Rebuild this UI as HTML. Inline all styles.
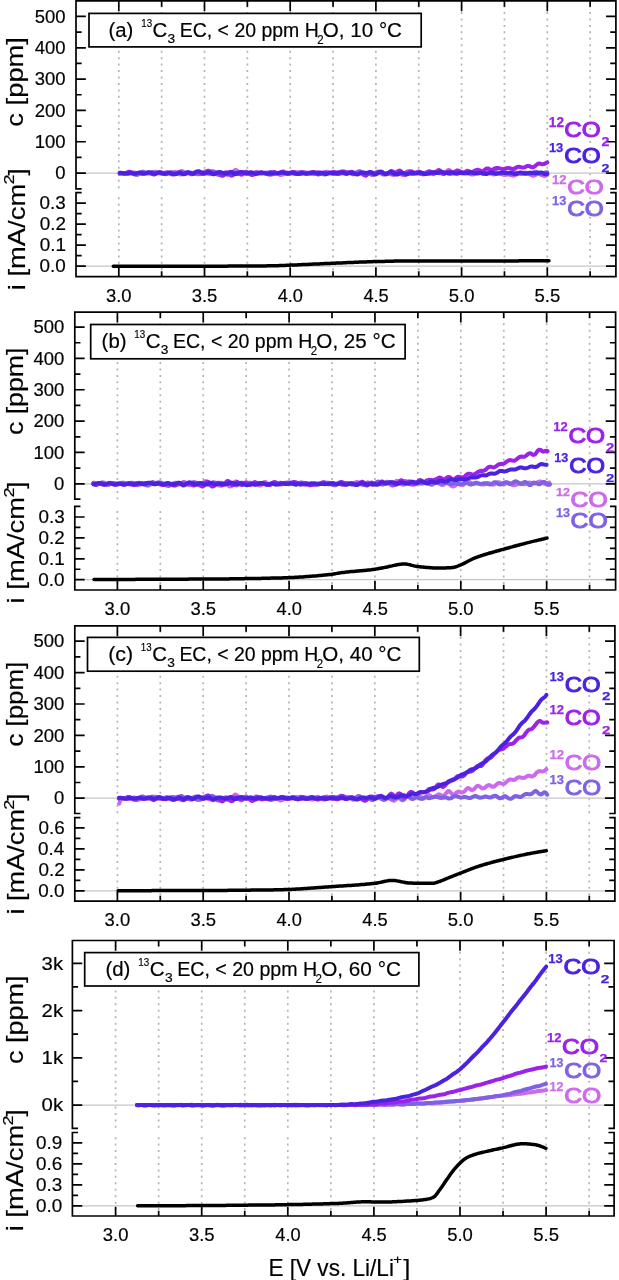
<!DOCTYPE html>
<html><head><meta charset="utf-8"><title>figure</title>
<style>html,body{margin:0;padding:0;background:#fff;}svg{display:block;}</style>
</head><body>
<svg width="619" height="1280" viewBox="0 0 619 1280" font-family='"Liberation Sans", Arial, Helvetica, sans-serif'>
<rect x="0" y="0" width="619" height="1280" fill="#fff"/>
<style>text{stroke:#000;stroke-width:0.18px;}</style>
<path d="M118.80,5.55 V188.90 M118.80,197.35 V275.70 M161.65,5.55 V188.90 M161.65,197.35 V275.70 M204.50,5.55 V188.90 M204.50,197.35 V275.70 M247.35,5.55 V188.90 M247.35,197.35 V275.70 M290.20,5.55 V188.90 M290.20,197.35 V275.70 M333.05,5.55 V188.90 M333.05,197.35 V275.70 M375.90,5.55 V188.90 M375.90,197.35 V275.70 M418.75,5.55 V188.90 M418.75,197.35 V275.70 M461.60,5.55 V188.90 M461.60,197.35 V275.70 M504.45,5.55 V188.90 M504.45,197.35 V275.70 M547.30,5.55 V188.90 M547.30,197.35 V275.70 M590.15,5.55 V188.90 M590.15,197.35 V275.70" stroke="#b4b4b4" stroke-width="1.7" stroke-dasharray="2.0 4.45" fill="none"/>
<path d="M76.00,173.10 H615.90 M76.00,266.20 H615.90" stroke="#c6c6c6" stroke-width="1.25" fill="none"/>
<path d="M119.7,174.0 L120.7,173.5 L121.7,173.1 L122.7,172.9 L123.7,172.9 L124.7,173.0 L125.7,173.2 L126.7,173.4 L127.7,173.6 L128.7,173.7 L129.7,173.7 L130.7,173.5 L131.7,173.2 L132.7,172.8 L133.7,172.5 L134.7,172.5 L135.7,172.8 L136.7,173.3 L137.7,173.7 L138.7,174.0 L139.7,174.0 L140.7,173.8 L141.7,173.4 L142.7,173.1 L143.7,172.9 L144.7,172.7 L145.7,172.7 L146.7,172.8 L147.7,172.9 L148.7,173.3 L149.7,173.6 L150.7,173.6 L151.7,173.3 L152.7,172.7 L153.7,172.1 L154.7,171.8 L155.7,171.7 L156.7,172.1 L157.7,172.7 L158.7,173.2 L159.7,173.6 L160.7,173.8 L161.7,173.5 L162.7,173.3 L163.7,172.9 L164.7,172.6 L165.7,172.4 L166.7,172.4 L167.7,172.7 L168.7,173.1 L169.7,173.6 L170.7,173.6 L171.7,173.3 L172.7,172.8 L173.7,172.2 L174.7,172.1 L175.7,172.1 L176.7,172.5 L177.7,173.0 L178.7,173.8 L179.7,174.3 L180.7,174.6 L181.7,174.4 L182.7,173.9 L183.7,173.2 L184.7,172.7 L185.7,172.3 L186.7,172.2 L187.7,172.5 L188.7,173.0 L189.7,173.7 L190.7,174.2 L191.7,174.4 L192.7,174.0 L193.7,173.1 L194.7,172.2 L195.7,171.7 L196.7,171.8 L197.7,172.4 L198.7,173.3 L199.7,173.9 L200.7,174.2 L201.7,173.9 L202.7,173.1 L203.7,172.0 L204.7,171.5 L205.7,171.5 L206.7,171.8 L207.7,172.6 L208.7,173.6 L209.7,174.2 L210.7,174.0 L211.7,173.6 L212.7,172.9 L213.7,172.1 L214.7,172.0 L215.7,172.3 L216.7,173.0 L217.7,173.9 L218.7,174.6 L219.7,175.0 L220.7,175.2 L221.7,174.9 L222.7,174.1 L223.7,173.2 L224.7,172.6 L225.7,172.1 L226.7,172.2 L227.7,172.8 L228.7,173.2 L229.7,173.9 L230.7,174.0 L231.7,173.2 L232.7,172.2 L233.7,171.1 L234.7,170.4 L235.7,169.9 L236.7,170.4 L237.7,171.3 L238.7,172.5 L239.7,173.8 L240.7,174.6 L241.7,174.8 L242.7,174.4 L243.7,173.4 L244.7,172.2 L245.7,171.6 L246.7,171.7 L247.7,172.3 L248.7,173.3 L249.7,173.8 L250.7,174.3 L251.7,174.4 L252.7,174.1 L253.7,173.3 L254.7,172.5 L255.7,171.9 L256.7,171.7 L257.7,172.1 L258.7,172.4 L259.7,172.6 L260.7,172.7 L261.7,172.8 L262.7,172.8 L263.7,172.8 L264.7,172.6 L265.7,172.5 L266.7,172.6 L267.7,172.7 L268.7,173.2 L269.7,173.9 L270.7,174.5 L271.7,174.6 L272.7,174.4 L273.7,174.0 L274.7,173.3 L275.7,173.0 L276.7,173.1 L277.7,173.8 L278.7,174.3 L279.7,174.8 L280.7,175.1 L281.7,174.9 L282.7,174.4 L283.7,173.9 L284.7,173.3 L285.7,172.9 L286.7,172.7 L287.7,172.6 L288.7,172.8 L289.7,173.1 L290.7,173.4 L291.7,173.3 L292.7,172.9 L293.7,172.4 L294.7,172.1 L295.7,172.0 L296.7,172.2 L297.7,172.5 L298.7,173.0 L299.7,173.5 L300.7,173.8 L301.7,173.8 L302.7,173.5 L303.7,173.2 L304.7,172.8 L305.7,172.5 L306.7,172.4 L307.7,172.5 L308.7,172.8 L309.7,173.2 L310.7,173.7 L311.7,174.1 L312.7,174.1 L313.7,174.0 L314.7,173.5 L315.7,172.9 L316.7,172.2 L317.7,171.9 L318.7,172.1 L319.7,172.7 L320.7,173.3 L321.7,173.9 L322.7,174.0 L323.7,173.6 L324.7,172.8 L325.7,172.1 L326.7,171.7 L327.7,171.8 L328.7,172.3 L329.7,172.9 L330.7,173.4 L331.7,173.8 L332.7,173.9 L333.7,173.7 L334.7,173.2 L335.7,172.5 L336.7,172.2 L337.7,172.2 L338.7,172.6 L339.7,173.0 L340.7,173.4 L341.7,173.6 L342.7,173.5 L343.7,173.1 L344.7,172.7 L345.7,172.3 L346.7,172.0 L347.7,172.0 L348.7,172.1 L349.7,172.4 L350.7,173.2 L351.7,173.8 L352.7,174.3 L353.7,174.3 L354.7,174.1 L355.7,173.5 L356.7,172.8 L357.7,172.3 L358.7,172.2 L359.7,172.6 L360.7,173.2 L361.7,173.8 L362.7,174.3 L363.7,174.7 L364.7,174.7 L365.7,174.3 L366.7,173.6 L367.7,173.3 L368.7,173.2 L369.7,173.6 L370.7,174.2 L371.7,174.8 L372.7,174.9 L373.7,174.6 L374.7,173.6 L375.7,172.6 L376.7,171.9 L377.7,171.5 L378.7,171.8 L379.7,172.4 L380.7,173.0 L381.7,173.7 L382.7,173.9 L383.7,173.9 L384.7,173.5 L385.7,173.3 L386.7,172.9 L387.7,172.9 L388.7,173.1 L389.7,173.6 L390.7,174.1 L391.7,174.4 L392.7,174.8 L393.7,175.1 L394.7,174.9 L395.7,174.3 L396.7,173.6 L397.7,173.1 L398.7,172.9 L399.7,173.3 L400.7,174.0 L401.7,174.7 L402.7,175.0 L403.7,174.8 L404.7,174.1 L405.7,172.8 L406.7,171.7 L407.7,171.2 L408.7,171.1 L409.7,171.5 L410.7,172.3 L411.7,173.0 L412.7,173.5 L413.7,173.6 L414.7,173.1 L415.7,172.6 L416.7,172.2 L417.7,171.6 L418.7,171.3 L419.7,171.6 L420.7,172.2 L421.7,173.3 L422.7,174.4 L423.7,174.4 L424.7,173.9 L425.7,173.1 L426.7,172.2 L427.7,171.8 L428.7,171.6 L429.7,171.8 L430.7,172.5 L431.7,173.5 L432.7,174.0 L433.7,174.2 L434.7,173.6 L435.7,173.0 L436.7,172.5 L437.7,172.0 L438.7,171.8 L439.7,172.0 L440.7,172.6 L441.7,173.2 L442.7,173.8 L443.7,173.9 L444.7,173.1 L445.7,172.3 L446.7,171.2 L447.7,170.3 L448.7,169.9 L449.7,170.2 L450.7,171.2 L451.7,172.4 L452.7,173.2 L453.7,173.5 L454.7,173.4 L455.7,172.9 L456.7,172.3 L457.7,172.0 L458.7,171.9 L459.7,172.3 L460.7,172.8 L461.7,173.3 L462.7,173.6 L463.7,173.6 L464.7,173.4 L465.7,173.1 L466.7,172.5 L467.7,172.1 L468.7,172.2 L469.7,172.9 L470.7,173.8 L471.7,174.5 L472.7,174.6 L473.7,174.4 L474.7,173.7 L475.7,172.7 L476.7,171.7 L477.7,171.3 L478.7,171.4 L479.7,171.8 L480.7,172.6 L481.7,173.4 L482.7,173.9 L483.7,174.0 L484.7,173.8 L485.7,173.4 L486.7,172.8 L487.7,172.3 L488.7,172.1 L489.7,172.4 L490.7,173.0 L491.7,173.8 L492.7,174.4 L493.7,174.6 L494.7,174.4 L495.7,174.0 L496.7,173.5 L497.7,173.0 L498.7,172.9 L499.7,173.1 L500.7,173.6 L501.7,174.1 L502.7,174.5 L503.7,174.9 L504.7,175.0 L505.7,174.8 L506.7,174.7 L507.7,174.6 L508.7,174.5 L509.7,174.7 L510.7,174.9 L511.7,175.3 L512.7,175.5 L513.7,175.7 L514.7,175.5 L515.7,175.0 L516.7,174.3 L517.7,173.6 L518.7,173.3 L519.7,173.3 L520.7,173.4 L521.7,173.7 L522.7,173.9 L523.7,174.0 L524.7,174.0 L525.7,173.8 L526.7,173.5 L527.7,173.4 L528.7,173.4 L529.7,173.9 L530.7,174.6 L531.7,175.4 L532.7,175.8 L533.7,175.8 L534.7,175.4 L535.7,174.9 L536.7,174.2 L537.7,173.8 L538.7,173.7 L539.7,174.0 L540.7,174.4 L541.7,175.1 L542.7,175.5 L543.7,175.8 L544.7,175.9 L545.7,175.6 L546.7,175.3 L547.3,174.7" fill="none" stroke="#cd6aec" stroke-width="4.0" stroke-linecap="round" stroke-linejoin="round"/>
<path d="M119.7,173.4 L120.7,173.0 L121.7,172.9 L122.7,172.9 L123.7,173.1 L124.7,173.2 L125.7,173.6 L126.7,173.8 L127.7,173.7 L128.7,173.2 L129.7,172.7 L130.7,172.4 L131.7,172.4 L132.7,172.8 L133.7,173.5 L134.7,174.2 L135.7,174.7 L136.7,174.9 L137.7,174.7 L138.7,174.1 L139.7,173.4 L140.7,172.6 L141.7,172.0 L142.7,171.7 L143.7,171.8 L144.7,172.3 L145.7,173.0 L146.7,173.3 L147.7,173.4 L148.7,172.9 L149.7,172.6 L150.7,172.4 L151.7,172.1 L152.7,172.0 L153.7,172.5 L154.7,172.7 L155.7,173.1 L156.7,173.2 L157.7,173.1 L158.7,173.0 L159.7,172.6 L160.7,172.5 L161.7,172.5 L162.7,172.8 L163.7,173.5 L164.7,174.1 L165.7,174.2 L166.7,174.1 L167.7,173.6 L168.7,173.1 L169.7,172.6 L170.7,172.2 L171.7,172.2 L172.7,172.4 L173.7,172.6 L174.7,173.2 L175.7,173.5 L176.7,173.7 L177.7,173.4 L178.7,172.8 L179.7,172.0 L180.7,171.3 L181.7,171.2 L182.7,171.4 L183.7,172.2 L184.7,173.0 L185.7,173.6 L186.7,173.6 L187.7,173.3 L188.7,173.1 L189.7,173.2 L190.7,173.0 L191.7,172.8 L192.7,172.8 L193.7,172.8 L194.7,173.3 L195.7,173.7 L196.7,174.1 L197.7,174.3 L198.7,174.2 L199.7,173.8 L200.7,173.6 L201.7,173.3 L202.7,173.2 L203.7,173.2 L204.7,173.3 L205.7,173.6 L206.7,173.6 L207.7,173.3 L208.7,172.9 L209.7,172.2 L210.7,171.6 L211.7,171.3 L212.7,171.2 L213.7,171.4 L214.7,172.0 L215.7,172.9 L216.7,173.8 L217.7,174.5 L218.7,174.8 L219.7,174.6 L220.7,174.1 L221.7,173.4 L222.7,173.0 L223.7,173.2 L224.7,173.6 L225.7,174.1 L226.7,174.6 L227.7,174.7 L228.7,174.5 L229.7,174.1 L230.7,173.5 L231.7,172.9 L232.7,172.2 L233.7,172.1 L234.7,172.6 L235.7,173.2 L236.7,173.7 L237.7,173.9 L238.7,173.7 L239.7,173.0 L240.7,172.3 L241.7,172.0 L242.7,172.0 L243.7,172.5 L244.7,173.0 L245.7,173.6 L246.7,173.7 L247.7,173.6 L248.7,173.1 L249.7,172.6 L250.7,172.3 L251.7,172.3 L252.7,172.7 L253.7,173.2 L254.7,173.9 L255.7,174.2 L256.7,174.1 L257.7,173.9 L258.7,173.5 L259.7,172.9 L260.7,172.6 L261.7,172.5 L262.7,172.8 L263.7,173.3 L264.7,173.5 L265.7,173.7 L266.7,173.4 L267.7,173.1 L268.7,172.6 L269.7,172.1 L270.7,171.9 L271.7,172.0 L272.7,172.4 L273.7,172.7 L274.7,173.1 L275.7,173.3 L276.7,173.3 L277.7,173.2 L278.7,173.0 L279.7,172.8 L280.7,172.7 L281.7,172.8 L282.7,172.9 L283.7,173.1 L284.7,173.4 L285.7,173.5 L286.7,173.5 L287.7,173.4 L288.7,173.3 L289.7,173.1 L290.7,173.1 L291.7,173.2 L292.7,173.4 L293.7,173.7 L294.7,173.9 L295.7,173.7 L296.7,173.4 L297.7,173.1 L298.7,172.6 L299.7,172.2 L300.7,172.1 L301.7,172.2 L302.7,172.6 L303.7,172.9 L304.7,173.3 L305.7,173.4 L306.7,173.3 L307.7,173.0 L308.7,173.0 L309.7,172.7 L310.7,172.5 L311.7,172.6 L312.7,172.9 L313.7,173.2 L314.7,173.4 L315.7,173.5 L316.7,173.2 L317.7,173.0 L318.7,172.8 L319.7,172.6 L320.7,172.7 L321.7,173.1 L322.7,173.7 L323.7,174.3 L324.7,174.6 L325.7,174.4 L326.7,173.9 L327.7,173.4 L328.7,173.0 L329.7,172.7 L330.7,172.6 L331.7,172.7 L332.7,172.8 L333.7,173.1 L334.7,173.3 L335.7,173.5 L336.7,173.6 L337.7,173.4 L338.7,172.8 L339.7,172.1 L340.7,171.8 L341.7,171.7 L342.7,172.0 L343.7,172.5 L344.7,172.8 L345.7,172.9 L346.7,173.0 L347.7,172.7 L348.7,172.7 L349.7,172.7 L350.7,173.0 L351.7,173.6 L352.7,174.1 L353.7,174.1 L354.7,173.8 L355.7,173.1 L356.7,172.3 L357.7,171.7 L358.7,171.2 L359.7,171.2 L360.7,171.6 L361.7,172.5 L362.7,173.5 L363.7,174.5 L364.7,175.0 L365.7,174.8 L366.7,174.3 L367.7,173.6 L368.7,173.3 L369.7,173.5 L370.7,174.1 L371.7,174.6 L372.7,174.7 L373.7,174.5 L374.7,173.9 L375.7,173.3 L376.7,172.6 L377.7,172.2 L378.7,172.1 L379.7,172.3 L380.7,172.9 L381.7,173.6 L382.7,174.3 L383.7,174.6 L384.7,174.5 L385.7,174.3 L386.7,173.6 L387.7,173.2 L388.7,173.1 L389.7,173.2 L390.7,173.7 L391.7,174.2 L392.7,174.3 L393.7,174.1 L394.7,173.4 L395.7,172.8 L396.7,172.2 L397.7,171.8 L398.7,171.6 L399.7,172.1 L400.7,172.9 L401.7,173.8 L402.7,174.1 L403.7,174.0 L404.7,173.6 L405.7,173.0 L406.7,172.4 L407.7,172.2 L408.7,172.5 L409.7,172.8 L410.7,173.3 L411.7,173.9 L412.7,174.0 L413.7,173.8 L414.7,173.3 L415.7,172.7 L416.7,172.5 L417.7,172.7 L418.7,173.3 L419.7,173.8 L420.7,174.1 L421.7,174.1 L422.7,173.7 L423.7,173.1 L424.7,172.7 L425.7,172.7 L426.7,172.9 L427.7,173.3 L428.7,173.7 L429.7,173.8 L430.7,173.5 L431.7,173.1 L432.7,172.6 L433.7,172.3 L434.7,172.1 L435.7,172.1 L436.7,172.4 L437.7,172.7 L438.7,173.0 L439.7,173.2 L440.7,173.3 L441.7,173.2 L442.7,173.0 L443.7,172.8 L444.7,172.6 L445.7,172.7 L446.7,173.0 L447.7,173.4 L448.7,173.9 L449.7,174.1 L450.7,174.0 L451.7,173.6 L452.7,173.1 L453.7,172.4 L454.7,172.1 L455.7,172.0 L456.7,172.1 L457.7,172.2 L458.7,172.5 L459.7,172.7 L460.7,172.8 L461.7,172.8 L462.7,172.6 L463.7,172.5 L464.7,172.5 L465.7,172.7 L466.7,172.9 L467.7,173.3 L468.7,173.6 L469.7,173.7 L470.7,173.7 L471.7,173.3 L472.7,172.8 L473.7,172.3 L474.7,172.0 L475.7,171.9 L476.7,172.0 L477.7,172.5 L478.7,172.9 L479.7,173.1 L480.7,173.1 L481.7,172.9 L482.7,172.7 L483.7,172.6 L484.7,172.4 L485.7,172.4 L486.7,172.6 L487.7,172.9 L488.7,173.1 L489.7,173.3 L490.7,173.3 L491.7,173.0 L492.7,172.5 L493.7,172.1 L494.7,171.7 L495.7,171.7 L496.7,172.1 L497.7,172.5 L498.7,173.1 L499.7,173.5 L500.7,173.7 L501.7,173.4 L502.7,173.1 L503.7,172.7 L504.7,172.3 L505.7,172.3 L506.7,172.7 L507.7,173.2 L508.7,173.8 L509.7,174.2 L510.7,174.4 L511.7,174.3 L512.7,173.7 L513.7,173.0 L514.7,172.5 L515.7,172.5 L516.7,172.7 L517.7,173.1 L518.7,173.4 L519.7,173.7 L520.7,173.8 L521.7,173.6 L522.7,173.1 L523.7,172.8 L524.7,172.6 L525.7,172.7 L526.7,172.9 L527.7,173.4 L528.7,173.7 L529.7,174.0 L530.7,174.0 L531.7,173.8 L532.7,173.2 L533.7,172.5 L534.7,172.0 L535.7,171.7 L536.7,171.8 L537.7,172.7 L538.7,173.4 L539.7,174.1 L540.7,174.4 L541.7,174.3 L542.7,173.9 L543.7,173.4 L544.7,172.7 L545.7,172.3 L546.7,172.2 L547.3,172.2" fill="none" stroke="#7f62e4" stroke-width="4.0" stroke-linecap="round" stroke-linejoin="round"/>
<path d="M119.7,173.0 L120.7,173.3 L121.7,173.5 L122.7,173.8 L123.7,173.8 L124.7,173.5 L125.7,173.1 L126.7,172.7 L127.7,172.1 L128.7,171.7 L129.7,171.8 L130.7,172.2 L131.7,173.0 L132.7,173.7 L133.7,174.1 L134.7,174.2 L135.7,174.0 L136.7,173.4 L137.7,172.9 L138.7,172.7 L139.7,172.8 L140.7,173.1 L141.7,173.5 L142.7,173.8 L143.7,173.8 L144.7,173.6 L145.7,173.3 L146.7,172.9 L147.7,172.6 L148.7,172.5 L149.7,172.8 L150.7,173.3 L151.7,173.8 L152.7,174.2 L153.7,174.5 L154.7,174.5 L155.7,174.1 L156.7,173.4 L157.7,172.8 L158.7,172.3 L159.7,172.3 L160.7,172.5 L161.7,173.1 L162.7,173.6 L163.7,173.8 L164.7,173.6 L165.7,173.1 L166.7,172.6 L167.7,172.4 L168.7,172.6 L169.7,173.2 L170.7,173.7 L171.7,174.2 L172.7,174.6 L173.7,174.4 L174.7,174.1 L175.7,173.6 L176.7,173.1 L177.7,172.6 L178.7,172.2 L179.7,172.1 L180.7,172.7 L181.7,173.5 L182.7,174.1 L183.7,174.3 L184.7,174.0 L185.7,173.6 L186.7,173.1 L187.7,172.9 L188.7,172.8 L189.7,173.3 L190.7,173.6 L191.7,173.8 L192.7,173.8 L193.7,173.5 L194.7,173.0 L195.7,172.3 L196.7,171.9 L197.7,171.7 L198.7,171.9 L199.7,172.7 L200.7,173.4 L201.7,173.7 L202.7,174.1 L203.7,173.8 L204.7,173.1 L205.7,172.3 L206.7,171.3 L207.7,170.8 L208.7,170.8 L209.7,171.4 L210.7,172.4 L211.7,173.5 L212.7,174.2 L213.7,174.3 L214.7,174.0 L215.7,173.2 L216.7,172.5 L217.7,172.4 L218.7,173.0 L219.7,174.1 L220.7,175.0 L221.7,175.8 L222.7,175.8 L223.7,175.2 L224.7,174.3 L225.7,173.3 L226.7,172.8 L227.7,173.0 L228.7,173.5 L229.7,174.4 L230.7,175.4 L231.7,175.7 L232.7,175.4 L233.7,174.7 L234.7,173.5 L235.7,172.9 L236.7,172.7 L237.7,173.0 L238.7,173.5 L239.7,173.8 L240.7,174.3 L241.7,174.3 L242.7,173.9 L243.7,173.2 L244.7,172.6 L245.7,172.2 L246.7,172.2 L247.7,172.6 L248.7,173.5 L249.7,174.1 L250.7,174.5 L251.7,174.9 L252.7,174.9 L253.7,174.6 L254.7,174.2 L255.7,173.4 L256.7,173.0 L257.7,172.8 L258.7,173.0 L259.7,173.3 L260.7,173.5 L261.7,173.4 L262.7,173.3 L263.7,173.1 L264.7,173.0 L265.7,173.1 L266.7,173.5 L267.7,174.1 L268.7,174.5 L269.7,174.6 L270.7,174.4 L271.7,173.7 L272.7,172.7 L273.7,172.1 L274.7,172.1 L275.7,172.5 L276.7,173.0 L277.7,173.4 L278.7,173.5 L279.7,173.2 L280.7,172.7 L281.7,172.0 L282.7,171.6 L283.7,171.6 L284.7,172.0 L285.7,172.8 L286.7,173.6 L287.7,174.1 L288.7,174.1 L289.7,173.7 L290.7,172.9 L291.7,172.3 L292.7,171.9 L293.7,172.1 L294.7,172.5 L295.7,173.2 L296.7,173.7 L297.7,174.1 L298.7,174.1 L299.7,173.7 L300.7,173.0 L301.7,172.5 L302.7,172.2 L303.7,172.3 L304.7,172.7 L305.7,173.0 L306.7,173.3 L307.7,173.6 L308.7,173.6 L309.7,173.5 L310.7,173.0 L311.7,172.5 L312.7,172.0 L313.7,171.9 L314.7,172.3 L315.7,173.0 L316.7,173.8 L317.7,174.4 L318.7,174.4 L319.7,174.1 L320.7,173.6 L321.7,173.0 L322.7,172.6 L323.7,172.5 L324.7,172.6 L325.7,172.7 L326.7,173.0 L327.7,173.2 L328.7,173.3 L329.7,173.1 L330.7,172.7 L331.7,172.5 L332.7,172.1 L333.7,171.8 L334.7,172.1 L335.7,172.6 L336.7,173.5 L337.7,174.1 L338.7,174.1 L339.7,173.5 L340.7,172.7 L341.7,171.9 L342.7,171.4 L343.7,171.4 L344.7,171.9 L345.7,172.5 L346.7,172.8 L347.7,172.8 L348.7,172.6 L349.7,172.4 L350.7,171.9 L351.7,171.8 L352.7,172.0 L353.7,172.5 L354.7,173.2 L355.7,173.8 L356.7,174.1 L357.7,174.1 L358.7,173.5 L359.7,172.9 L360.7,172.5 L361.7,172.7 L362.7,173.5 L363.7,174.7 L364.7,175.3 L365.7,175.7 L366.7,175.2 L367.7,174.2 L368.7,173.2 L369.7,172.3 L370.7,172.1 L371.7,172.2 L372.7,172.7 L373.7,173.0 L374.7,173.2 L375.7,173.1 L376.7,172.9 L377.7,172.6 L378.7,172.1 L379.7,171.6 L380.7,171.4 L381.7,171.6 L382.7,172.4 L383.7,173.4 L384.7,174.0 L385.7,174.3 L386.7,174.2 L387.7,173.8 L388.7,173.0 L389.7,171.9 L390.7,171.2 L391.7,171.0 L392.7,171.5 L393.7,172.0 L394.7,172.7 L395.7,172.8 L396.7,172.2 L397.7,171.5 L398.7,170.8 L399.7,170.6 L400.7,171.1 L401.7,172.0 L402.7,173.2 L403.7,174.2 L404.7,174.7 L405.7,174.9 L406.7,174.4 L407.7,173.6 L408.7,172.7 L409.7,171.7 L410.7,171.3 L411.7,171.4 L412.7,171.9 L413.7,172.6 L414.7,173.0 L415.7,172.9 L416.7,172.6 L417.7,172.4 L418.7,172.5 L419.7,172.2 L420.7,172.5 L421.7,173.1 L422.7,173.5 L423.7,174.0 L424.7,173.9 L425.7,173.5 L426.7,172.9 L427.7,172.0 L428.7,171.4 L429.7,171.3 L430.7,171.9 L431.7,172.6 L432.7,173.4 L433.7,173.5 L434.7,173.2 L435.7,172.4 L436.7,171.4 L437.7,170.5 L438.7,170.0 L439.7,170.3 L440.7,171.2 L441.7,172.2 L442.7,173.4 L443.7,173.9 L444.7,173.7 L445.7,173.0 L446.7,172.3 L447.7,171.7 L448.7,171.5 L449.7,171.7 L450.7,172.1 L451.7,172.3 L452.7,172.4 L453.7,172.1 L454.7,171.8 L455.7,171.2 L456.7,170.6 L457.7,170.5 L458.7,170.7 L459.7,171.3 L460.7,171.8 L461.7,172.4 L462.7,172.8 L463.7,172.8 L464.7,172.4 L465.7,171.6 L466.7,171.0 L467.7,170.8 L468.7,171.1 L469.7,171.5 L470.7,172.0 L471.7,172.2 L472.7,171.9 L473.7,171.4 L474.7,170.7 L475.7,170.3 L476.7,169.9 L477.7,169.8 L478.7,170.0 L479.7,170.4 L480.7,170.9 L481.7,171.3 L482.7,171.3 L483.7,170.7 L484.7,169.8 L485.7,169.0 L486.7,168.5 L487.7,168.4 L488.7,168.7 L489.7,169.2 L490.7,169.7 L491.7,169.9 L492.7,169.5 L493.7,169.0 L494.7,168.4 L495.7,168.1 L496.7,167.9 L497.7,167.9 L498.7,168.1 L499.7,168.4 L500.7,168.6 L501.7,168.9 L502.7,169.1 L503.7,169.1 L504.7,168.9 L505.7,168.5 L506.7,168.3 L507.7,168.1 L508.7,168.0 L509.7,168.2 L510.7,168.5 L511.7,168.9 L512.7,169.1 L513.7,169.0 L514.7,168.4 L515.7,167.9 L516.7,167.4 L517.7,166.9 L518.7,166.7 L519.7,166.8 L520.7,167.1 L521.7,167.4 L522.7,167.6 L523.7,167.6 L524.7,167.4 L525.7,166.8 L526.7,166.2 L527.7,165.9 L528.7,165.9 L529.7,166.1 L530.7,166.8 L531.7,167.3 L532.7,167.3 L533.7,167.0 L534.7,166.4 L535.7,165.5 L536.7,164.7 L537.7,163.9 L538.7,163.6 L539.7,163.5 L540.7,163.8 L541.7,164.2 L542.7,164.2 L543.7,164.1 L544.7,163.7 L545.7,163.1 L546.7,162.6 L547.3,162.4" fill="none" stroke="#9b22e8" stroke-width="4.0" stroke-linecap="round" stroke-linejoin="round"/>
<path d="M119.7,172.7 L120.7,172.7 L121.7,172.8 L122.7,173.1 L123.7,173.3 L124.7,173.6 L125.7,173.6 L126.7,173.6 L127.7,173.4 L128.7,173.2 L129.7,172.9 L130.7,172.8 L131.7,173.0 L132.7,173.2 L133.7,173.4 L134.7,173.5 L135.7,173.4 L136.7,173.2 L137.7,172.9 L138.7,172.7 L139.7,172.6 L140.7,172.7 L141.7,173.0 L142.7,173.3 L143.7,173.6 L144.7,173.6 L145.7,173.3 L146.7,172.9 L147.7,172.5 L148.7,172.3 L149.7,172.4 L150.7,172.6 L151.7,172.9 L152.7,173.3 L153.7,173.6 L154.7,173.5 L155.7,173.4 L156.7,173.1 L157.7,172.8 L158.7,172.6 L159.7,172.5 L160.7,172.7 L161.7,173.0 L162.7,173.3 L163.7,173.5 L164.7,173.7 L165.7,173.6 L166.7,173.4 L167.7,173.0 L168.7,172.8 L169.7,172.8 L170.7,173.0 L171.7,173.4 L172.7,173.9 L173.7,174.1 L174.7,174.2 L175.7,174.2 L176.7,173.8 L177.7,173.5 L178.7,173.1 L179.7,173.0 L180.7,173.1 L181.7,173.5 L182.7,173.8 L183.7,174.1 L184.7,173.9 L185.7,173.3 L186.7,172.7 L187.7,172.3 L188.7,172.3 L189.7,172.5 L190.7,173.0 L191.7,173.6 L192.7,173.9 L193.7,173.8 L194.7,173.2 L195.7,172.4 L196.7,171.7 L197.7,171.4 L198.7,171.3 L199.7,171.5 L200.7,172.0 L201.7,172.4 L202.7,172.8 L203.7,173.1 L204.7,173.2 L205.7,173.2 L206.7,172.8 L207.7,172.5 L208.7,172.5 L209.7,172.6 L210.7,172.9 L211.7,173.4 L212.7,173.8 L213.7,174.0 L214.7,173.8 L215.7,173.5 L216.7,173.0 L217.7,172.5 L218.7,172.2 L219.7,172.1 L220.7,172.2 L221.7,172.5 L222.7,172.9 L223.7,173.3 L224.7,173.5 L225.7,173.6 L226.7,173.6 L227.7,173.2 L228.7,172.6 L229.7,172.1 L230.7,171.8 L231.7,172.1 L232.7,172.8 L233.7,173.5 L234.7,174.0 L235.7,174.1 L236.7,173.7 L237.7,173.1 L238.7,172.6 L239.7,172.2 L240.7,172.0 L241.7,172.1 L242.7,172.3 L243.7,172.9 L244.7,173.2 L245.7,173.4 L246.7,173.5 L247.7,173.2 L248.7,172.9 L249.7,172.6 L250.7,172.5 L251.7,172.6 L252.7,172.8 L253.7,173.2 L254.7,173.6 L255.7,173.7 L256.7,173.6 L257.7,173.3 L258.7,172.9 L259.7,172.7 L260.7,172.5 L261.7,172.5 L262.7,172.7 L263.7,172.9 L264.7,173.2 L265.7,173.4 L266.7,173.5 L267.7,173.4 L268.7,173.2 L269.7,173.0 L270.7,173.0 L271.7,173.2 L272.7,173.4 L273.7,173.6 L274.7,173.6 L275.7,173.6 L276.7,173.4 L277.7,173.1 L278.7,172.8 L279.7,172.6 L280.7,172.4 L281.7,172.5 L282.7,172.6 L283.7,172.9 L284.7,173.1 L285.7,173.2 L286.7,173.2 L287.7,173.0 L288.7,172.9 L289.7,172.8 L290.7,172.7 L291.7,172.8 L292.7,172.8 L293.7,173.0 L294.7,173.2 L295.7,173.5 L296.7,173.7 L297.7,173.8 L298.7,173.8 L299.7,173.7 L300.7,173.5 L301.7,173.3 L302.7,173.2 L303.7,173.4 L304.7,173.6 L305.7,173.8 L306.7,173.8 L307.7,173.6 L308.7,173.3 L309.7,173.0 L310.7,172.8 L311.7,172.7 L312.7,172.7 L313.7,172.8 L314.7,173.2 L315.7,173.3 L316.7,173.3 L317.7,173.2 L318.7,173.1 L319.7,172.9 L320.7,172.8 L321.7,172.9 L322.7,173.1 L323.7,173.5 L324.7,173.8 L325.7,173.9 L326.7,173.9 L327.7,173.6 L328.7,173.3 L329.7,173.0 L330.7,173.0 L331.7,173.0 L332.7,173.3 L333.7,173.5 L334.7,173.5 L335.7,173.4 L336.7,173.2 L337.7,172.9 L338.7,172.6 L339.7,172.6 L340.7,172.5 L341.7,172.6 L342.7,172.7 L343.7,173.0 L344.7,173.5 L345.7,173.8 L346.7,173.9 L347.7,173.7 L348.7,173.4 L349.7,173.1 L350.7,172.9 L351.7,172.8 L352.7,173.1 L353.7,173.5 L354.7,173.9 L355.7,174.2 L356.7,174.4 L357.7,174.4 L358.7,174.0 L359.7,173.5 L360.7,173.0 L361.7,172.7 L362.7,172.6 L363.7,172.5 L364.7,172.7 L365.7,173.0 L366.7,172.9 L367.7,172.7 L368.7,172.3 L369.7,172.1 L370.7,172.4 L371.7,172.9 L372.7,173.5 L373.7,174.1 L374.7,174.5 L375.7,174.4 L376.7,174.0 L377.7,173.5 L378.7,172.6 L379.7,172.2 L380.7,172.0 L381.7,172.2 L382.7,172.6 L383.7,173.3 L384.7,173.8 L385.7,174.0 L386.7,173.9 L387.7,173.3 L388.7,172.8 L389.7,172.2 L390.7,172.1 L391.7,172.5 L392.7,173.0 L393.7,173.7 L394.7,174.1 L395.7,174.3 L396.7,174.5 L397.7,174.4 L398.7,173.9 L399.7,173.4 L400.7,173.0 L401.7,172.8 L402.7,172.9 L403.7,173.1 L404.7,173.3 L405.7,173.8 L406.7,174.1 L407.7,174.1 L408.7,173.8 L409.7,173.5 L410.7,173.2 L411.7,173.0 L412.7,173.0 L413.7,173.0 L414.7,173.2 L415.7,173.5 L416.7,173.5 L417.7,173.2 L418.7,172.9 L419.7,172.6 L420.7,172.6 L421.7,172.8 L422.7,173.3 L423.7,173.8 L424.7,173.9 L425.7,174.0 L426.7,173.9 L427.7,173.6 L428.7,173.4 L429.7,173.2 L430.7,172.8 L431.7,172.4 L432.7,172.3 L433.7,172.3 L434.7,172.5 L435.7,172.8 L436.7,173.0 L437.7,172.9 L438.7,172.7 L439.7,172.3 L440.7,172.1 L441.7,172.0 L442.7,172.1 L443.7,172.4 L444.7,172.7 L445.7,172.9 L446.7,173.0 L447.7,173.0 L448.7,173.0 L449.7,172.9 L450.7,172.7 L451.7,172.6 L452.7,172.6 L453.7,172.9 L454.7,173.3 L455.7,173.6 L456.7,173.7 L457.7,173.5 L458.7,173.3 L459.7,173.0 L460.7,172.7 L461.7,172.7 L462.7,172.8 L463.7,173.1 L464.7,173.2 L465.7,173.3 L466.7,173.2 L467.7,173.1 L468.7,172.8 L469.7,172.5 L470.7,172.3 L471.7,172.5 L472.7,172.8 L473.7,173.1 L474.7,173.4 L475.7,173.5 L476.7,173.6 L477.7,173.5 L478.7,173.3 L479.7,173.1 L480.7,173.1 L481.7,173.1 L482.7,173.3 L483.7,173.5 L484.7,173.8 L485.7,174.0 L486.7,174.0 L487.7,173.7 L488.7,173.4 L489.7,173.0 L490.7,172.8 L491.7,172.7 L492.7,172.9 L493.7,173.2 L494.7,173.5 L495.7,173.8 L496.7,173.8 L497.7,173.7 L498.7,173.3 L499.7,173.0 L500.7,172.8 L501.7,172.6 L502.7,172.7 L503.7,172.9 L504.7,173.1 L505.7,173.2 L506.7,173.2 L507.7,173.1 L508.7,172.9 L509.7,172.7 L510.7,172.7 L511.7,172.9 L512.7,173.3 L513.7,173.8 L514.7,174.0 L515.7,174.0 L516.7,173.9 L517.7,173.4 L518.7,173.0 L519.7,172.6 L520.7,172.5 L521.7,172.6 L522.7,172.9 L523.7,173.2 L524.7,173.5 L525.7,173.6 L526.7,173.5 L527.7,173.3 L528.7,173.0 L529.7,172.8 L530.7,172.7 L531.7,172.7 L532.7,172.9 L533.7,173.2 L534.7,173.4 L535.7,173.4 L536.7,173.3 L537.7,173.0 L538.7,172.8 L539.7,172.7 L540.7,172.5 L541.7,172.6 L542.7,172.9 L543.7,173.6 L544.7,174.1 L545.7,174.4 L546.7,174.2 L547.3,173.8" fill="none" stroke="#4a22e0" stroke-width="4.0" stroke-linecap="round" stroke-linejoin="round"/>
<path d="M113.3,266.2 L114.3,266.2 L115.3,266.2 L116.3,266.2 L117.3,266.2 L118.3,266.2 L119.3,266.2 L120.3,266.2 L121.3,266.2 L122.3,266.2 L123.3,266.2 L124.3,266.2 L125.3,266.2 L126.3,266.2 L127.3,266.2 L128.3,266.2 L129.3,266.2 L130.3,266.2 L131.3,266.2 L132.3,266.2 L133.3,266.2 L134.3,266.2 L135.3,266.2 L136.3,266.2 L137.3,266.2 L138.3,266.2 L139.3,266.2 L140.3,266.2 L141.3,266.2 L142.3,266.2 L143.3,266.2 L144.3,266.2 L145.3,266.2 L146.3,266.2 L147.3,266.2 L148.3,266.2 L149.3,266.2 L150.3,266.2 L151.3,266.2 L152.3,266.2 L153.3,266.2 L154.3,266.2 L155.3,266.2 L156.3,266.2 L157.3,266.2 L158.3,266.2 L159.3,266.2 L160.3,266.2 L161.3,266.2 L162.3,266.2 L163.3,266.2 L164.3,266.2 L165.3,266.2 L166.3,266.2 L167.3,266.2 L168.3,266.2 L169.3,266.2 L170.3,266.2 L171.3,266.2 L172.3,266.2 L173.3,266.2 L174.3,266.2 L175.3,266.2 L176.3,266.2 L177.3,266.2 L178.3,266.2 L179.3,266.2 L180.3,266.2 L181.3,266.2 L182.3,266.2 L183.3,266.2 L184.3,266.2 L185.3,266.2 L186.3,266.2 L187.3,266.2 L188.3,266.2 L189.3,266.2 L190.3,266.2 L191.3,266.2 L192.3,266.2 L193.3,266.2 L194.3,266.2 L195.3,266.2 L196.3,266.2 L197.3,266.2 L198.3,266.2 L199.3,266.2 L200.3,266.2 L201.3,266.2 L202.3,266.2 L203.3,266.2 L204.3,266.2 L205.3,266.2 L206.3,266.2 L207.3,266.2 L208.3,266.2 L209.3,266.2 L210.3,266.2 L211.3,266.2 L212.3,266.2 L213.3,266.2 L214.3,266.2 L215.3,266.2 L216.3,266.2 L217.3,266.2 L218.3,266.2 L219.3,266.2 L220.3,266.2 L221.3,266.2 L222.3,266.2 L223.3,266.2 L224.3,266.2 L225.3,266.2 L226.3,266.2 L227.3,266.2 L228.3,266.1 L229.3,266.1 L230.3,266.1 L231.3,266.1 L232.3,266.1 L233.3,266.1 L234.3,266.1 L235.3,266.1 L236.3,266.1 L237.3,266.1 L238.3,266.1 L239.3,266.1 L240.3,266.1 L241.3,266.1 L242.3,266.1 L243.3,266.1 L244.3,266.1 L245.3,266.1 L246.3,266.0 L247.3,266.0 L248.3,266.0 L249.3,266.0 L250.3,266.0 L251.3,266.0 L252.3,266.0 L253.3,266.0 L254.3,266.0 L255.3,266.0 L256.3,266.0 L257.3,266.0 L258.3,265.9 L259.3,265.9 L260.3,265.9 L261.3,265.9 L262.3,265.9 L263.3,265.9 L264.3,265.9 L265.3,265.9 L266.3,265.9 L267.3,265.8 L268.3,265.8 L269.3,265.8 L270.3,265.8 L271.3,265.8 L272.3,265.8 L273.3,265.8 L274.3,265.8 L275.3,265.7 L276.3,265.7 L277.3,265.7 L278.3,265.7 L279.3,265.6 L280.3,265.6 L281.3,265.5 L282.3,265.5 L283.3,265.5 L284.3,265.4 L285.3,265.4 L286.3,265.3 L287.3,265.3 L288.3,265.2 L289.3,265.2 L290.3,265.1 L291.3,265.1 L292.3,265.1 L293.3,265.0 L294.3,265.0 L295.3,264.9 L296.3,264.9 L297.3,264.9 L298.3,264.8 L299.3,264.8 L300.3,264.7 L301.3,264.7 L302.3,264.6 L303.3,264.6 L304.3,264.5 L305.3,264.5 L306.3,264.5 L307.3,264.4 L308.3,264.4 L309.3,264.3 L310.3,264.3 L311.3,264.2 L312.3,264.2 L313.3,264.1 L314.3,264.1 L315.3,264.0 L316.3,264.0 L317.3,264.0 L318.3,263.9 L319.3,263.9 L320.3,263.8 L321.3,263.8 L322.3,263.7 L323.3,263.7 L324.3,263.6 L325.3,263.6 L326.3,263.5 L327.3,263.5 L328.3,263.5 L329.3,263.4 L330.3,263.4 L331.3,263.3 L332.3,263.3 L333.3,263.2 L334.3,263.2 L335.3,263.2 L336.3,263.1 L337.3,263.1 L338.3,263.0 L339.3,263.0 L340.3,262.9 L341.3,262.9 L342.3,262.9 L343.3,262.8 L344.3,262.8 L345.3,262.7 L346.3,262.7 L347.3,262.6 L348.3,262.6 L349.3,262.6 L350.3,262.5 L351.3,262.5 L352.3,262.4 L353.3,262.4 L354.3,262.3 L355.3,262.3 L356.3,262.3 L357.3,262.2 L358.3,262.2 L359.3,262.1 L360.3,262.1 L361.3,262.1 L362.3,262.0 L363.3,262.0 L364.3,261.9 L365.3,261.9 L366.3,261.9 L367.3,261.8 L368.3,261.8 L369.3,261.8 L370.3,261.7 L371.3,261.7 L372.3,261.7 L373.3,261.6 L374.3,261.6 L375.3,261.6 L376.3,261.6 L377.3,261.5 L378.3,261.5 L379.3,261.5 L380.3,261.5 L381.3,261.4 L382.3,261.4 L383.3,261.4 L384.3,261.4 L385.3,261.3 L386.3,261.3 L387.3,261.3 L388.3,261.3 L389.3,261.2 L390.3,261.2 L391.3,261.2 L392.3,261.2 L393.3,261.2 L394.3,261.1 L395.3,261.1 L396.3,261.1 L397.3,261.1 L398.3,261.1 L399.3,261.0 L400.3,261.0 L401.3,261.0 L402.3,261.0 L403.3,261.0 L404.3,261.0 L405.3,261.0 L406.3,261.0 L407.3,261.0 L408.3,261.0 L409.3,261.0 L410.3,260.9 L411.3,260.9 L412.3,260.9 L413.3,260.9 L414.3,260.9 L415.3,260.9 L416.3,260.9 L417.3,260.9 L418.3,260.9 L419.3,260.9 L420.3,260.9 L421.3,260.9 L422.3,260.9 L423.3,260.9 L424.3,260.9 L425.3,260.9 L426.3,260.9 L427.3,260.9 L428.3,260.9 L429.3,260.9 L430.3,260.9 L431.3,260.9 L432.3,260.9 L433.3,260.9 L434.3,260.9 L435.3,260.9 L436.3,260.9 L437.3,260.9 L438.3,260.9 L439.3,260.9 L440.3,260.9 L441.3,260.9 L442.3,260.9 L443.3,260.9 L444.3,260.9 L445.3,260.9 L446.3,260.9 L447.3,260.9 L448.3,260.9 L449.3,260.9 L450.3,260.9 L451.3,260.9 L452.3,260.9 L453.3,260.9 L454.3,260.9 L455.3,260.9 L456.3,260.9 L457.3,260.9 L458.3,260.9 L459.3,260.9 L460.3,260.9 L461.3,260.9 L462.3,260.9 L463.3,260.9 L464.3,260.9 L465.3,260.9 L466.3,260.9 L467.3,260.9 L468.3,260.9 L469.3,260.9 L470.3,260.9 L471.3,260.9 L472.3,260.9 L473.3,260.9 L474.3,260.9 L475.3,260.9 L476.3,260.9 L477.3,260.9 L478.3,260.9 L479.3,260.9 L480.3,260.9 L481.3,260.9 L482.3,260.9 L483.3,260.9 L484.3,260.9 L485.3,260.9 L486.3,260.9 L487.3,260.9 L488.3,260.9 L489.3,260.9 L490.3,260.9 L491.3,260.9 L492.3,260.9 L493.3,260.9 L494.3,260.9 L495.3,260.9 L496.3,260.9 L497.3,260.9 L498.3,260.9 L499.3,260.9 L500.3,260.9 L501.3,260.9 L502.3,260.9 L503.3,260.9 L504.3,260.9 L505.3,260.9 L506.3,260.9 L507.3,260.9 L508.3,260.9 L509.3,260.9 L510.3,260.9 L511.3,260.9 L512.3,260.9 L513.3,260.9 L514.3,260.9 L515.3,260.9 L516.3,260.9 L517.3,260.9 L518.3,260.9 L519.3,260.8 L520.3,260.8 L521.3,260.8 L522.3,260.8 L523.3,260.8 L524.3,260.8 L525.3,260.8 L526.3,260.8 L527.3,260.8 L528.3,260.8 L529.3,260.8 L530.3,260.8 L531.3,260.8 L532.3,260.8 L533.3,260.8 L534.3,260.8 L535.3,260.8 L536.3,260.8 L537.3,260.8 L538.3,260.8 L539.3,260.8 L540.3,260.8 L541.3,260.8 L542.3,260.8 L543.3,260.8 L544.3,260.8 L545.3,260.8 L546.3,260.8 L547.3,260.7 L548.3,260.7 L549.0,260.7" fill="none" stroke="#000" stroke-width="3.5" stroke-linecap="round" stroke-linejoin="round"/>
<rect x="89.00" y="13.40" width="332.20" height="33.50" fill="#fff" stroke="#000" stroke-width="1.7"/>
<text x="108.54" y="36.60" font-size="19.60" font-weight="normal" fill="#000" textLength="24.84" lengthAdjust="spacingAndGlyphs">(a)</text>
<text x="141.19" y="27.10" font-size="11.60" font-weight="normal" fill="#000" textLength="10.89" lengthAdjust="spacingAndGlyphs">13</text>
<text x="152.61" y="36.60" font-size="19.60" font-weight="normal" fill="#000" textLength="14.73" lengthAdjust="spacingAndGlyphs">C</text>
<text x="167.64" y="42.70" font-size="12.20" font-weight="normal" fill="#000" textLength="7.63" lengthAdjust="spacingAndGlyphs">3</text>
<text x="179.78" y="36.60" font-size="19.60" font-weight="normal" fill="#000" textLength="139.02" lengthAdjust="spacingAndGlyphs">EC, &lt; 20 ppm H</text>
<text x="317.24" y="43.50" font-size="12.20" font-weight="normal" fill="#000" textLength="6.35" lengthAdjust="spacingAndGlyphs">2</text>
<text x="322.85" y="36.60" font-size="19.60" font-weight="normal" fill="#000" textLength="79.14" lengthAdjust="spacingAndGlyphs">O, 10 °C</text>
<path d="M76.00,0.80 H615.90 M76.00,276.70 H615.90 M76.00,0.80 V188.90 M76.00,192.70 V276.70 M615.90,0.80 V188.90 M615.90,192.70 V276.70 M76.00,188.90 H80.80 M615.90,188.90 H611.10 M76.00,192.70 H80.80 M615.90,192.70 H611.10 M76.00,173.10 H85.00 M615.90,173.10 H606.90 M76.00,157.44 H80.80 M615.90,157.44 H611.10 M76.00,141.77 H85.00 M615.90,141.77 H606.90 M76.00,126.10 H80.80 M615.90,126.10 H611.10 M76.00,110.44 H85.00 M615.90,110.44 H606.90 M76.00,94.77 H80.80 M615.90,94.77 H611.10 M76.00,79.11 H85.00 M615.90,79.11 H606.90 M76.00,63.44 H80.80 M615.90,63.44 H611.10 M76.00,47.78 H85.00 M615.90,47.78 H606.90 M76.00,32.11 H80.80 M615.90,32.11 H611.10 M76.00,16.45 H85.00 M615.90,16.45 H606.90 M76.00,266.20 H85.00 M615.90,266.20 H606.90 M76.00,255.70 H80.80 M615.90,255.70 H611.10 M76.00,245.20 H85.00 M615.90,245.20 H606.90 M76.00,234.70 H80.80 M615.90,234.70 H611.10 M76.00,224.20 H85.00 M615.90,224.20 H606.90 M76.00,213.70 H80.80 M615.90,213.70 H611.10 M76.00,203.20 H85.00 M615.90,203.20 H606.90 M118.80,0.80 V10.30 M118.80,276.70 V268.20 M161.65,0.80 V5.80 M161.65,276.70 V272.20 M204.50,0.80 V10.30 M204.50,276.70 V268.20 M247.35,0.80 V5.80 M247.35,276.70 V272.20 M290.20,0.80 V10.30 M290.20,276.70 V268.20 M333.05,0.80 V5.80 M333.05,276.70 V272.20 M375.90,0.80 V10.30 M375.90,276.70 V268.20 M418.75,0.80 V5.80 M418.75,276.70 V272.20 M461.60,0.80 V10.30 M461.60,276.70 V268.20 M504.45,0.80 V5.80 M504.45,276.70 V272.20 M547.30,0.80 V10.30 M547.30,276.70 V268.20 M590.15,0.80 V5.80 M590.15,276.70 V272.20" stroke="#000" stroke-width="1.7" fill="none" stroke-linecap="square"/>
<text x="55.23" y="179.30" font-size="18.50" font-weight="normal" fill="#000" textLength="10.29" lengthAdjust="spacingAndGlyphs">0</text>
<text x="34.66" y="147.97" font-size="18.50" font-weight="normal" fill="#000" textLength="30.87" lengthAdjust="spacingAndGlyphs">100</text>
<text x="34.66" y="116.64" font-size="18.50" font-weight="normal" fill="#000" textLength="30.87" lengthAdjust="spacingAndGlyphs">200</text>
<text x="34.66" y="85.31" font-size="18.50" font-weight="normal" fill="#000" textLength="30.87" lengthAdjust="spacingAndGlyphs">300</text>
<text x="34.66" y="53.98" font-size="18.50" font-weight="normal" fill="#000" textLength="30.87" lengthAdjust="spacingAndGlyphs">400</text>
<text x="34.66" y="22.65" font-size="18.50" font-weight="normal" fill="#000" textLength="30.87" lengthAdjust="spacingAndGlyphs">500</text>
<text x="39.51" y="272.40" font-size="18.50" font-weight="normal" fill="#000" textLength="26.23" lengthAdjust="spacingAndGlyphs">0.0</text>
<text x="39.69" y="251.40" font-size="18.50" font-weight="normal" fill="#000" textLength="26.23" lengthAdjust="spacingAndGlyphs">0.1</text>
<text x="39.72" y="230.40" font-size="18.50" font-weight="normal" fill="#000" textLength="26.23" lengthAdjust="spacingAndGlyphs">0.2</text>
<text x="39.60" y="209.40" font-size="18.50" font-weight="normal" fill="#000" textLength="26.23" lengthAdjust="spacingAndGlyphs">0.3</text>
<text x="106.00" y="301.60" font-size="18.50" font-weight="normal" fill="#000" textLength="25.62" lengthAdjust="spacingAndGlyphs">3.0</text>
<text x="191.70" y="301.60" font-size="18.50" font-weight="normal" fill="#000" textLength="25.68" lengthAdjust="spacingAndGlyphs">3.5</text>
<text x="277.68" y="301.60" font-size="18.50" font-weight="normal" fill="#000" textLength="25.33" lengthAdjust="spacingAndGlyphs">4.0</text>
<text x="363.38" y="301.60" font-size="18.50" font-weight="normal" fill="#000" textLength="25.39" lengthAdjust="spacingAndGlyphs">4.5</text>
<text x="448.76" y="301.60" font-size="18.50" font-weight="normal" fill="#000" textLength="25.66" lengthAdjust="spacingAndGlyphs">5.0</text>
<text x="534.46" y="301.60" font-size="18.50" font-weight="normal" fill="#000" textLength="25.72" lengthAdjust="spacingAndGlyphs">5.5</text>
<text x="0" y="0" font-size="24.00" font-weight="normal" fill="#000" textLength="89.61" lengthAdjust="spacingAndGlyphs" transform="translate(23.40,126.66) rotate(-90)">c [ppm]</text>
<text x="0" y="0" font-size="24.00" font-weight="normal" fill="#000" textLength="106.44" lengthAdjust="spacingAndGlyphs" transform="translate(25.00,290.23) rotate(-90)">i [mA/cm</text>
<text x="0" y="0" font-size="14.50" font-weight="normal" fill="#000" textLength="10.01" lengthAdjust="spacingAndGlyphs" transform="translate(14.40,184.51) rotate(-90)">2</text>
<text x="0" y="0" font-size="24.00" font-weight="normal" fill="#000" textLength="6.99" lengthAdjust="spacingAndGlyphs" transform="translate(25.00,175.60) rotate(-90)">]</text>
<text x="548.87" y="127.08" font-size="14.25" font-weight="bold" fill="#9b22e8" textLength="15.15" lengthAdjust="spacingAndGlyphs" style="stroke:#9b22e8;stroke-width:0.25px">12</text>
<text x="564.22" y="137.33" font-size="22.88" font-weight="normal" fill="#9b22e8" textLength="36.39" lengthAdjust="spacingAndGlyphs" style="stroke:#9b22e8;stroke-width:1.1px">CO</text>
<text x="601.53" y="146.28" font-size="12.53" font-weight="bold" fill="#9b22e8" textLength="7.91" lengthAdjust="spacingAndGlyphs" style="stroke:#9b22e8;stroke-width:0.25px">2</text>
<text x="548.91" y="151.83" font-size="13.18" font-weight="bold" fill="#4a22e0" textLength="14.44" lengthAdjust="spacingAndGlyphs" style="stroke:#4a22e0;stroke-width:0.25px">13</text>
<text x="564.22" y="162.84" font-size="21.89" font-weight="normal" fill="#4a22e0" textLength="36.39" lengthAdjust="spacingAndGlyphs" style="stroke:#4a22e0;stroke-width:1.1px">CO</text>
<text x="601.53" y="171.78" font-size="11.53" font-weight="bold" fill="#4a22e0" textLength="7.91" lengthAdjust="spacingAndGlyphs" style="stroke:#4a22e0;stroke-width:0.25px">2</text>
<text x="552.10" y="183.88" font-size="12.53" font-weight="bold" fill="#cd6aec" textLength="14.49" lengthAdjust="spacingAndGlyphs" style="stroke:#cd6aec;stroke-width:0.25px">12</text>
<text x="567.31" y="194.15" font-size="20.90" font-weight="normal" fill="#cd6aec" textLength="36.50" lengthAdjust="spacingAndGlyphs" style="stroke:#cd6aec;stroke-width:1.1px">CO</text>
<text x="552.12" y="205.44" font-size="12.19" font-weight="bold" fill="#7f62e4" textLength="14.22" lengthAdjust="spacingAndGlyphs" style="stroke:#7f62e4;stroke-width:0.25px">13</text>
<text x="567.31" y="216.44" font-size="21.89" font-weight="normal" fill="#7f62e4" textLength="36.50" lengthAdjust="spacingAndGlyphs" style="stroke:#7f62e4;stroke-width:1.1px">CO</text>
<path d="M117.40,316.85 V499.20 M117.40,511.05 V589.00 M160.32,316.85 V499.20 M160.32,511.05 V589.00 M203.25,316.85 V499.20 M203.25,511.05 V589.00 M246.17,316.85 V499.20 M246.17,511.05 V589.00 M289.10,316.85 V499.20 M289.10,511.05 V589.00 M332.02,316.85 V499.20 M332.02,511.05 V589.00 M374.95,316.85 V499.20 M374.95,511.05 V589.00 M417.88,316.85 V499.20 M417.88,511.05 V589.00 M460.80,316.85 V499.20 M460.80,511.05 V589.00 M503.73,316.85 V499.20 M503.73,511.05 V589.00 M546.65,316.85 V499.20 M546.65,511.05 V589.00 M589.57,316.85 V499.20 M589.57,511.05 V589.00" stroke="#b4b4b4" stroke-width="1.7" stroke-dasharray="2.0 4.45" fill="none"/>
<path d="M74.80,483.80 H615.60 M74.80,579.70 H615.60" stroke="#c6c6c6" stroke-width="1.25" fill="none"/>
<path d="M93.4,482.7 L94.4,482.8 L95.4,483.4 L96.4,483.9 L97.4,484.2 L98.4,484.1 L99.4,483.8 L100.4,483.2 L101.4,482.6 L102.4,482.5 L103.4,482.4 L104.4,482.7 L105.4,483.4 L106.4,484.0 L107.4,484.5 L108.4,484.8 L109.4,484.5 L110.4,484.1 L111.4,483.5 L112.4,483.1 L113.4,483.0 L114.4,483.0 L115.4,483.3 L116.4,483.5 L117.4,483.7 L118.4,483.9 L119.4,484.2 L120.4,484.3 L121.4,484.3 L122.4,484.0 L123.4,483.6 L124.4,483.4 L125.4,483.4 L126.4,483.6 L127.4,484.1 L128.4,484.4 L129.4,484.7 L130.4,484.6 L131.4,484.3 L132.4,483.9 L133.4,483.3 L134.4,483.0 L135.4,483.0 L136.4,483.3 L137.4,483.9 L138.4,484.3 L139.4,484.6 L140.4,484.6 L141.4,484.3 L142.4,483.8 L143.4,483.2 L144.4,482.9 L145.4,482.9 L146.4,483.2 L147.4,483.6 L148.4,483.8 L149.4,484.1 L150.4,484.2 L151.4,484.2 L152.4,483.9 L153.4,483.6 L154.4,483.2 L155.4,483.0 L156.4,482.9 L157.4,483.2 L158.4,483.5 L159.4,484.1 L160.4,484.6 L161.4,484.8 L162.4,484.6 L163.4,484.1 L164.4,483.7 L165.4,483.4 L166.4,483.6 L167.4,484.1 L168.4,484.7 L169.4,484.9 L170.4,484.8 L171.4,484.4 L172.4,483.9 L173.4,483.5 L174.4,483.0 L175.4,482.8 L176.4,482.8 L177.4,483.2 L178.4,483.3 L179.4,483.5 L180.4,483.5 L181.4,483.3 L182.4,482.6 L183.4,482.0 L184.4,482.0 L185.4,482.3 L186.4,483.1 L187.4,484.2 L188.4,485.0 L189.4,485.2 L190.4,485.0 L191.4,484.3 L192.4,483.5 L193.4,482.9 L194.4,482.4 L195.4,482.4 L196.4,482.9 L197.4,483.6 L198.4,484.2 L199.4,484.8 L200.4,485.1 L201.4,484.8 L202.4,484.0 L203.4,482.7 L204.4,481.6 L205.4,481.1 L206.4,481.3 L207.4,482.0 L208.4,483.0 L209.4,484.4 L210.4,485.0 L211.4,485.0 L212.4,484.5 L213.4,483.7 L214.4,483.2 L215.4,483.0 L216.4,483.2 L217.4,483.8 L218.4,484.8 L219.4,485.5 L220.4,485.8 L221.4,485.7 L222.4,485.1 L223.4,484.7 L224.4,484.1 L225.4,483.6 L226.4,483.7 L227.4,484.4 L228.4,485.5 L229.4,486.4 L230.4,486.6 L231.4,485.7 L232.4,484.4 L233.4,483.1 L234.4,482.1 L235.4,481.6 L236.4,481.6 L237.4,482.0 L238.4,482.9 L239.4,483.8 L240.4,484.4 L241.4,484.7 L242.4,484.5 L243.4,483.9 L244.4,482.9 L245.4,482.2 L246.4,482.1 L247.4,482.4 L248.4,483.5 L249.4,484.5 L250.4,485.1 L251.4,484.8 L252.4,484.1 L253.4,483.2 L254.4,482.5 L255.4,482.4 L256.4,483.0 L257.4,484.0 L258.4,485.0 L259.4,485.5 L260.4,485.6 L261.4,485.0 L262.4,483.8 L263.4,482.7 L264.4,481.9 L265.4,481.9 L266.4,482.6 L267.4,483.7 L268.4,484.5 L269.4,484.7 L270.4,484.3 L271.4,483.8 L272.4,483.1 L273.4,482.5 L274.4,482.1 L275.4,482.2 L276.4,482.6 L277.4,483.2 L278.4,483.8 L279.4,484.4 L280.4,484.6 L281.4,484.6 L282.4,484.2 L283.4,483.8 L284.4,483.3 L285.4,482.7 L286.4,482.5 L287.4,482.5 L288.4,482.8 L289.4,483.0 L290.4,483.6 L291.4,483.8 L292.4,483.9 L293.4,483.7 L294.4,483.6 L295.4,483.2 L296.4,482.9 L297.4,483.1 L298.4,483.5 L299.4,484.2 L300.4,484.6 L301.4,484.7 L302.4,484.4 L303.4,483.9 L304.4,483.6 L305.4,483.2 L306.4,483.2 L307.4,483.3 L308.4,483.7 L309.4,484.3 L310.4,484.8 L311.4,484.9 L312.4,484.9 L313.4,484.6 L314.4,484.2 L315.4,483.9 L316.4,483.8 L317.4,483.6 L318.4,483.6 L319.4,483.7 L320.4,483.8 L321.4,483.9 L322.4,484.1 L323.4,484.1 L324.4,483.7 L325.4,483.2 L326.4,482.8 L327.4,482.6 L328.4,482.7 L329.4,483.1 L330.4,483.7 L331.4,484.3 L332.4,484.8 L333.4,485.0 L334.4,484.8 L335.4,484.4 L336.4,483.8 L337.4,483.3 L338.4,483.2 L339.4,483.4 L340.4,484.1 L341.4,484.7 L342.4,485.1 L343.4,485.1 L344.4,484.7 L345.4,484.0 L346.4,483.5 L347.4,483.1 L348.4,483.3 L349.4,483.8 L350.4,484.1 L351.4,484.4 L352.4,484.3 L353.4,483.8 L354.4,483.2 L355.4,482.4 L356.4,482.1 L357.4,482.1 L358.4,482.4 L359.4,482.8 L360.4,483.6 L361.4,484.2 L362.4,484.3 L363.4,484.0 L364.4,483.5 L365.4,483.1 L366.4,482.7 L367.4,482.5 L368.4,482.7 L369.4,483.1 L370.4,483.7 L371.4,484.2 L372.4,484.4 L373.4,484.2 L374.4,483.8 L375.4,483.2 L376.4,482.7 L377.4,482.5 L378.4,482.6 L379.4,483.1 L380.4,483.7 L381.4,484.2 L382.4,484.6 L383.4,484.5 L384.4,484.0 L385.4,483.3 L386.4,482.5 L387.4,482.2 L388.4,482.2 L389.4,482.5 L390.4,482.8 L391.4,483.0 L392.4,483.1 L393.4,482.9 L394.4,482.5 L395.4,481.9 L396.4,480.8 L397.4,480.9 L398.4,481.2 L399.4,482.0 L400.4,483.1 L401.4,483.8 L402.4,484.5 L403.4,484.8 L404.4,484.5 L405.4,483.3 L406.4,482.4 L407.4,481.7 L408.4,481.6 L409.4,482.1 L410.4,482.9 L411.4,483.8 L412.4,484.4 L413.4,484.7 L414.4,484.6 L415.4,484.5 L416.4,484.1 L417.4,483.5 L418.4,483.5 L419.4,483.1 L420.4,483.2 L421.4,483.2 L422.4,483.5 L423.4,483.5 L424.4,483.0 L425.4,482.4 L426.4,482.0 L427.4,482.0 L428.4,482.4 L429.4,483.2 L430.4,484.2 L431.4,484.8 L432.4,484.8 L433.4,484.1 L434.4,483.2 L435.4,482.4 L436.4,482.2 L437.4,482.4 L438.4,483.0 L439.4,483.4 L440.4,484.2 L441.4,484.9 L442.4,485.2 L443.4,484.9 L444.4,484.1 L445.4,483.1 L446.4,482.7 L447.4,482.4 L448.4,482.6 L449.4,483.5 L450.4,484.8 L451.4,485.9 L452.4,486.4 L453.4,486.5 L454.4,486.1 L455.4,485.4 L456.4,484.5 L457.4,484.0 L458.4,484.0 L459.4,484.1 L460.4,484.6 L461.4,484.9 L462.4,485.1 L463.4,484.8 L464.4,484.1 L465.4,483.2 L466.4,482.3 L467.4,481.6 L468.4,481.5 L469.4,481.8 L470.4,482.4 L471.4,483.4 L472.4,483.9 L473.4,484.1 L474.4,483.9 L475.4,483.7 L476.4,483.5 L477.4,483.4 L478.4,483.5 L479.4,483.8 L480.4,484.0 L481.4,484.3 L482.4,484.6 L483.4,484.6 L484.4,484.5 L485.4,484.0 L486.4,483.6 L487.4,483.3 L488.4,483.2 L489.4,483.3 L490.4,483.9 L491.4,484.4 L492.4,484.7 L493.4,484.6 L494.4,484.3 L495.4,483.6 L496.4,483.0 L497.4,482.5 L498.4,482.2 L499.4,482.4 L500.4,482.9 L501.4,483.6 L502.4,484.1 L503.4,484.5 L504.4,484.3 L505.4,483.7 L506.4,483.0 L507.4,482.6 L508.4,482.5 L509.4,482.9 L510.4,483.7 L511.4,484.5 L512.4,485.0 L513.4,485.3 L514.4,485.3 L515.4,485.0 L516.4,484.6 L517.4,484.2 L518.4,483.7 L519.4,483.4 L520.4,483.2 L521.4,483.4 L522.4,484.0 L523.4,484.2 L524.4,484.2 L525.4,484.0 L526.4,483.5 L527.4,483.1 L528.4,482.7 L529.4,482.5 L530.4,482.7 L531.4,483.0 L532.4,483.3 L533.4,483.5 L534.4,483.5 L535.4,483.2 L536.4,482.9 L537.4,482.4 L538.4,481.8 L539.4,481.4 L540.4,481.5 L541.4,481.8 L542.4,482.4 L543.4,483.2 L544.4,483.9 L545.4,484.2 L546.4,484.0 L547.4,483.4 L548.4,482.8 L549.2,482.5" fill="none" stroke="#cd6aec" stroke-width="4.0" stroke-linecap="round" stroke-linejoin="round"/>
<path d="M93.4,483.0 L94.4,483.4 L95.4,483.8 L96.4,484.0 L97.4,484.2 L98.4,484.1 L99.4,483.7 L100.4,483.3 L101.4,482.8 L102.4,482.7 L103.4,483.0 L104.4,483.4 L105.4,484.0 L106.4,484.6 L107.4,484.7 L108.4,484.6 L109.4,484.2 L110.4,483.7 L111.4,483.3 L112.4,483.1 L113.4,483.2 L114.4,483.5 L115.4,483.9 L116.4,484.3 L117.4,484.5 L118.4,484.5 L119.4,484.1 L120.4,483.5 L121.4,483.0 L122.4,482.7 L123.4,482.7 L124.4,482.9 L125.4,483.3 L126.4,483.8 L127.4,483.9 L128.4,483.8 L129.4,483.4 L130.4,482.9 L131.4,482.7 L132.4,482.8 L133.4,483.2 L134.4,483.8 L135.4,484.5 L136.4,485.0 L137.4,485.1 L138.4,484.6 L139.4,484.0 L140.4,483.4 L141.4,483.0 L142.4,483.1 L143.4,483.5 L144.4,484.2 L145.4,484.8 L146.4,485.3 L147.4,485.6 L148.4,485.5 L149.4,484.8 L150.4,483.6 L151.4,482.6 L152.4,482.1 L153.4,482.2 L154.4,482.8 L155.4,483.3 L156.4,483.7 L157.4,483.7 L158.4,483.2 L159.4,482.5 L160.4,482.4 L161.4,482.7 L162.4,483.4 L163.4,483.9 L164.4,484.4 L165.4,485.1 L166.4,485.5 L167.4,485.7 L168.4,485.9 L169.4,485.8 L170.4,485.3 L171.4,484.5 L172.4,483.8 L173.4,483.4 L174.4,483.4 L175.4,483.6 L176.4,483.9 L177.4,484.5 L178.4,484.6 L179.4,484.3 L180.4,483.8 L181.4,483.0 L182.4,482.7 L183.4,482.7 L184.4,483.0 L185.4,483.3 L186.4,483.8 L187.4,484.2 L188.4,484.5 L189.4,484.4 L190.4,484.1 L191.4,483.4 L192.4,482.6 L193.4,482.3 L194.4,482.2 L195.4,482.8 L196.4,483.6 L197.4,484.5 L198.4,485.1 L199.4,485.4 L200.4,485.1 L201.4,484.5 L202.4,483.9 L203.4,483.4 L204.4,483.1 L205.4,483.1 L206.4,483.7 L207.4,484.3 L208.4,484.7 L209.4,484.5 L210.4,483.9 L211.4,483.3 L212.4,482.6 L213.4,482.2 L214.4,482.4 L215.4,482.6 L216.4,483.0 L217.4,483.4 L218.4,483.4 L219.4,483.1 L220.4,483.0 L221.4,482.8 L222.4,482.9 L223.4,483.5 L224.4,484.1 L225.4,484.5 L226.4,484.5 L227.4,484.2 L228.4,483.7 L229.4,483.0 L230.4,482.7 L231.4,482.7 L232.4,483.0 L233.4,483.6 L234.4,484.5 L235.4,485.1 L236.4,485.5 L237.4,485.2 L238.4,484.6 L239.4,483.8 L240.4,483.0 L241.4,482.7 L242.4,482.8 L243.4,483.3 L244.4,483.8 L245.4,483.9 L246.4,483.8 L247.4,483.6 L248.4,483.1 L249.4,482.8 L250.4,482.7 L251.4,482.9 L252.4,483.4 L253.4,484.1 L254.4,484.5 L255.4,484.5 L256.4,484.1 L257.4,483.7 L258.4,483.2 L259.4,483.0 L260.4,482.9 L261.4,483.0 L262.4,483.2 L263.4,483.5 L264.4,484.1 L265.4,484.4 L266.4,484.8 L267.4,484.8 L268.4,484.5 L269.4,483.9 L270.4,483.6 L271.4,483.3 L272.4,483.4 L273.4,483.8 L274.4,484.2 L275.4,484.4 L276.4,484.3 L277.4,483.9 L278.4,483.3 L279.4,482.9 L280.4,482.7 L281.4,483.0 L282.4,483.2 L283.4,483.6 L284.4,484.0 L285.4,484.0 L286.4,483.6 L287.4,483.0 L288.4,482.6 L289.4,482.4 L290.4,482.4 L291.4,482.9 L292.4,483.4 L293.4,483.9 L294.4,484.4 L295.4,484.6 L296.4,484.6 L297.4,484.3 L298.4,483.6 L299.4,483.0 L300.4,482.6 L301.4,482.5 L302.4,482.6 L303.4,482.9 L304.4,483.6 L305.4,483.9 L306.4,484.1 L307.4,484.1 L308.4,484.0 L309.4,483.9 L310.4,483.9 L311.4,483.9 L312.4,484.1 L313.4,484.6 L314.4,485.0 L315.4,485.1 L316.4,484.8 L317.4,484.3 L318.4,483.8 L319.4,483.4 L320.4,483.3 L321.4,483.5 L322.4,483.6 L323.4,484.0 L324.4,484.2 L325.4,484.2 L326.4,483.9 L327.4,483.6 L328.4,483.4 L329.4,483.3 L330.4,483.5 L331.4,483.9 L332.4,484.5 L333.4,485.1 L334.4,485.3 L335.4,485.2 L336.4,484.8 L337.4,484.1 L338.4,483.1 L339.4,482.6 L340.4,482.6 L341.4,483.1 L342.4,483.5 L343.4,484.0 L344.4,483.8 L345.4,483.3 L346.4,483.0 L347.4,482.9 L348.4,483.0 L349.4,483.4 L350.4,483.9 L351.4,484.4 L352.4,484.5 L353.4,484.4 L354.4,484.2 L355.4,484.0 L356.4,483.5 L357.4,483.2 L358.4,482.9 L359.4,482.9 L360.4,483.2 L361.4,483.9 L362.4,484.5 L363.4,485.1 L364.4,485.1 L365.4,484.6 L366.4,483.8 L367.4,483.0 L368.4,482.7 L369.4,483.0 L370.4,483.5 L371.4,484.2 L372.4,484.9 L373.4,484.9 L374.4,484.4 L375.4,483.3 L376.4,482.3 L377.4,481.7 L378.4,481.6 L379.4,482.1 L380.4,483.0 L381.4,484.0 L382.4,484.4 L383.4,484.2 L384.4,483.7 L385.4,482.8 L386.4,482.0 L387.4,481.8 L388.4,482.1 L389.4,483.1 L390.4,484.3 L391.4,485.2 L392.4,485.5 L393.4,485.3 L394.4,484.6 L395.4,483.8 L396.4,482.9 L397.4,482.7 L398.4,482.9 L399.4,483.3 L400.4,483.4 L401.4,483.2 L402.4,482.5 L403.4,481.7 L404.4,481.2 L405.4,481.1 L406.4,481.5 L407.4,482.1 L408.4,483.1 L409.4,483.8 L410.4,484.4 L411.4,484.6 L412.4,484.5 L413.4,484.1 L414.4,483.5 L415.4,482.9 L416.4,482.5 L417.4,482.4 L418.4,482.7 L419.4,483.1 L420.4,483.4 L421.4,483.4 L422.4,483.2 L423.4,482.8 L424.4,482.3 L425.4,482.2 L426.4,482.4 L427.4,483.0 L428.4,483.6 L429.4,484.0 L430.4,484.2 L431.4,484.1 L432.4,483.6 L433.4,483.0 L434.4,482.6 L435.4,482.4 L436.4,482.5 L437.4,482.8 L438.4,483.2 L439.4,483.5 L440.4,483.5 L441.4,483.4 L442.4,483.3 L443.4,483.1 L444.4,482.8 L445.4,482.8 L446.4,483.1 L447.4,483.4 L448.4,483.7 L449.4,483.9 L450.4,484.0 L451.4,484.0 L452.4,483.7 L453.4,483.4 L454.4,483.3 L455.4,483.3 L456.4,483.4 L457.4,483.5 L458.4,483.8 L459.4,484.1 L460.4,484.3 L461.4,484.1 L462.4,483.8 L463.4,483.4 L464.4,483.0 L465.4,482.8 L466.4,482.9 L467.4,483.2 L468.4,483.7 L469.4,484.2 L470.4,484.5 L471.4,484.4 L472.4,483.9 L473.4,483.5 L474.4,483.1 L475.4,482.8 L476.4,482.8 L477.4,483.0 L478.4,483.4 L479.4,483.8 L480.4,483.9 L481.4,483.8 L482.4,483.6 L483.4,483.3 L484.4,483.2 L485.4,483.2 L486.4,483.2 L487.4,483.6 L488.4,484.1 L489.4,484.4 L490.4,484.4 L491.4,484.0 L492.4,483.5 L493.4,482.8 L494.4,482.2 L495.4,482.2 L496.4,482.6 L497.4,483.3 L498.4,484.0 L499.4,484.3 L500.4,484.5 L501.4,484.2 L502.4,483.7 L503.4,483.0 L504.4,482.4 L505.4,482.2 L506.4,482.3 L507.4,482.8 L508.4,483.4 L509.4,483.9 L510.4,483.9 L511.4,483.6 L512.4,483.0 L513.4,482.3 L514.4,481.7 L515.4,481.3 L516.4,481.5 L517.4,481.9 L518.4,482.6 L519.4,483.4 L520.4,483.9 L521.4,483.9 L522.4,483.5 L523.4,482.6 L524.4,482.1 L525.4,482.0 L526.4,482.5 L527.4,483.5 L528.4,484.4 L529.4,485.1 L530.4,485.0 L531.4,484.3 L532.4,483.4 L533.4,482.7 L534.4,482.6 L535.4,483.0 L536.4,483.3 L537.4,483.8 L538.4,484.3 L539.4,484.3 L540.4,483.9 L541.4,483.2 L542.4,482.4 L543.4,482.0 L544.4,482.0 L545.4,482.7 L546.4,483.7 L547.4,484.5 L548.4,484.9 L549.4,484.7 L550.1,484.3" fill="none" stroke="#7f62e4" stroke-width="4.0" stroke-linecap="round" stroke-linejoin="round"/>
<path d="M93.4,483.9 L94.4,484.6 L95.4,485.0 L96.4,485.0 L97.4,484.5 L98.4,483.9 L99.4,483.8 L100.4,483.7 L101.4,483.9 L102.4,484.5 L103.4,484.7 L104.4,484.9 L105.4,484.7 L106.4,484.2 L107.4,483.7 L108.4,483.2 L109.4,482.9 L110.4,482.8 L111.4,483.2 L112.4,483.7 L113.4,484.2 L114.4,484.7 L115.4,484.8 L116.4,484.6 L117.4,484.3 L118.4,483.8 L119.4,483.5 L120.4,483.4 L121.4,483.7 L122.4,484.3 L123.4,484.8 L124.4,484.8 L125.4,484.5 L126.4,484.0 L127.4,483.5 L128.4,483.1 L129.4,483.0 L130.4,483.4 L131.4,483.9 L132.4,484.5 L133.4,485.0 L134.4,485.1 L135.4,484.9 L136.4,484.2 L137.4,483.6 L138.4,482.9 L139.4,482.8 L140.4,483.1 L141.4,483.7 L142.4,484.1 L143.4,484.4 L144.4,484.4 L145.4,484.3 L146.4,483.8 L147.4,483.4 L148.4,483.0 L149.4,482.9 L150.4,482.9 L151.4,483.1 L152.4,483.4 L153.4,483.8 L154.4,483.9 L155.4,483.6 L156.4,482.9 L157.4,482.6 L158.4,482.6 L159.4,482.9 L160.4,483.6 L161.4,484.4 L162.4,484.8 L163.4,485.1 L164.4,484.9 L165.4,484.6 L166.4,484.2 L167.4,484.0 L168.4,483.9 L169.4,484.0 L170.4,484.2 L171.4,484.6 L172.4,485.2 L173.4,485.5 L174.4,485.5 L175.4,485.4 L176.4,484.9 L177.4,484.3 L178.4,483.8 L179.4,483.7 L180.4,484.0 L181.4,484.5 L182.4,485.2 L183.4,485.6 L184.4,485.4 L185.4,484.8 L186.4,483.8 L187.4,483.0 L188.4,482.6 L189.4,482.6 L190.4,483.2 L191.4,484.1 L192.4,484.9 L193.4,485.4 L194.4,485.4 L195.4,484.8 L196.4,483.8 L197.4,483.1 L198.4,483.1 L199.4,483.9 L200.4,485.1 L201.4,486.2 L202.4,486.6 L203.4,486.2 L204.4,485.1 L205.4,483.4 L206.4,482.3 L207.4,481.7 L208.4,482.0 L209.4,483.3 L210.4,484.8 L211.4,486.1 L212.4,486.6 L213.4,486.4 L214.4,485.6 L215.4,484.5 L216.4,483.5 L217.4,482.9 L218.4,482.7 L219.4,483.1 L220.4,483.6 L221.4,484.6 L222.4,485.1 L223.4,484.8 L224.4,484.1 L225.4,482.9 L226.4,481.6 L227.4,481.1 L228.4,481.1 L229.4,482.1 L230.4,483.2 L231.4,484.4 L232.4,485.2 L233.4,485.2 L234.4,484.2 L235.4,483.0 L236.4,482.3 L237.4,482.0 L238.4,482.6 L239.4,483.5 L240.4,484.3 L241.4,484.9 L242.4,484.9 L243.4,484.5 L244.4,483.7 L245.4,483.1 L246.4,483.0 L247.4,483.5 L248.4,484.1 L249.4,484.7 L250.4,484.7 L251.4,484.3 L252.4,483.5 L253.4,482.7 L254.4,482.2 L255.4,482.3 L256.4,482.8 L257.4,483.3 L258.4,483.9 L259.4,484.1 L260.4,484.0 L261.4,483.9 L262.4,483.9 L263.4,483.9 L264.4,483.7 L265.4,483.9 L266.4,484.3 L267.4,484.9 L268.4,485.1 L269.4,485.1 L270.4,484.8 L271.4,484.1 L272.4,483.2 L273.4,482.5 L274.4,482.2 L275.4,482.5 L276.4,482.9 L277.4,483.6 L278.4,484.0 L279.4,484.0 L280.4,483.9 L281.4,483.4 L282.4,483.2 L283.4,483.1 L284.4,483.1 L285.4,483.2 L286.4,483.4 L287.4,483.7 L288.4,483.8 L289.4,483.8 L290.4,483.4 L291.4,483.0 L292.4,482.6 L293.4,482.0 L294.4,481.9 L295.4,482.1 L296.4,482.6 L297.4,483.2 L298.4,483.8 L299.4,484.3 L300.4,484.6 L301.4,484.4 L302.4,483.9 L303.4,483.5 L304.4,483.1 L305.4,483.1 L306.4,483.3 L307.4,483.9 L308.4,484.7 L309.4,485.2 L310.4,485.3 L311.4,485.0 L312.4,484.6 L313.4,484.0 L314.4,483.7 L315.4,483.8 L316.4,484.0 L317.4,484.4 L318.4,484.5 L319.4,484.2 L320.4,483.6 L321.4,483.1 L322.4,482.5 L323.4,482.2 L324.4,482.3 L325.4,482.8 L326.4,483.5 L327.4,484.0 L328.4,484.3 L329.4,484.3 L330.4,484.1 L331.4,483.6 L332.4,483.1 L333.4,483.0 L334.4,483.4 L335.4,484.0 L336.4,484.4 L337.4,484.2 L338.4,483.7 L339.4,483.0 L340.4,482.1 L341.4,481.9 L342.4,482.1 L343.4,482.7 L344.4,483.3 L345.4,483.7 L346.4,483.9 L347.4,484.0 L348.4,483.9 L349.4,483.7 L350.4,483.5 L351.4,483.3 L352.4,483.3 L353.4,483.5 L354.4,483.9 L355.4,484.5 L356.4,484.7 L357.4,484.5 L358.4,484.0 L359.4,483.4 L360.4,482.5 L361.4,481.9 L362.4,481.7 L363.4,482.3 L364.4,483.3 L365.4,484.7 L366.4,485.4 L367.4,485.5 L368.4,484.7 L369.4,483.8 L370.4,483.0 L371.4,482.6 L372.4,482.7 L373.4,483.2 L374.4,483.9 L375.4,484.5 L376.4,484.7 L377.4,484.4 L378.4,483.9 L379.4,483.0 L380.4,482.1 L381.4,481.6 L382.4,481.5 L383.4,482.1 L384.4,482.4 L385.4,482.9 L386.4,483.3 L387.4,483.4 L388.4,483.1 L389.4,482.8 L390.4,482.5 L391.4,482.5 L392.4,482.6 L393.4,483.4 L394.4,484.2 L395.4,484.8 L396.4,484.7 L397.4,484.0 L398.4,483.0 L399.4,481.8 L400.4,480.6 L401.4,480.2 L402.4,480.8 L403.4,482.2 L404.4,483.1 L405.4,483.5 L406.4,483.1 L407.4,482.4 L408.4,482.0 L409.4,481.4 L410.4,481.4 L411.4,481.8 L412.4,482.6 L413.4,483.3 L414.4,483.7 L415.4,483.8 L416.4,483.2 L417.4,482.3 L418.4,481.1 L419.4,480.3 L420.4,480.0 L421.4,480.5 L422.4,481.3 L423.4,482.0 L424.4,482.1 L425.4,481.7 L426.4,480.7 L427.4,480.3 L428.4,480.0 L429.4,479.8 L430.4,480.2 L431.4,480.1 L432.4,480.4 L433.4,480.1 L434.4,479.8 L435.4,479.5 L436.4,479.2 L437.4,478.6 L438.4,477.9 L439.4,477.6 L440.4,477.7 L441.4,478.2 L442.4,478.9 L443.4,479.2 L444.4,479.2 L445.4,478.8 L446.4,478.0 L447.4,477.3 L448.4,476.9 L449.4,477.1 L450.4,477.6 L451.4,478.6 L452.4,479.3 L453.4,479.5 L454.4,479.2 L455.4,478.4 L456.4,477.5 L457.4,476.9 L458.4,476.8 L459.4,477.0 L460.4,477.2 L461.4,477.5 L462.4,477.5 L463.4,477.4 L464.4,476.8 L465.4,475.8 L466.4,474.7 L467.4,474.1 L468.4,473.7 L469.4,473.7 L470.4,473.9 L471.4,474.2 L472.4,474.4 L473.4,474.4 L474.4,474.2 L475.4,473.8 L476.4,473.1 L477.4,472.3 L478.4,471.7 L479.4,471.3 L480.4,471.0 L481.4,470.8 L482.4,470.9 L483.4,470.8 L484.4,470.4 L485.4,469.9 L486.4,469.1 L487.4,468.1 L488.4,467.2 L489.4,466.8 L490.4,466.7 L491.4,466.9 L492.4,467.2 L493.4,467.4 L494.4,467.3 L495.4,466.8 L496.4,466.1 L497.4,465.2 L498.4,464.6 L499.4,464.1 L500.4,463.9 L501.4,463.8 L502.4,463.9 L503.4,463.7 L504.4,463.4 L505.4,462.7 L506.4,461.8 L507.4,461.1 L508.4,460.6 L509.4,460.2 L510.4,460.0 L511.4,460.4 L512.4,460.6 L513.4,460.7 L514.4,460.7 L515.4,460.2 L516.4,459.5 L517.4,458.6 L518.4,457.8 L519.4,457.1 L520.4,456.7 L521.4,456.6 L522.4,456.7 L523.4,456.9 L524.4,456.7 L525.4,456.1 L526.4,455.4 L527.4,454.5 L528.4,453.8 L529.4,453.3 L530.4,453.3 L531.4,453.8 L532.4,454.6 L533.4,454.9 L534.4,454.7 L535.4,454.0 L536.4,452.6 L537.4,451.2 L538.4,450.1 L539.4,449.7 L540.4,449.9 L541.4,450.4 L542.4,451.3 L543.4,451.7 L544.4,451.4 L545.4,450.9 L546.4,450.7 L547.4,451.0 L547.5,451.2" fill="none" stroke="#9b22e8" stroke-width="4.0" stroke-linecap="round" stroke-linejoin="round"/>
<path d="M93.4,484.3 L94.4,484.2 L95.4,483.9 L96.4,483.5 L97.4,483.3 L98.4,483.0 L99.4,483.1 L100.4,483.3 L101.4,483.6 L102.4,484.0 L103.4,484.2 L104.4,484.4 L105.4,484.3 L106.4,484.0 L107.4,483.7 L108.4,483.3 L109.4,483.1 L110.4,483.3 L111.4,483.6 L112.4,484.0 L113.4,484.4 L114.4,484.6 L115.4,484.4 L116.4,484.0 L117.4,483.6 L118.4,483.4 L119.4,483.5 L120.4,483.7 L121.4,484.1 L122.4,484.4 L123.4,484.6 L124.4,484.6 L125.4,484.4 L126.4,484.2 L127.4,483.8 L128.4,483.6 L129.4,483.7 L130.4,483.9 L131.4,484.0 L132.4,484.2 L133.4,484.2 L134.4,484.1 L135.4,483.9 L136.4,483.6 L137.4,483.5 L138.4,483.4 L139.4,483.6 L140.4,483.7 L141.4,484.0 L142.4,484.0 L143.4,483.9 L144.4,483.7 L145.4,483.4 L146.4,483.1 L147.4,482.9 L148.4,482.7 L149.4,482.7 L150.4,482.9 L151.4,483.2 L152.4,483.6 L153.4,484.0 L154.4,484.2 L155.4,484.2 L156.4,484.0 L157.4,483.7 L158.4,483.5 L159.4,483.6 L160.4,483.9 L161.4,484.1 L162.4,484.2 L163.4,484.2 L164.4,484.0 L165.4,483.7 L166.4,483.3 L167.4,483.0 L168.4,483.1 L169.4,483.4 L170.4,483.8 L171.4,484.0 L172.4,484.2 L173.4,484.3 L174.4,484.2 L175.4,484.0 L176.4,483.5 L177.4,483.0 L178.4,482.7 L179.4,482.8 L180.4,483.2 L181.4,483.9 L182.4,484.4 L183.4,484.7 L184.4,484.7 L185.4,484.4 L186.4,483.9 L187.4,483.3 L188.4,482.8 L189.4,482.5 L190.4,482.5 L191.4,482.7 L192.4,483.1 L193.4,483.6 L194.4,484.1 L195.4,484.5 L196.4,484.5 L197.4,484.2 L198.4,483.7 L199.4,483.2 L200.4,483.0 L201.4,483.1 L202.4,483.4 L203.4,483.9 L204.4,484.4 L205.4,484.6 L206.4,484.5 L207.4,484.2 L208.4,483.7 L209.4,483.1 L210.4,482.8 L211.4,482.9 L212.4,483.3 L213.4,483.8 L214.4,484.3 L215.4,484.6 L216.4,484.6 L217.4,484.4 L218.4,484.1 L219.4,484.1 L220.4,483.9 L221.4,483.9 L222.4,483.9 L223.4,484.0 L224.4,484.1 L225.4,484.2 L226.4,484.1 L227.4,483.8 L228.4,483.4 L229.4,483.0 L230.4,482.7 L231.4,482.7 L232.4,482.9 L233.4,483.4 L234.4,483.9 L235.4,484.0 L236.4,484.1 L237.4,484.0 L238.4,483.9 L239.4,483.6 L240.4,483.4 L241.4,483.3 L242.4,483.4 L243.4,483.8 L244.4,484.4 L245.4,484.9 L246.4,485.2 L247.4,485.2 L248.4,484.9 L249.4,484.5 L250.4,484.1 L251.4,484.0 L252.4,484.1 L253.4,484.2 L254.4,484.5 L255.4,484.7 L256.4,484.6 L257.4,484.3 L258.4,483.9 L259.4,483.4 L260.4,483.1 L261.4,482.9 L262.4,483.0 L263.4,483.3 L264.4,483.7 L265.4,484.1 L266.4,484.4 L267.4,484.5 L268.4,484.3 L269.4,483.9 L270.4,483.7 L271.4,483.6 L272.4,483.6 L273.4,483.8 L274.4,484.1 L275.4,484.4 L276.4,484.5 L277.4,484.6 L278.4,484.5 L279.4,484.1 L280.4,483.8 L281.4,483.5 L282.4,483.4 L283.4,483.5 L284.4,483.7 L285.4,483.9 L286.4,484.0 L287.4,484.0 L288.4,483.7 L289.4,483.5 L290.4,483.4 L291.4,483.4 L292.4,483.6 L293.4,483.9 L294.4,484.2 L295.4,484.4 L296.4,484.4 L297.4,484.1 L298.4,483.9 L299.4,483.7 L300.4,483.7 L301.4,483.7 L302.4,483.9 L303.4,484.2 L304.4,484.4 L305.4,484.6 L306.4,484.6 L307.4,484.4 L308.4,484.0 L309.4,483.6 L310.4,483.4 L311.4,483.3 L312.4,483.4 L313.4,483.3 L314.4,483.5 L315.4,483.6 L316.4,483.7 L317.4,483.9 L318.4,483.9 L319.4,483.9 L320.4,483.9 L321.4,484.0 L322.4,484.0 L323.4,484.0 L324.4,484.0 L325.4,484.1 L326.4,484.1 L327.4,483.9 L328.4,483.7 L329.4,483.5 L330.4,483.3 L331.4,483.3 L332.4,483.5 L333.4,483.7 L334.4,484.0 L335.4,484.1 L336.4,484.1 L337.4,484.1 L338.4,484.0 L339.4,483.7 L340.4,483.7 L341.4,483.6 L342.4,483.8 L343.4,484.2 L344.4,484.5 L345.4,484.7 L346.4,484.8 L347.4,484.6 L348.4,484.2 L349.4,483.9 L350.4,483.6 L351.4,483.5 L352.4,483.7 L353.4,484.0 L354.4,484.5 L355.4,484.8 L356.4,485.0 L357.4,484.8 L358.4,484.5 L359.4,484.1 L360.4,483.4 L361.4,483.1 L362.4,483.1 L363.4,483.5 L364.4,483.9 L365.4,484.3 L366.4,484.3 L367.4,484.2 L368.4,484.2 L369.4,484.3 L370.4,484.1 L371.4,484.0 L372.4,483.9 L373.4,483.8 L374.4,483.9 L375.4,484.1 L376.4,484.4 L377.4,484.6 L378.4,484.5 L379.4,483.9 L380.4,483.0 L381.4,482.5 L382.4,482.5 L383.4,482.7 L384.4,483.1 L385.4,483.4 L386.4,483.4 L387.4,483.2 L388.4,483.0 L389.4,482.6 L390.4,482.2 L391.4,482.2 L392.4,482.3 L393.4,482.5 L394.4,482.9 L395.4,483.2 L396.4,483.5 L397.4,483.6 L398.4,483.6 L399.4,483.3 L400.4,482.8 L401.4,482.6 L402.4,482.6 L403.4,482.8 L404.4,483.1 L405.4,483.5 L406.4,483.6 L407.4,483.7 L408.4,483.5 L409.4,483.1 L410.4,482.6 L411.4,482.1 L412.4,481.8 L413.4,481.8 L414.4,482.1 L415.4,482.6 L416.4,482.8 L417.4,482.8 L418.4,482.4 L419.4,481.9 L420.4,481.6 L421.4,481.4 L422.4,481.4 L423.4,481.7 L424.4,482.3 L425.4,483.0 L426.4,483.4 L427.4,483.4 L428.4,483.0 L429.4,482.3 L430.4,481.9 L431.4,481.7 L432.4,481.8 L433.4,482.0 L434.4,482.4 L435.4,482.7 L436.4,482.5 L437.4,482.1 L438.4,481.6 L439.4,481.1 L440.4,480.8 L441.4,480.8 L442.4,481.0 L443.4,481.4 L444.4,481.7 L445.4,481.8 L446.4,481.6 L447.4,481.1 L448.4,480.6 L449.4,480.0 L450.4,479.6 L451.4,479.5 L452.4,479.6 L453.4,479.9 L454.4,480.1 L455.4,480.1 L456.4,480.0 L457.4,479.9 L458.4,479.6 L459.4,479.5 L460.4,479.4 L461.4,479.3 L462.4,479.3 L463.4,479.4 L464.4,479.4 L465.4,479.3 L466.4,479.1 L467.4,478.8 L468.4,478.4 L469.4,477.9 L470.4,477.6 L471.4,477.4 L472.4,477.5 L473.4,477.5 L474.4,477.6 L475.4,477.6 L476.4,477.4 L477.4,477.1 L478.4,476.6 L479.4,476.1 L480.4,475.7 L481.4,475.4 L482.4,475.2 L483.4,475.2 L484.4,475.3 L485.4,475.4 L486.4,475.3 L487.4,474.9 L488.4,474.3 L489.4,473.8 L490.4,473.5 L491.4,473.4 L492.4,473.5 L493.4,473.7 L494.4,473.8 L495.4,473.5 L496.4,473.1 L497.4,472.5 L498.4,471.8 L499.4,471.2 L500.4,470.9 L501.4,470.9 L502.4,471.0 L503.4,471.2 L504.4,471.4 L505.4,471.3 L506.4,471.1 L507.4,470.7 L508.4,470.2 L509.4,469.8 L510.4,469.5 L511.4,469.5 L512.4,469.6 L513.4,469.6 L514.4,469.6 L515.4,469.5 L516.4,469.1 L517.4,468.5 L518.4,468.1 L519.4,467.6 L520.4,467.4 L521.4,467.5 L522.4,467.7 L523.4,468.0 L524.4,468.2 L525.4,468.2 L526.4,468.2 L527.4,467.9 L528.4,467.5 L529.4,467.0 L530.4,466.6 L531.4,466.4 L532.4,466.5 L533.4,466.8 L534.4,466.9 L535.4,467.0 L536.4,466.8 L537.4,466.4 L538.4,465.7 L539.4,464.8 L540.4,464.3 L541.4,464.0 L542.4,464.2 L543.4,464.4 L544.4,464.6 L545.4,464.8 L546.4,464.7 L546.6,464.7" fill="none" stroke="#4a22e0" stroke-width="4.0" stroke-linecap="round" stroke-linejoin="round"/>
<path d="M94.0,579.4 L95.0,579.4 L96.0,579.4 L97.0,579.4 L98.0,579.4 L99.0,579.4 L100.0,579.4 L101.0,579.4 L102.0,579.4 L103.0,579.4 L104.0,579.4 L105.0,579.4 L106.0,579.4 L107.0,579.4 L108.0,579.4 L109.0,579.4 L110.0,579.4 L111.0,579.4 L112.0,579.4 L113.0,579.4 L114.0,579.4 L115.0,579.4 L116.0,579.4 L117.0,579.4 L118.0,579.4 L119.0,579.4 L120.0,579.4 L121.0,579.4 L122.0,579.4 L123.0,579.4 L124.0,579.4 L125.0,579.4 L126.0,579.4 L127.0,579.4 L128.0,579.4 L129.0,579.4 L130.0,579.4 L131.0,579.4 L132.0,579.4 L133.0,579.4 L134.0,579.4 L135.0,579.4 L136.0,579.3 L137.0,579.3 L138.0,579.3 L139.0,579.3 L140.0,579.3 L141.0,579.3 L142.0,579.3 L143.0,579.3 L144.0,579.3 L145.0,579.3 L146.0,579.3 L147.0,579.3 L148.0,579.3 L149.0,579.3 L150.0,579.3 L151.0,579.3 L152.0,579.3 L153.0,579.3 L154.0,579.3 L155.0,579.3 L156.0,579.3 L157.0,579.3 L158.0,579.3 L159.0,579.3 L160.0,579.3 L161.0,579.3 L162.0,579.3 L163.0,579.3 L164.0,579.3 L165.0,579.3 L166.0,579.2 L167.0,579.2 L168.0,579.2 L169.0,579.2 L170.0,579.2 L171.0,579.2 L172.0,579.2 L173.0,579.2 L174.0,579.2 L175.0,579.2 L176.0,579.2 L177.0,579.2 L178.0,579.2 L179.0,579.2 L180.0,579.2 L181.0,579.2 L182.0,579.2 L183.0,579.2 L184.0,579.2 L185.0,579.2 L186.0,579.2 L187.0,579.2 L188.0,579.2 L189.0,579.1 L190.0,579.1 L191.0,579.1 L192.0,579.1 L193.0,579.1 L194.0,579.1 L195.0,579.1 L196.0,579.1 L197.0,579.1 L198.0,579.1 L199.0,579.1 L200.0,579.1 L201.0,579.1 L202.0,579.1 L203.0,579.1 L204.0,579.1 L205.0,579.1 L206.0,579.1 L207.0,579.1 L208.0,579.0 L209.0,579.0 L210.0,579.0 L211.0,579.0 L212.0,579.0 L213.0,579.0 L214.0,579.0 L215.0,579.0 L216.0,579.0 L217.0,579.0 L218.0,579.0 L219.0,579.0 L220.0,579.0 L221.0,578.9 L222.0,578.9 L223.0,578.9 L224.0,578.9 L225.0,578.9 L226.0,578.9 L227.0,578.9 L228.0,578.9 L229.0,578.9 L230.0,578.8 L231.0,578.8 L232.0,578.8 L233.0,578.8 L234.0,578.8 L235.0,578.8 L236.0,578.8 L237.0,578.8 L238.0,578.7 L239.0,578.7 L240.0,578.7 L241.0,578.7 L242.0,578.7 L243.0,578.7 L244.0,578.7 L245.0,578.6 L246.0,578.6 L247.0,578.6 L248.0,578.6 L249.0,578.6 L250.0,578.6 L251.0,578.5 L252.0,578.5 L253.0,578.5 L254.0,578.5 L255.0,578.5 L256.0,578.5 L257.0,578.4 L258.0,578.4 L259.0,578.4 L260.0,578.4 L261.0,578.4 L262.0,578.3 L263.0,578.3 L264.0,578.3 L265.0,578.3 L266.0,578.2 L267.0,578.2 L268.0,578.2 L269.0,578.2 L270.0,578.2 L271.0,578.1 L272.0,578.1 L273.0,578.1 L274.0,578.1 L275.0,578.0 L276.0,578.0 L277.0,578.0 L278.0,578.0 L279.0,577.9 L280.0,577.9 L281.0,577.9 L282.0,577.9 L283.0,577.8 L284.0,577.8 L285.0,577.8 L286.0,577.7 L287.0,577.7 L288.0,577.7 L289.0,577.6 L290.0,577.6 L291.0,577.5 L292.0,577.5 L293.0,577.4 L294.0,577.4 L295.0,577.3 L296.0,577.3 L297.0,577.2 L298.0,577.2 L299.0,577.1 L300.0,577.0 L301.0,577.0 L302.0,576.9 L303.0,576.9 L304.0,576.8 L305.0,576.7 L306.0,576.6 L307.0,576.6 L308.0,576.5 L309.0,576.4 L310.0,576.3 L311.0,576.3 L312.0,576.2 L313.0,576.1 L314.0,576.0 L315.0,575.9 L316.0,575.9 L317.0,575.8 L318.0,575.7 L319.0,575.6 L320.0,575.5 L321.0,575.4 L322.0,575.3 L323.0,575.2 L324.0,575.1 L325.0,575.0 L326.0,574.9 L327.0,574.8 L328.0,574.7 L329.0,574.6 L330.0,574.5 L331.0,574.4 L332.0,574.3 L333.0,574.1 L334.0,574.0 L335.0,573.8 L336.0,573.6 L337.0,573.4 L338.0,573.2 L339.0,573.0 L340.0,572.9 L341.0,572.7 L342.0,572.6 L343.0,572.5 L344.0,572.4 L345.0,572.3 L346.0,572.1 L347.0,572.0 L348.0,571.9 L349.0,571.8 L350.0,571.7 L351.0,571.6 L352.0,571.5 L353.0,571.5 L354.0,571.4 L355.0,571.3 L356.0,571.2 L357.0,571.1 L358.0,571.0 L359.0,570.9 L360.0,570.8 L361.0,570.8 L362.0,570.7 L363.0,570.6 L364.0,570.5 L365.0,570.4 L366.0,570.3 L367.0,570.2 L368.0,570.1 L369.0,570.0 L370.0,569.9 L371.0,569.8 L372.0,569.6 L373.0,569.5 L374.0,569.4 L375.0,569.2 L376.0,569.1 L377.0,568.9 L378.0,568.7 L379.0,568.5 L380.0,568.3 L381.0,568.2 L382.0,568.0 L383.0,567.8 L384.0,567.6 L385.0,567.4 L386.0,567.2 L387.0,567.0 L388.0,566.8 L389.0,566.5 L390.0,566.3 L391.0,566.1 L392.0,565.9 L393.0,565.6 L394.0,565.4 L395.0,565.2 L396.0,565.0 L397.0,564.8 L398.0,564.6 L399.0,564.5 L400.0,564.3 L401.0,564.2 L402.0,564.1 L403.0,564.1 L404.0,564.0 L405.0,564.0 L406.0,564.1 L407.0,564.2 L408.0,564.4 L409.0,564.6 L410.0,564.8 L411.0,565.1 L412.0,565.4 L413.0,565.6 L414.0,565.9 L415.0,566.1 L416.0,566.3 L417.0,566.5 L418.0,566.6 L419.0,566.7 L420.0,566.8 L421.0,566.9 L422.0,567.0 L423.0,567.1 L424.0,567.2 L425.0,567.3 L426.0,567.4 L427.0,567.5 L428.0,567.6 L429.0,567.6 L430.0,567.7 L431.0,567.8 L432.0,567.8 L433.0,567.9 L434.0,567.9 L435.0,567.9 L436.0,568.0 L437.0,568.0 L438.0,568.0 L439.0,568.0 L440.0,568.0 L441.0,568.0 L442.0,568.0 L443.0,567.9 L444.0,567.9 L445.0,567.9 L446.0,567.9 L447.0,567.8 L448.0,567.8 L449.0,567.8 L450.0,567.7 L451.0,567.7 L452.0,567.6 L453.0,567.5 L454.0,567.3 L455.0,567.1 L456.0,566.7 L457.0,566.4 L458.0,566.0 L459.0,565.6 L460.0,565.2 L461.0,564.8 L462.0,564.3 L463.0,563.9 L464.0,563.4 L465.0,562.9 L466.0,562.3 L467.0,561.8 L468.0,561.2 L469.0,560.7 L470.0,560.2 L471.0,559.7 L472.0,559.2 L473.0,558.7 L474.0,558.3 L475.0,557.9 L476.0,557.5 L477.0,557.2 L478.0,556.8 L479.0,556.5 L480.0,556.1 L481.0,555.8 L482.0,555.5 L483.0,555.1 L484.0,554.8 L485.0,554.5 L486.0,554.2 L487.0,553.9 L488.0,553.6 L489.0,553.3 L490.0,553.0 L491.0,552.7 L492.0,552.5 L493.0,552.2 L494.0,551.9 L495.0,551.6 L496.0,551.3 L497.0,551.0 L498.0,550.8 L499.0,550.5 L500.0,550.2 L501.0,549.9 L502.0,549.6 L503.0,549.4 L504.0,549.1 L505.0,548.8 L506.0,548.5 L507.0,548.2 L508.0,548.0 L509.0,547.7 L510.0,547.4 L511.0,547.1 L512.0,546.9 L513.0,546.6 L514.0,546.3 L515.0,546.0 L516.0,545.8 L517.0,545.5 L518.0,545.2 L519.0,545.0 L520.0,544.7 L521.0,544.4 L522.0,544.2 L523.0,543.9 L524.0,543.7 L525.0,543.4 L526.0,543.1 L527.0,542.9 L528.0,542.6 L529.0,542.4 L530.0,542.1 L531.0,541.9 L532.0,541.6 L533.0,541.4 L534.0,541.1 L535.0,540.9 L536.0,540.7 L537.0,540.4 L538.0,540.2 L539.0,539.9 L540.0,539.7 L541.0,539.5 L542.0,539.2 L543.0,539.0 L544.0,538.8 L545.0,538.5 L546.0,538.3 L547.0,538.1" fill="none" stroke="#000" stroke-width="3.5" stroke-linecap="round" stroke-linejoin="round"/>
<rect x="90.70" y="324.50" width="314.40" height="34.30" fill="#fff" stroke="#000" stroke-width="1.7"/>
<text x="101.64" y="347.70" font-size="19.60" font-weight="normal" fill="#000" textLength="24.90" lengthAdjust="spacingAndGlyphs">(b)</text>
<text x="134.35" y="338.20" font-size="11.60" font-weight="normal" fill="#000" textLength="10.91" lengthAdjust="spacingAndGlyphs">13</text>
<text x="145.80" y="347.70" font-size="19.60" font-weight="normal" fill="#000" textLength="14.76" lengthAdjust="spacingAndGlyphs">C</text>
<text x="160.86" y="353.80" font-size="12.20" font-weight="normal" fill="#000" textLength="7.65" lengthAdjust="spacingAndGlyphs">3</text>
<text x="173.02" y="347.70" font-size="19.60" font-weight="normal" fill="#000" textLength="139.31" lengthAdjust="spacingAndGlyphs">EC, &lt; 20 ppm H</text>
<text x="310.77" y="354.60" font-size="12.20" font-weight="normal" fill="#000" textLength="6.37" lengthAdjust="spacingAndGlyphs">2</text>
<text x="316.38" y="347.70" font-size="19.60" font-weight="normal" fill="#000" textLength="79.30" lengthAdjust="spacingAndGlyphs">O, 25 °C</text>
<path d="M74.80,312.10 H615.60 M74.80,590.00 H615.60 M74.80,312.10 V499.20 M74.80,506.40 V590.00 M615.60,312.10 V499.20 M615.60,506.40 V590.00 M74.80,499.20 H79.60 M615.60,499.20 H610.80 M74.80,506.40 H79.60 M615.60,506.40 H610.80 M74.80,483.80 H83.80 M615.60,483.80 H606.60 M74.80,468.12 H79.60 M615.60,468.12 H610.80 M74.80,452.45 H83.80 M615.60,452.45 H606.60 M74.80,436.78 H79.60 M615.60,436.78 H610.80 M74.80,421.10 H83.80 M615.60,421.10 H606.60 M74.80,405.43 H79.60 M615.60,405.43 H610.80 M74.80,389.75 H83.80 M615.60,389.75 H606.60 M74.80,374.08 H79.60 M615.60,374.08 H610.80 M74.80,358.40 H83.80 M615.60,358.40 H606.60 M74.80,342.73 H79.60 M615.60,342.73 H610.80 M74.80,327.05 H83.80 M615.60,327.05 H606.60 M74.80,579.70 H83.80 M615.60,579.70 H606.60 M74.80,569.25 H79.60 M615.60,569.25 H610.80 M74.80,558.80 H83.80 M615.60,558.80 H606.60 M74.80,548.35 H79.60 M615.60,548.35 H610.80 M74.80,537.90 H83.80 M615.60,537.90 H606.60 M74.80,527.45 H79.60 M615.60,527.45 H610.80 M74.80,517.00 H83.80 M615.60,517.00 H606.60 M117.40,312.10 V321.60 M117.40,590.00 V581.50 M160.32,312.10 V317.10 M160.32,590.00 V585.50 M203.25,312.10 V321.60 M203.25,590.00 V581.50 M246.17,312.10 V317.10 M246.17,590.00 V585.50 M289.10,312.10 V321.60 M289.10,590.00 V581.50 M332.02,312.10 V317.10 M332.02,590.00 V585.50 M374.95,312.10 V321.60 M374.95,590.00 V581.50 M417.88,312.10 V317.10 M417.88,590.00 V585.50 M460.80,312.10 V321.60 M460.80,590.00 V581.50 M503.73,312.10 V317.10 M503.73,590.00 V585.50 M546.65,312.10 V321.60 M546.65,590.00 V581.50 M589.57,312.10 V317.10 M589.57,590.00 V585.50" stroke="#000" stroke-width="1.7" fill="none" stroke-linecap="square"/>
<text x="54.03" y="490.00" font-size="18.50" font-weight="normal" fill="#000" textLength="10.29" lengthAdjust="spacingAndGlyphs">0</text>
<text x="33.46" y="458.65" font-size="18.50" font-weight="normal" fill="#000" textLength="30.87" lengthAdjust="spacingAndGlyphs">100</text>
<text x="33.46" y="427.30" font-size="18.50" font-weight="normal" fill="#000" textLength="30.87" lengthAdjust="spacingAndGlyphs">200</text>
<text x="33.46" y="395.95" font-size="18.50" font-weight="normal" fill="#000" textLength="30.87" lengthAdjust="spacingAndGlyphs">300</text>
<text x="33.46" y="364.60" font-size="18.50" font-weight="normal" fill="#000" textLength="30.87" lengthAdjust="spacingAndGlyphs">400</text>
<text x="33.46" y="333.25" font-size="18.50" font-weight="normal" fill="#000" textLength="30.87" lengthAdjust="spacingAndGlyphs">500</text>
<text x="38.31" y="585.90" font-size="18.50" font-weight="normal" fill="#000" textLength="26.23" lengthAdjust="spacingAndGlyphs">0.0</text>
<text x="38.49" y="565.00" font-size="18.50" font-weight="normal" fill="#000" textLength="26.23" lengthAdjust="spacingAndGlyphs">0.1</text>
<text x="38.52" y="544.10" font-size="18.50" font-weight="normal" fill="#000" textLength="26.23" lengthAdjust="spacingAndGlyphs">0.2</text>
<text x="38.40" y="523.20" font-size="18.50" font-weight="normal" fill="#000" textLength="26.23" lengthAdjust="spacingAndGlyphs">0.3</text>
<text x="104.60" y="614.90" font-size="18.50" font-weight="normal" fill="#000" textLength="25.62" lengthAdjust="spacingAndGlyphs">3.0</text>
<text x="190.45" y="614.90" font-size="18.50" font-weight="normal" fill="#000" textLength="25.68" lengthAdjust="spacingAndGlyphs">3.5</text>
<text x="276.58" y="614.90" font-size="18.50" font-weight="normal" fill="#000" textLength="25.33" lengthAdjust="spacingAndGlyphs">4.0</text>
<text x="362.43" y="614.90" font-size="18.50" font-weight="normal" fill="#000" textLength="25.39" lengthAdjust="spacingAndGlyphs">4.5</text>
<text x="447.96" y="614.90" font-size="18.50" font-weight="normal" fill="#000" textLength="25.66" lengthAdjust="spacingAndGlyphs">5.0</text>
<text x="533.81" y="614.90" font-size="18.50" font-weight="normal" fill="#000" textLength="25.72" lengthAdjust="spacingAndGlyphs">5.5</text>
<text x="0" y="0" font-size="24.00" font-weight="normal" fill="#000" textLength="87.43" lengthAdjust="spacingAndGlyphs" transform="translate(22.60,435.03) rotate(-90)">c [ppm]</text>
<text x="0" y="0" font-size="24.00" font-weight="normal" fill="#000" textLength="106.54" lengthAdjust="spacingAndGlyphs" transform="translate(24.20,603.43) rotate(-90)">i [mA/cm</text>
<text x="0" y="0" font-size="14.50" font-weight="normal" fill="#000" textLength="10.01" lengthAdjust="spacingAndGlyphs" transform="translate(13.60,497.61) rotate(-90)">2</text>
<text x="0" y="0" font-size="24.00" font-weight="normal" fill="#000" textLength="6.99" lengthAdjust="spacingAndGlyphs" transform="translate(24.20,488.70) rotate(-90)">]</text>
<text x="553.30" y="431.18" font-size="13.39" font-weight="bold" fill="#9b22e8" textLength="14.49" lengthAdjust="spacingAndGlyphs" style="stroke:#9b22e8;stroke-width:0.25px">12</text>
<text x="568.41" y="442.63" font-size="22.74" font-weight="normal" fill="#9b22e8" textLength="36.71" lengthAdjust="spacingAndGlyphs" style="stroke:#9b22e8;stroke-width:1.1px">CO</text>
<text x="606.01" y="451.57" font-size="12.39" font-weight="bold" fill="#9b22e8" textLength="8.26" lengthAdjust="spacingAndGlyphs" style="stroke:#9b22e8;stroke-width:0.25px">2</text>
<text x="554.33" y="462.44" font-size="12.33" font-weight="bold" fill="#4a22e0" textLength="14.00" lengthAdjust="spacingAndGlyphs" style="stroke:#4a22e0;stroke-width:0.25px">13</text>
<text x="569.34" y="473.34" font-size="21.89" font-weight="normal" fill="#4a22e0" textLength="35.75" lengthAdjust="spacingAndGlyphs" style="stroke:#4a22e0;stroke-width:1.1px">CO</text>
<text x="606.01" y="482.27" font-size="11.53" font-weight="bold" fill="#4a22e0" textLength="8.26" lengthAdjust="spacingAndGlyphs" style="stroke:#4a22e0;stroke-width:0.25px">2</text>
<text x="555.93" y="495.68" font-size="11.53" font-weight="bold" fill="#cd6aec" textLength="14.05" lengthAdjust="spacingAndGlyphs" style="stroke:#cd6aec;stroke-width:0.25px">12</text>
<text x="570.60" y="506.54" font-size="21.89" font-weight="normal" fill="#cd6aec" textLength="37.04" lengthAdjust="spacingAndGlyphs" style="stroke:#cd6aec;stroke-width:1.1px">CO</text>
<text x="555.93" y="516.64" font-size="12.19" font-weight="bold" fill="#7f62e4" textLength="14.00" lengthAdjust="spacingAndGlyphs" style="stroke:#7f62e4;stroke-width:0.25px">13</text>
<text x="570.60" y="527.64" font-size="21.89" font-weight="normal" fill="#7f62e4" textLength="37.04" lengthAdjust="spacingAndGlyphs" style="stroke:#7f62e4;stroke-width:1.1px">CO</text>
<path d="M117.40,630.55 V813.50 M117.40,822.35 V900.10 M160.30,630.55 V813.50 M160.30,822.35 V900.10 M203.20,630.55 V813.50 M203.20,822.35 V900.10 M246.10,630.55 V813.50 M246.10,822.35 V900.10 M289.00,630.55 V813.50 M289.00,822.35 V900.10 M331.90,630.55 V813.50 M331.90,822.35 V900.10 M374.80,630.55 V813.50 M374.80,822.35 V900.10 M417.70,630.55 V813.50 M417.70,822.35 V900.10 M460.60,630.55 V813.50 M460.60,822.35 V900.10 M503.50,630.55 V813.50 M503.50,822.35 V900.10 M546.40,630.55 V813.50 M546.40,822.35 V900.10 M589.30,630.55 V813.50 M589.30,822.35 V900.10" stroke="#b4b4b4" stroke-width="1.7" stroke-dasharray="2.0 4.45" fill="none"/>
<path d="M74.80,798.20 H614.90 M74.80,890.90 H614.90" stroke="#c6c6c6" stroke-width="1.25" fill="none"/>
<path d="M119.1,803.7 L120.1,801.2 L121.1,798.8 L122.1,798.2 L123.1,798.0 L124.1,798.0 L125.1,798.1 L126.1,798.3 L127.1,798.6 L128.1,798.7 L129.1,799.0 L130.1,798.9 L131.1,798.6 L132.1,798.1 L133.1,797.6 L134.1,797.3 L135.1,797.6 L136.1,798.1 L137.1,798.7 L138.1,799.2 L139.1,799.3 L140.1,799.2 L141.1,798.8 L142.1,798.5 L143.1,798.2 L144.1,797.9 L145.1,797.6 L146.1,797.6 L147.1,797.7 L148.1,798.2 L149.1,798.6 L150.1,798.8 L151.1,798.6 L152.1,798.0 L153.1,797.3 L154.1,796.8 L155.1,796.6 L156.1,796.9 L157.1,797.4 L158.1,798.0 L159.1,798.6 L160.1,799.0 L161.1,798.9 L162.1,798.7 L163.1,798.3 L164.1,797.8 L165.1,797.5 L166.1,797.3 L167.1,797.5 L168.1,797.9 L169.1,798.5 L170.1,798.7 L171.1,798.6 L172.1,798.1 L173.1,797.5 L174.1,797.3 L175.1,797.1 L176.1,797.4 L177.1,797.8 L178.1,798.6 L179.1,799.3 L180.1,799.8 L181.1,799.8 L182.1,799.5 L183.1,798.7 L184.1,798.1 L185.1,797.4 L186.1,797.1 L187.1,797.2 L188.1,797.7 L189.1,798.6 L190.1,799.4 L191.1,799.8 L192.1,799.6 L193.1,798.7 L194.1,797.4 L195.1,796.6 L196.1,796.4 L197.1,797.0 L198.1,798.0 L199.1,798.8 L200.1,799.5 L201.1,799.4 L202.1,798.6 L203.1,797.3 L204.1,796.7 L205.1,796.4 L206.1,796.6 L207.1,797.2 L208.1,798.3 L209.1,799.3 L210.1,799.2 L211.1,799.0 L212.1,798.4 L213.1,797.5 L214.1,797.1 L215.1,797.3 L216.1,797.8 L217.1,798.6 L218.1,799.4 L219.1,800.1 L220.1,800.6 L221.1,800.5 L222.1,799.9 L223.1,798.9 L224.1,798.0 L225.1,797.3 L226.1,797.0 L227.1,797.4 L228.1,797.9 L229.1,798.7 L230.1,799.1 L231.1,798.6 L232.1,797.6 L233.1,796.4 L234.1,795.4 L235.1,794.5 L236.1,794.7 L237.1,795.6 L238.1,797.0 L239.1,798.7 L240.1,799.9 L241.1,800.4 L242.1,800.1 L243.1,799.0 L244.1,797.5 L245.1,796.5 L246.1,796.3 L247.1,796.8 L248.1,797.9 L249.1,798.7 L250.1,799.4 L251.1,799.8 L252.1,799.7 L253.1,798.9 L254.1,797.9 L255.1,796.9 L256.1,796.4 L257.1,796.5 L258.1,796.9 L259.1,797.3 L260.1,797.6 L261.1,797.9 L262.1,798.1 L263.1,798.3 L264.1,798.1 L265.1,797.8 L266.1,797.6 L267.1,797.6 L268.1,798.0 L269.1,798.7 L270.1,799.5 L271.1,799.9 L272.1,799.9 L273.1,799.6 L274.1,798.8 L275.1,798.3 L276.1,798.1 L277.1,798.7 L278.1,799.2 L279.1,799.9 L280.1,800.4 L281.1,800.5 L282.1,800.1 L283.1,799.5 L284.1,798.7 L285.1,798.1 L286.1,797.6 L287.1,797.3 L288.1,797.5 L289.1,797.9 L290.1,798.4 L291.1,798.6 L292.1,798.3 L293.1,797.7 L294.1,797.3 L295.1,797.0 L296.1,797.0 L297.1,797.3 L298.1,797.8 L299.1,798.4 L300.1,798.9 L301.1,799.0 L302.1,798.9 L303.1,798.6 L304.1,798.2 L305.1,797.7 L306.1,797.4 L307.1,797.4 L308.1,797.6 L309.1,798.1 L310.1,798.6 L311.1,799.3 L312.1,799.5 L313.1,799.4 L314.1,798.9 L315.1,798.2 L316.1,797.3 L317.1,796.8 L318.1,796.8 L319.1,797.4 L320.1,798.2 L321.1,799.0 L322.1,799.3 L323.1,799.0 L324.1,798.1 L325.1,797.2 L326.1,796.7 L327.1,796.6 L328.1,797.0 L329.1,797.7 L330.1,798.3 L331.1,798.9 L332.1,799.2 L333.1,799.1 L334.1,798.6 L335.1,797.8 L336.1,797.2 L337.1,797.1 L338.1,797.4 L339.1,797.8 L340.1,798.3 L341.1,798.6 L342.1,798.6 L343.1,798.4 L344.1,798.0 L345.1,797.5 L346.1,797.2 L347.1,797.1 L348.1,797.1 L349.1,797.3 L350.1,798.0 L351.1,798.7 L352.1,799.5 L353.1,799.7 L354.1,799.6 L355.1,799.0 L356.1,798.1 L357.1,797.5 L358.1,797.2 L359.1,797.4 L360.1,798.0 L361.1,798.6 L362.1,799.3 L363.1,799.9 L364.1,800.1 L365.1,799.9 L366.1,799.2 L367.1,798.7 L368.1,798.3 L369.1,798.5 L370.1,799.1 L371.1,799.8 L372.1,800.1 L373.1,800.0 L374.1,799.2 L375.1,798.0 L376.1,797.1 L377.1,796.4 L378.1,796.4 L379.1,796.9 L380.1,797.6 L381.1,798.7 L382.1,799.1 L383.1,799.4 L384.1,799.1 L385.1,798.9 L386.1,798.3 L387.1,798.0 L388.1,798.0 L389.1,798.4 L390.1,798.9 L391.1,799.3 L392.1,800.0 L393.1,800.6 L394.1,800.7 L395.1,800.1 L396.1,799.2 L397.1,798.3 L398.1,797.9 L399.1,798.1 L400.1,798.7 L401.1,799.6 L402.1,800.3 L403.1,800.3 L404.1,799.8 L405.1,798.4 L406.1,797.0 L407.1,796.1 L408.1,795.7 L409.1,796.0 L410.1,796.8 L411.1,797.6 L412.1,798.4 L413.1,798.6 L414.1,798.4 L415.1,797.9 L416.1,797.3 L417.1,796.4 L418.1,795.8 L419.1,795.7 L420.1,796.1 L421.1,797.1 L422.1,798.6 L423.1,798.7 L424.1,798.4 L425.1,797.5 L426.1,796.4 L427.1,795.7 L428.1,795.2 L429.1,795.1 L430.1,795.5 L431.1,796.5 L432.1,797.1 L433.1,797.4 L434.1,797.1 L435.1,796.5 L436.1,795.8 L437.1,795.1 L438.1,794.5 L439.1,794.3 L440.1,794.6 L441.1,795.2 L442.1,795.9 L443.1,796.3 L444.1,795.5 L445.1,794.6 L446.1,793.2 L447.1,792.0 L448.1,791.1 L449.1,791.0 L450.1,791.9 L451.1,793.0 L452.1,794.1 L453.1,794.5 L454.1,794.5 L455.1,793.8 L456.1,792.8 L457.1,792.0 L458.1,791.6 L459.1,791.6 L460.1,791.9 L461.1,792.4 L462.1,792.5 L463.1,792.3 L464.1,791.6 L465.1,790.9 L466.1,789.5 L467.1,788.4 L468.1,788.0 L469.1,788.3 L470.1,789.1 L471.1,789.9 L472.1,789.9 L473.1,789.8 L474.1,789.1 L475.1,788.0 L476.1,786.8 L477.1,786.0 L478.1,785.9 L479.1,786.2 L480.1,786.9 L481.1,787.6 L482.1,788.3 L483.1,788.4 L484.1,788.1 L485.1,787.6 L486.1,786.7 L487.1,785.8 L488.1,785.2 L489.1,785.1 L490.1,785.4 L491.1,786.1 L492.1,786.6 L493.1,786.8 L494.1,786.5 L495.1,785.8 L496.1,784.9 L497.1,783.9 L498.1,783.2 L499.1,783.0 L500.1,783.1 L501.1,783.4 L502.1,783.7 L503.1,783.9 L504.1,783.8 L505.1,783.1 L506.1,782.3 L507.1,781.3 L508.1,780.4 L509.1,779.8 L510.1,779.4 L511.1,779.4 L512.1,779.6 L513.1,780.0 L514.1,779.9 L515.1,779.6 L516.1,778.7 L517.1,778.0 L518.1,777.4 L519.1,777.2 L520.1,777.3 L521.1,777.6 L522.1,777.8 L523.1,777.9 L524.1,777.8 L525.1,777.5 L526.1,776.9 L527.1,776.3 L528.1,775.8 L529.1,775.6 L530.1,775.9 L531.1,776.4 L532.1,776.5 L533.1,776.2 L534.1,775.5 L535.1,774.5 L536.1,773.2 L537.1,772.2 L538.1,771.6 L539.1,771.2 L540.1,771.1 L541.1,771.3 L542.1,771.4 L543.1,771.3 L544.1,771.1 L545.1,770.4 L546.1,769.6 L546.4,769.1" fill="none" stroke="#cd6aec" stroke-width="4.0" stroke-linecap="round" stroke-linejoin="round"/>
<path d="M119.1,798.8 L120.1,798.4 L121.1,798.0 L122.1,797.9 L123.1,797.9 L124.1,797.9 L125.1,798.3 L126.1,798.7 L127.1,798.8 L128.1,798.5 L129.1,798.1 L130.1,797.9 L131.1,797.8 L132.1,798.1 L133.1,798.7 L134.1,799.3 L135.1,799.7 L136.1,800.0 L137.1,799.9 L138.1,799.4 L139.1,798.5 L140.1,797.5 L141.1,796.8 L142.1,796.4 L143.1,796.5 L144.1,797.0 L145.1,797.8 L146.1,798.4 L147.1,798.8 L148.1,798.5 L149.1,798.1 L150.1,797.7 L151.1,797.0 L152.1,796.6 L153.1,796.9 L154.1,797.3 L155.1,798.0 L156.1,798.4 L157.1,798.6 L158.1,798.7 L159.1,798.4 L160.1,798.1 L161.1,797.7 L162.1,797.7 L163.1,798.1 L164.1,798.8 L165.1,799.1 L166.1,799.3 L167.1,799.1 L168.1,798.7 L169.1,798.1 L170.1,797.5 L171.1,797.2 L172.1,797.1 L173.1,797.2 L174.1,797.6 L175.1,798.0 L176.1,798.6 L177.1,798.6 L178.1,798.1 L179.1,797.3 L180.1,796.4 L181.1,796.1 L182.1,796.1 L183.1,796.8 L184.1,797.8 L185.1,798.8 L186.1,799.1 L187.1,799.1 L188.1,799.0 L189.1,799.1 L190.1,798.6 L191.1,797.9 L192.1,797.6 L193.1,797.4 L194.1,797.8 L195.1,798.4 L196.1,799.1 L197.1,799.7 L198.1,799.9 L199.1,799.7 L200.1,799.5 L201.1,798.9 L202.1,798.3 L203.1,797.7 L204.1,797.4 L205.1,797.7 L206.1,798.1 L207.1,798.4 L208.1,798.2 L209.1,797.5 L210.1,796.7 L211.1,796.1 L212.1,795.8 L213.1,796.1 L214.1,797.0 L215.1,798.2 L216.1,799.3 L217.1,800.2 L218.1,800.4 L219.1,800.1 L220.1,799.6 L221.1,798.8 L222.1,798.4 L223.1,798.3 L224.1,798.6 L225.1,798.9 L226.1,799.4 L227.1,799.7 L228.1,799.6 L229.1,799.3 L230.1,798.8 L231.1,798.1 L232.1,797.2 L233.1,797.0 L234.1,797.4 L235.1,798.1 L236.1,798.7 L237.1,798.9 L238.1,798.8 L239.1,798.2 L240.1,797.4 L241.1,797.1 L242.1,797.0 L243.1,797.4 L244.1,797.9 L245.1,798.5 L246.1,798.7 L247.1,798.7 L248.1,798.3 L249.1,797.8 L250.1,797.4 L251.1,797.4 L252.1,797.7 L253.1,798.2 L254.1,799.0 L255.1,799.4 L256.1,799.5 L257.1,799.2 L258.1,798.6 L259.1,798.0 L260.1,797.5 L261.1,797.4 L262.1,797.6 L263.1,798.2 L264.1,798.5 L265.1,798.7 L266.1,798.6 L267.1,798.1 L268.1,797.5 L269.1,796.9 L270.1,796.6 L271.1,796.7 L272.1,797.1 L273.1,797.6 L274.1,798.2 L275.1,798.6 L276.1,798.8 L277.1,798.6 L278.1,798.2 L279.1,797.7 L280.1,797.4 L281.1,797.4 L282.1,797.6 L283.1,797.9 L284.1,798.4 L285.1,798.6 L286.1,798.8 L287.1,798.8 L288.1,798.7 L289.1,798.5 L290.1,798.3 L291.1,798.2 L292.1,798.1 L293.1,798.3 L294.1,798.5 L295.1,798.6 L296.1,798.5 L297.1,798.2 L298.1,797.7 L299.1,797.2 L300.1,796.8 L301.1,796.9 L302.1,797.2 L303.1,797.7 L304.1,798.3 L305.1,798.7 L306.1,798.8 L307.1,798.5 L308.1,798.3 L309.1,797.7 L310.1,797.1 L311.1,797.0 L312.1,797.4 L313.1,798.0 L314.1,798.5 L315.1,798.8 L316.1,798.6 L317.1,798.4 L318.1,798.0 L319.1,797.9 L320.1,797.8 L321.1,798.1 L322.1,798.6 L323.1,799.0 L324.1,799.4 L325.1,799.4 L326.1,799.1 L327.1,798.7 L328.1,798.4 L329.1,797.7 L330.1,797.1 L331.1,796.9 L332.1,797.0 L333.1,797.5 L334.1,798.2 L335.1,798.7 L336.1,799.0 L337.1,798.8 L338.1,797.9 L339.1,796.7 L340.1,795.9 L341.1,795.7 L342.1,796.2 L343.1,797.1 L344.1,798.0 L345.1,798.6 L346.1,798.8 L347.1,798.4 L348.1,798.0 L349.1,797.5 L350.1,797.4 L351.1,797.9 L352.1,798.5 L353.1,798.7 L354.1,798.5 L355.1,798.0 L356.1,797.3 L357.1,796.7 L358.1,796.1 L359.1,796.0 L360.1,796.4 L361.1,797.3 L362.1,798.5 L363.1,799.7 L364.1,800.6 L365.1,800.5 L366.1,799.8 L367.1,798.8 L368.1,798.0 L369.1,797.8 L370.1,798.5 L371.1,799.3 L372.1,799.8 L373.1,799.8 L374.1,799.3 L375.1,798.4 L376.1,797.3 L377.1,796.5 L378.1,796.3 L379.1,796.7 L380.1,797.4 L381.1,798.4 L382.1,799.3 L383.1,799.8 L384.1,799.9 L385.1,799.7 L386.1,799.0 L387.1,798.2 L388.1,797.8 L389.1,797.5 L390.1,797.9 L391.1,798.5 L392.1,798.9 L393.1,799.0 L394.1,798.4 L395.1,797.7 L396.1,797.0 L397.1,796.3 L398.1,796.0 L399.1,796.5 L400.1,797.6 L401.1,798.8 L402.1,799.4 L403.1,799.2 L404.1,798.6 L405.1,797.8 L406.1,796.9 L407.1,796.5 L408.1,796.7 L409.1,797.2 L410.1,797.9 L411.1,798.7 L412.1,799.0 L413.1,798.9 L414.1,798.3 L415.1,797.6 L416.1,797.1 L417.1,797.2 L418.1,797.8 L419.1,798.3 L420.1,798.7 L421.1,798.8 L422.1,798.7 L423.1,798.1 L424.1,797.6 L425.1,797.3 L426.1,797.2 L427.1,797.5 L428.1,798.0 L429.1,798.2 L430.1,798.1 L431.1,797.7 L432.1,797.3 L433.1,797.1 L434.1,796.8 L435.1,796.7 L436.1,796.8 L437.1,797.0 L438.1,797.2 L439.1,797.5 L440.1,797.8 L441.1,797.9 L442.1,797.8 L443.1,797.7 L444.1,797.5 L445.1,797.4 L446.1,797.6 L447.1,797.9 L448.1,798.3 L449.1,798.5 L450.1,798.5 L451.1,798.1 L452.1,797.6 L453.1,796.8 L454.1,796.3 L455.1,796.1 L456.1,796.1 L457.1,796.2 L458.1,796.6 L459.1,797.1 L460.1,797.4 L461.1,797.6 L462.1,797.4 L463.1,797.2 L464.1,797.0 L465.1,797.0 L466.1,797.2 L467.1,797.6 L468.1,797.8 L469.1,798.0 L470.1,798.0 L471.1,797.8 L472.1,797.2 L473.1,796.7 L474.1,796.2 L475.1,796.0 L476.1,796.1 L477.1,796.5 L478.1,797.1 L479.1,797.6 L480.1,797.7 L481.1,797.6 L482.1,797.4 L483.1,797.2 L484.1,796.8 L485.1,796.5 L486.1,796.5 L487.1,796.8 L488.1,797.1 L489.1,797.5 L490.1,797.6 L491.1,797.4 L492.1,796.9 L493.1,796.4 L494.1,795.9 L495.1,795.7 L496.1,796.0 L497.1,796.5 L498.1,797.4 L499.1,798.0 L500.1,798.3 L501.1,798.1 L502.1,797.6 L503.1,797.0 L504.1,796.3 L505.1,796.2 L506.1,796.6 L507.1,797.3 L508.1,798.0 L509.1,798.6 L510.1,798.8 L511.1,798.7 L512.1,798.2 L513.1,797.4 L514.1,796.6 L515.1,796.2 L516.1,796.1 L517.1,796.3 L518.1,796.4 L519.1,796.9 L520.1,797.1 L521.1,796.9 L522.1,796.3 L523.1,795.5 L524.1,794.8 L525.1,794.3 L526.1,793.9 L527.1,794.1 L528.1,794.1 L529.1,794.3 L530.1,794.3 L531.1,794.1 L532.1,793.5 L533.1,792.7 L534.1,791.8 L535.1,791.0 L536.1,791.0 L537.1,791.9 L538.1,792.9 L539.1,793.8 L540.1,794.4 L541.1,794.4 L542.1,793.9 L543.1,793.1 L544.1,792.3 L545.1,792.2 L546.1,793.0 L547.1,794.6 L547.3,794.7" fill="none" stroke="#7f62e4" stroke-width="4.0" stroke-linecap="round" stroke-linejoin="round"/>
<path d="M119.1,798.2 L120.1,798.1 L121.1,798.1 L122.1,798.3 L123.1,798.5 L124.1,798.4 L125.1,798.2 L126.1,797.9 L127.1,797.3 L128.1,796.9 L129.1,796.9 L130.1,797.3 L131.1,798.1 L132.1,798.9 L133.1,799.3 L134.1,799.5 L135.1,799.3 L136.1,798.8 L137.1,798.1 L138.1,797.9 L139.1,797.8 L140.1,797.9 L141.1,798.2 L142.1,798.6 L143.1,798.8 L144.1,798.8 L145.1,798.7 L146.1,798.4 L147.1,798.1 L148.1,797.7 L149.1,797.8 L150.1,798.2 L151.1,798.9 L152.1,799.5 L153.1,800.0 L154.1,800.0 L155.1,799.4 L156.1,798.5 L157.1,797.7 L158.1,797.0 L159.1,796.9 L160.1,797.2 L161.1,797.9 L162.1,798.7 L163.1,799.1 L164.1,799.1 L165.1,798.6 L166.1,798.1 L167.1,797.5 L168.1,797.6 L169.1,798.1 L170.1,798.6 L171.1,799.1 L172.1,799.8 L173.1,799.9 L174.1,799.8 L175.1,799.2 L176.1,798.3 L177.1,797.5 L178.1,796.8 L179.1,796.7 L180.1,797.5 L181.1,798.6 L182.1,799.7 L183.1,800.2 L184.1,800.0 L185.1,799.3 L186.1,798.3 L187.1,797.6 L188.1,797.2 L189.1,797.5 L190.1,798.2 L191.1,798.8 L192.1,799.2 L193.1,799.1 L194.1,798.6 L195.1,797.7 L196.1,797.2 L197.1,796.8 L198.1,796.7 L199.1,797.3 L200.1,797.9 L201.1,798.3 L202.1,798.9 L203.1,799.0 L204.1,798.4 L205.1,797.6 L206.1,796.4 L207.1,795.6 L208.1,795.3 L209.1,796.0 L210.1,797.3 L211.1,798.7 L212.1,799.9 L213.1,800.2 L214.1,799.8 L215.1,798.9 L216.1,797.9 L217.1,797.6 L218.1,798.1 L219.1,799.1 L220.1,800.0 L221.1,801.0 L222.1,801.4 L223.1,800.9 L224.1,800.0 L225.1,798.7 L226.1,798.0 L227.1,797.9 L228.1,798.4 L229.1,799.3 L230.1,800.5 L231.1,801.2 L232.1,801.1 L233.1,800.5 L234.1,799.1 L235.1,798.0 L236.1,797.4 L237.1,797.4 L238.1,797.8 L239.1,798.4 L240.1,799.2 L241.1,799.6 L242.1,799.5 L243.1,798.9 L244.1,798.3 L245.1,797.7 L246.1,797.5 L247.1,797.4 L248.1,798.1 L249.1,798.8 L250.1,799.6 L251.1,800.6 L252.1,801.0 L253.1,800.7 L254.1,799.9 L255.1,798.4 L256.1,797.4 L257.1,796.9 L258.1,797.1 L259.1,797.8 L260.1,798.8 L261.1,799.2 L262.1,799.5 L263.1,799.2 L264.1,798.6 L265.1,798.3 L266.1,798.3 L267.1,798.7 L268.1,799.1 L269.1,799.5 L270.1,799.6 L271.1,799.1 L272.1,798.0 L273.1,797.3 L274.1,797.0 L275.1,797.1 L276.1,797.5 L277.1,798.0 L278.1,798.3 L279.1,798.3 L280.1,797.9 L281.1,797.3 L282.1,796.9 L283.1,796.9 L284.1,797.2 L285.1,797.8 L286.1,798.5 L287.1,798.9 L288.1,799.0 L289.1,798.8 L290.1,798.2 L291.1,797.6 L292.1,797.1 L293.1,797.1 L294.1,797.5 L295.1,798.1 L296.1,798.8 L297.1,799.3 L298.1,799.4 L299.1,799.0 L300.1,798.3 L301.1,797.5 L302.1,797.2 L303.1,797.1 L304.1,797.4 L305.1,797.7 L306.1,798.2 L307.1,798.7 L308.1,798.9 L309.1,798.7 L310.1,798.2 L311.1,797.7 L312.1,797.2 L313.1,797.1 L314.1,797.5 L315.1,798.3 L316.1,799.0 L317.1,799.5 L318.1,799.6 L319.1,799.3 L320.1,798.9 L321.1,798.3 L322.1,797.8 L323.1,797.5 L324.1,797.3 L325.1,797.3 L326.1,797.5 L327.1,798.0 L328.1,798.3 L329.1,798.3 L330.1,798.1 L331.1,797.8 L332.1,797.4 L333.1,797.0 L334.1,797.1 L335.1,797.7 L336.1,798.6 L337.1,799.3 L338.1,799.3 L339.1,798.6 L340.1,797.7 L341.1,796.6 L342.1,796.1 L343.1,796.0 L344.1,796.5 L345.1,797.3 L346.1,797.8 L347.1,798.0 L348.1,797.9 L349.1,797.9 L350.1,797.5 L351.1,797.2 L352.1,797.1 L353.1,797.4 L354.1,798.0 L355.1,798.6 L356.1,799.1 L357.1,799.4 L358.1,799.1 L359.1,798.6 L360.1,798.1 L361.1,798.0 L362.1,798.7 L363.1,799.8 L364.1,800.4 L365.1,800.6 L366.1,800.3 L367.1,799.3 L368.1,798.3 L369.1,797.1 L370.1,796.6 L371.1,796.5 L372.1,796.6 L373.1,796.8 L374.1,797.0 L375.1,797.3 L376.1,797.5 L377.1,797.6 L378.1,797.1 L379.1,796.5 L380.1,795.9 L381.1,795.8 L382.1,796.3 L383.1,797.1 L384.1,797.7 L385.1,798.1 L386.1,798.4 L387.1,798.1 L388.1,797.1 L389.1,795.5 L390.1,794.3 L391.1,793.6 L392.1,794.0 L393.1,794.8 L394.1,796.1 L395.1,796.4 L396.1,795.8 L397.1,794.9 L398.1,793.8 L399.1,793.3 L400.1,793.6 L401.1,794.5 L402.1,795.7 L403.1,796.8 L404.1,797.4 L405.1,797.5 L406.1,797.0 L407.1,795.9 L408.1,794.6 L409.1,793.0 L410.1,792.2 L411.1,791.8 L412.1,792.1 L413.1,792.9 L414.1,793.7 L415.1,794.1 L416.1,794.1 L417.1,793.9 L418.1,793.6 L419.1,792.6 L420.1,792.2 L421.1,792.1 L422.1,792.1 L423.1,792.2 L424.1,792.1 L425.1,792.0 L426.1,791.7 L427.1,790.8 L428.1,789.8 L429.1,788.9 L430.1,788.7 L431.1,788.9 L432.1,789.4 L433.1,789.5 L434.1,789.1 L435.1,788.2 L436.1,786.8 L437.1,785.4 L438.1,784.4 L439.1,784.4 L440.1,785.1 L441.1,785.9 L442.1,786.8 L443.1,786.9 L444.1,786.4 L445.1,785.4 L446.1,784.2 L447.1,782.8 L448.1,781.7 L449.1,781.0 L450.1,780.8 L451.1,780.6 L452.1,780.6 L453.1,780.2 L454.1,779.7 L455.1,778.7 L456.1,777.3 L457.1,776.5 L458.1,775.9 L459.1,776.1 L460.1,776.2 L461.1,776.6 L462.1,776.6 L463.1,776.3 L464.1,775.5 L465.1,774.2 L466.1,773.0 L467.1,772.1 L468.1,771.8 L469.1,771.7 L470.1,771.6 L471.1,771.5 L472.1,771.0 L473.1,770.3 L474.1,769.2 L475.1,768.1 L476.1,767.1 L477.1,766.2 L478.1,765.8 L479.1,765.8 L480.1,766.0 L481.1,766.0 L482.1,765.3 L483.1,763.9 L484.1,762.2 L485.1,760.6 L486.1,759.5 L487.1,758.7 L488.1,758.3 L489.1,758.1 L490.1,757.9 L491.1,757.4 L492.1,756.4 L493.1,755.2 L494.1,754.0 L495.1,753.0 L496.1,752.1 L497.1,751.3 L498.1,750.5 L499.1,749.9 L500.1,749.5 L501.1,749.3 L502.1,749.2 L503.1,748.9 L504.1,748.2 L505.1,747.2 L506.1,746.4 L507.1,745.5 L508.1,744.7 L509.1,744.3 L510.1,744.1 L511.1,744.1 L512.1,743.9 L513.1,743.5 L514.1,742.6 L515.1,741.6 L516.1,740.4 L517.1,739.3 L518.1,738.3 L519.1,737.7 L520.1,737.4 L521.1,737.4 L522.1,737.2 L523.1,736.6 L524.1,735.7 L525.1,734.2 L526.1,732.7 L527.1,731.4 L528.1,730.4 L529.1,729.7 L530.1,729.4 L531.1,729.2 L532.1,728.7 L533.1,727.7 L534.1,726.6 L535.1,725.3 L536.1,724.1 L537.1,722.6 L538.1,721.8 L539.1,721.1 L540.1,721.0 L541.1,721.7 L542.1,722.2 L543.1,722.8 L544.1,722.8 L545.1,722.6 L546.1,722.4 L547.1,722.3 L547.3,722.5" fill="none" stroke="#9b22e8" stroke-width="4.0" stroke-linecap="round" stroke-linejoin="round"/>
<path d="M119.1,797.8 L120.1,797.7 L121.1,797.8 L122.1,798.1 L123.1,798.4 L124.1,798.7 L125.1,798.8 L126.1,798.8 L127.1,798.6 L128.1,798.3 L129.1,798.1 L130.1,797.9 L131.1,798.0 L132.1,798.1 L133.1,798.4 L134.1,798.6 L135.1,798.5 L136.1,798.4 L137.1,798.2 L138.1,797.9 L139.1,797.7 L140.1,797.7 L141.1,797.9 L142.1,798.3 L143.1,798.6 L144.1,798.7 L145.1,798.5 L146.1,798.2 L147.1,797.8 L148.1,797.5 L149.1,797.5 L150.1,797.6 L151.1,797.9 L152.1,798.3 L153.1,798.6 L154.1,798.7 L155.1,798.6 L156.1,798.3 L157.1,798.1 L158.1,797.8 L159.1,797.7 L160.1,797.7 L161.1,797.9 L162.1,798.3 L163.1,798.6 L164.1,798.8 L165.1,798.9 L166.1,798.6 L167.1,798.2 L168.1,797.9 L169.1,797.8 L170.1,797.9 L171.1,798.3 L172.1,798.8 L173.1,799.1 L174.1,799.2 L175.1,799.3 L176.1,799.1 L177.1,798.7 L178.1,798.4 L179.1,798.1 L180.1,798.1 L181.1,798.3 L182.1,798.7 L183.1,799.0 L184.1,799.0 L185.1,798.6 L186.1,798.0 L187.1,797.6 L188.1,797.5 L189.1,797.6 L190.1,797.9 L191.1,798.4 L192.1,798.8 L193.1,798.9 L194.1,798.5 L195.1,797.8 L196.1,797.1 L197.1,796.8 L198.1,796.6 L199.1,796.6 L200.1,797.0 L201.1,797.4 L202.1,797.8 L203.1,798.2 L204.1,798.4 L205.1,798.4 L206.1,798.2 L207.1,797.8 L208.1,797.7 L209.1,797.7 L210.1,797.9 L211.1,798.3 L212.1,798.6 L213.1,798.9 L214.1,798.8 L215.1,798.7 L216.1,798.3 L217.1,797.9 L218.1,797.6 L219.1,797.4 L220.1,797.5 L221.1,797.6 L222.1,797.8 L223.1,798.1 L224.1,798.4 L225.1,798.6 L226.1,798.7 L227.1,798.5 L228.1,798.0 L229.1,797.5 L230.1,797.1 L231.1,797.2 L232.1,797.7 L233.1,798.3 L234.1,798.8 L235.1,799.0 L236.1,798.9 L237.1,798.4 L238.1,798.0 L239.1,797.5 L240.1,797.2 L241.1,797.2 L242.1,797.3 L243.1,797.8 L244.1,798.2 L245.1,798.5 L246.1,798.6 L247.1,798.5 L248.1,798.2 L249.1,797.9 L250.1,797.7 L251.1,797.6 L252.1,797.8 L253.1,798.1 L254.1,798.5 L255.1,798.7 L256.1,798.7 L257.1,798.5 L258.1,798.2 L259.1,797.9 L260.1,797.7 L261.1,797.6 L262.1,797.7 L263.1,797.9 L264.1,798.1 L265.1,798.5 L266.1,798.6 L267.1,798.6 L268.1,798.5 L269.1,798.3 L270.1,798.2 L271.1,798.3 L272.1,798.3 L273.1,798.5 L274.1,798.5 L275.1,798.6 L276.1,798.5 L277.1,798.3 L278.1,798.1 L279.1,797.9 L280.1,797.6 L281.1,797.6 L282.1,797.7 L283.1,797.9 L284.1,798.1 L285.1,798.3 L286.1,798.3 L287.1,798.3 L288.1,798.1 L289.1,798.0 L290.1,798.0 L291.1,797.9 L292.1,797.9 L293.1,798.0 L294.1,798.2 L295.1,798.5 L296.1,798.7 L297.1,798.9 L298.1,798.9 L299.1,798.8 L300.1,798.6 L301.1,798.4 L302.1,798.3 L303.1,798.3 L304.1,798.5 L305.1,798.8 L306.1,798.8 L307.1,798.7 L308.1,798.5 L309.1,798.2 L310.1,798.0 L311.1,797.8 L312.1,797.7 L313.1,797.8 L314.1,798.2 L315.1,798.4 L316.1,798.5 L317.1,798.4 L318.1,798.3 L319.1,798.1 L320.1,797.9 L321.1,797.9 L322.1,798.1 L323.1,798.5 L324.1,798.8 L325.1,798.9 L326.1,798.9 L327.1,798.8 L328.1,798.5 L329.1,798.2 L330.1,798.1 L331.1,798.1 L332.1,798.2 L333.1,798.4 L334.1,798.5 L335.1,798.5 L336.1,798.4 L337.1,798.2 L338.1,797.9 L339.1,797.9 L340.1,797.8 L341.1,797.7 L342.1,797.8 L343.1,797.9 L344.1,798.4 L345.1,798.8 L346.1,798.9 L347.1,798.9 L348.1,798.7 L349.1,798.3 L350.1,798.1 L351.1,798.0 L352.1,798.1 L353.1,798.4 L354.1,798.7 L355.1,799.1 L356.1,799.4 L357.1,799.4 L358.1,799.2 L359.1,798.7 L360.1,798.2 L361.1,797.8 L362.1,797.6 L363.1,797.5 L364.1,797.5 L365.1,797.8 L366.1,797.9 L367.1,797.8 L368.1,797.5 L369.1,797.3 L370.1,797.4 L371.1,797.7 L372.1,798.0 L373.1,798.5 L374.1,798.8 L375.1,798.7 L376.1,798.5 L377.1,798.1 L378.1,797.4 L379.1,796.8 L380.1,796.4 L381.1,796.4 L382.1,796.6 L383.1,797.1 L384.1,797.6 L385.1,797.8 L386.1,797.8 L387.1,797.4 L388.1,796.9 L389.1,796.3 L390.1,796.0 L391.1,796.0 L392.1,796.4 L393.1,796.8 L394.1,797.1 L395.1,797.3 L396.1,797.5 L397.1,797.4 L398.1,797.0 L399.1,796.5 L400.1,796.0 L401.1,795.6 L402.1,795.4 L403.1,795.3 L404.1,795.3 L405.1,795.7 L406.1,796.0 L407.1,796.0 L408.1,795.7 L409.1,795.2 L410.1,794.7 L411.1,794.2 L412.1,793.9 L413.1,793.7 L414.1,793.7 L415.1,793.9 L416.1,793.9 L417.1,793.6 L418.1,793.1 L419.1,792.7 L420.1,792.3 L421.1,792.2 L422.1,792.3 L423.1,792.3 L424.1,792.2 L425.1,792.0 L426.1,791.7 L427.1,791.3 L428.1,790.9 L429.1,790.4 L430.1,789.7 L431.1,789.0 L432.1,788.4 L433.1,787.9 L434.1,787.7 L435.1,787.7 L436.1,787.5 L437.1,787.2 L438.1,786.7 L439.1,786.1 L440.1,785.4 L441.1,784.8 L442.1,784.4 L443.1,784.0 L444.1,783.8 L445.1,783.6 L446.1,783.2 L447.1,782.8 L448.1,782.4 L449.1,781.8 L450.1,781.1 L451.1,780.4 L452.1,779.8 L453.1,779.4 L454.1,779.2 L455.1,778.9 L456.1,778.5 L457.1,777.9 L458.1,777.2 L459.1,776.4 L460.1,775.6 L461.1,774.9 L462.1,774.5 L463.1,774.1 L464.1,773.7 L465.1,773.4 L466.1,772.9 L467.1,772.3 L468.1,771.6 L469.1,770.7 L470.1,770.0 L471.1,769.5 L472.1,769.2 L473.1,769.0 L474.1,768.7 L475.1,768.3 L476.1,767.9 L477.1,767.3 L478.1,766.5 L479.1,765.6 L480.1,764.7 L481.1,764.0 L482.1,763.4 L483.1,762.9 L484.1,762.5 L485.1,761.9 L486.1,761.2 L487.1,760.2 L488.1,759.1 L489.1,757.9 L490.1,756.8 L491.1,755.8 L492.1,755.0 L493.1,754.3 L494.1,753.7 L495.1,753.1 L496.1,752.3 L497.1,751.3 L498.1,750.0 L499.1,748.8 L500.1,747.6 L501.1,746.4 L502.1,745.4 L503.1,744.5 L504.1,743.8 L505.1,743.0 L506.1,741.9 L507.1,740.8 L508.1,739.6 L509.1,738.3 L510.1,737.1 L511.1,736.0 L512.1,735.2 L513.1,734.4 L514.1,733.5 L515.1,732.4 L516.1,731.1 L517.1,729.6 L518.1,728.1 L519.1,726.5 L520.1,725.1 L521.1,724.0 L522.1,723.0 L523.1,722.1 L524.1,721.3 L525.1,720.3 L526.1,719.1 L527.1,717.8 L528.1,716.3 L529.1,714.9 L530.1,713.5 L531.1,712.2 L532.1,711.1 L533.1,710.2 L534.1,709.3 L535.1,708.2 L536.1,706.9 L537.1,705.6 L538.1,704.1 L539.1,702.7 L540.1,701.2 L541.1,699.9 L542.1,698.9 L543.1,698.3 L544.1,697.5 L545.1,696.7 L546.1,695.4 L546.4,694.8" fill="none" stroke="#4a22e0" stroke-width="4.0" stroke-linecap="round" stroke-linejoin="round"/>
<path d="M118.1,890.7 L119.1,890.7 L120.1,890.7 L121.1,890.7 L122.1,890.7 L123.1,890.7 L124.1,890.7 L125.1,890.7 L126.1,890.7 L127.1,890.7 L128.1,890.7 L129.1,890.7 L130.1,890.7 L131.1,890.7 L132.1,890.7 L133.1,890.7 L134.1,890.7 L135.1,890.7 L136.1,890.7 L137.1,890.7 L138.1,890.7 L139.1,890.7 L140.1,890.7 L141.1,890.7 L142.1,890.7 L143.1,890.7 L144.1,890.7 L145.1,890.7 L146.1,890.7 L147.1,890.7 L148.1,890.7 L149.1,890.7 L150.1,890.7 L151.1,890.7 L152.1,890.6 L153.1,890.6 L154.1,890.6 L155.1,890.6 L156.1,890.6 L157.1,890.6 L158.1,890.6 L159.1,890.6 L160.1,890.6 L161.1,890.6 L162.1,890.6 L163.1,890.6 L164.1,890.6 L165.1,890.6 L166.1,890.6 L167.1,890.6 L168.1,890.6 L169.1,890.6 L170.1,890.6 L171.1,890.6 L172.1,890.6 L173.1,890.6 L174.1,890.6 L175.1,890.6 L176.1,890.6 L177.1,890.6 L178.1,890.6 L179.1,890.6 L180.1,890.6 L181.1,890.6 L182.1,890.6 L183.1,890.6 L184.1,890.6 L185.1,890.5 L186.1,890.5 L187.1,890.5 L188.1,890.5 L189.1,890.5 L190.1,890.5 L191.1,890.5 L192.1,890.5 L193.1,890.5 L194.1,890.5 L195.1,890.5 L196.1,890.5 L197.1,890.5 L198.1,890.5 L199.1,890.5 L200.1,890.5 L201.1,890.5 L202.1,890.5 L203.1,890.5 L204.1,890.5 L205.1,890.5 L206.1,890.5 L207.1,890.5 L208.1,890.5 L209.1,890.5 L210.1,890.5 L211.1,890.4 L212.1,890.4 L213.1,890.4 L214.1,890.4 L215.1,890.4 L216.1,890.4 L217.1,890.4 L218.1,890.4 L219.1,890.4 L220.1,890.4 L221.1,890.4 L222.1,890.4 L223.1,890.4 L224.1,890.4 L225.1,890.4 L226.1,890.4 L227.1,890.4 L228.1,890.3 L229.1,890.3 L230.1,890.3 L231.1,890.3 L232.1,890.3 L233.1,890.3 L234.1,890.3 L235.1,890.3 L236.1,890.3 L237.1,890.3 L238.1,890.3 L239.1,890.3 L240.1,890.3 L241.1,890.2 L242.1,890.2 L243.1,890.2 L244.1,890.2 L245.1,890.2 L246.1,890.2 L247.1,890.2 L248.1,890.2 L249.1,890.2 L250.1,890.2 L251.1,890.1 L252.1,890.1 L253.1,890.1 L254.1,890.1 L255.1,890.1 L256.1,890.1 L257.1,890.1 L258.1,890.1 L259.1,890.1 L260.1,890.0 L261.1,890.0 L262.1,890.0 L263.1,890.0 L264.1,890.0 L265.1,890.0 L266.1,890.0 L267.1,889.9 L268.1,889.9 L269.1,889.9 L270.1,889.9 L271.1,889.9 L272.1,889.9 L273.1,889.9 L274.1,889.8 L275.1,889.8 L276.1,889.8 L277.1,889.8 L278.1,889.8 L279.1,889.8 L280.1,889.7 L281.1,889.7 L282.1,889.7 L283.1,889.7 L284.1,889.6 L285.1,889.6 L286.1,889.6 L287.1,889.5 L288.1,889.5 L289.1,889.5 L290.1,889.4 L291.1,889.4 L292.1,889.3 L293.1,889.3 L294.1,889.2 L295.1,889.2 L296.1,889.1 L297.1,889.1 L298.1,889.0 L299.1,888.9 L300.1,888.9 L301.1,888.8 L302.1,888.8 L303.1,888.7 L304.1,888.6 L305.1,888.6 L306.1,888.5 L307.1,888.4 L308.1,888.3 L309.1,888.3 L310.1,888.2 L311.1,888.1 L312.1,888.1 L313.1,888.0 L314.1,887.9 L315.1,887.8 L316.1,887.8 L317.1,887.7 L318.1,887.6 L319.1,887.5 L320.1,887.4 L321.1,887.4 L322.1,887.3 L323.1,887.2 L324.1,887.2 L325.1,887.1 L326.1,887.0 L327.1,886.9 L328.1,886.9 L329.1,886.8 L330.1,886.7 L331.1,886.7 L332.1,886.6 L333.1,886.5 L334.1,886.4 L335.1,886.4 L336.1,886.3 L337.1,886.3 L338.1,886.2 L339.1,886.1 L340.1,886.1 L341.1,886.0 L342.1,885.9 L343.1,885.9 L344.1,885.8 L345.1,885.7 L346.1,885.7 L347.1,885.6 L348.1,885.6 L349.1,885.5 L350.1,885.4 L351.1,885.4 L352.1,885.3 L353.1,885.2 L354.1,885.2 L355.1,885.1 L356.1,885.0 L357.1,884.9 L358.1,884.9 L359.1,884.8 L360.1,884.7 L361.1,884.6 L362.1,884.5 L363.1,884.5 L364.1,884.4 L365.1,884.3 L366.1,884.2 L367.1,884.1 L368.1,884.0 L369.1,883.9 L370.1,883.8 L371.1,883.7 L372.1,883.6 L373.1,883.5 L374.1,883.4 L375.1,883.3 L376.1,883.2 L377.1,883.0 L378.1,882.8 L379.1,882.6 L380.1,882.4 L381.1,882.2 L382.1,881.9 L383.1,881.7 L384.1,881.5 L385.1,881.3 L386.1,881.1 L387.1,880.9 L388.1,880.7 L389.1,880.6 L390.1,880.5 L391.1,880.4 L392.1,880.4 L393.1,880.4 L394.1,880.5 L395.1,880.6 L396.1,880.7 L397.1,880.9 L398.1,881.1 L399.1,881.3 L400.1,881.5 L401.1,881.7 L402.1,881.9 L403.1,882.1 L404.1,882.3 L405.1,882.5 L406.1,882.7 L407.1,882.8 L408.1,883.0 L409.1,883.1 L410.1,883.1 L411.1,883.1 L412.1,883.1 L413.1,883.2 L414.1,883.2 L415.1,883.2 L416.1,883.2 L417.1,883.2 L418.1,883.2 L419.1,883.2 L420.1,883.2 L421.1,883.2 L422.1,883.2 L423.1,883.2 L424.1,883.2 L425.1,883.2 L426.1,883.2 L427.1,883.2 L428.1,883.2 L429.1,883.2 L430.1,883.2 L431.1,883.2 L432.1,883.2 L433.1,883.2 L434.1,883.2 L435.1,882.9 L436.1,882.6 L437.1,882.3 L438.1,881.9 L439.1,881.6 L440.1,881.3 L441.1,880.9 L442.1,880.5 L443.1,880.1 L444.1,879.7 L445.1,879.2 L446.1,878.8 L447.1,878.4 L448.1,878.0 L449.1,877.6 L450.1,877.2 L451.1,876.8 L452.1,876.4 L453.1,876.0 L454.1,875.6 L455.1,875.2 L456.1,874.8 L457.1,874.4 L458.1,874.0 L459.1,873.6 L460.1,873.2 L461.1,872.9 L462.1,872.5 L463.1,872.1 L464.1,871.7 L465.1,871.3 L466.1,870.9 L467.1,870.5 L468.1,870.1 L469.1,869.7 L470.1,869.3 L471.1,868.9 L472.1,868.5 L473.1,868.2 L474.1,867.8 L475.1,867.4 L476.1,867.1 L477.1,866.8 L478.1,866.4 L479.1,866.1 L480.1,865.8 L481.1,865.5 L482.1,865.2 L483.1,864.9 L484.1,864.6 L485.1,864.3 L486.1,864.0 L487.1,863.7 L488.1,863.4 L489.1,863.2 L490.1,862.9 L491.1,862.6 L492.1,862.3 L493.1,862.1 L494.1,861.8 L495.1,861.5 L496.1,861.3 L497.1,861.0 L498.1,860.8 L499.1,860.5 L500.1,860.3 L501.1,860.0 L502.1,859.8 L503.1,859.5 L504.1,859.3 L505.1,859.0 L506.1,858.8 L507.1,858.5 L508.1,858.3 L509.1,858.0 L510.1,857.8 L511.1,857.6 L512.1,857.3 L513.1,857.1 L514.1,856.9 L515.1,856.6 L516.1,856.4 L517.1,856.2 L518.1,855.9 L519.1,855.7 L520.1,855.5 L521.1,855.3 L522.1,855.1 L523.1,854.9 L524.1,854.7 L525.1,854.5 L526.1,854.2 L527.1,854.0 L528.1,853.8 L529.1,853.7 L530.1,853.5 L531.1,853.3 L532.1,853.1 L533.1,852.9 L534.1,852.7 L535.1,852.5 L536.1,852.4 L537.1,852.2 L538.1,852.0 L539.1,851.8 L540.1,851.7 L541.1,851.5 L542.1,851.4 L543.1,851.2 L544.1,851.0 L545.1,850.9 L546.1,850.7 L546.4,850.7" fill="none" stroke="#000" stroke-width="3.5" stroke-linecap="round" stroke-linejoin="round"/>
<rect x="87.50" y="637.40" width="331.80" height="33.80" fill="#fff" stroke="#000" stroke-width="1.7"/>
<text x="108.17" y="660.60" font-size="19.60" font-weight="normal" fill="#000" textLength="24.95" lengthAdjust="spacingAndGlyphs">(c)</text>
<text x="140.86" y="651.10" font-size="11.60" font-weight="normal" fill="#000" textLength="10.87" lengthAdjust="spacingAndGlyphs">13</text>
<text x="152.27" y="660.60" font-size="19.60" font-weight="normal" fill="#000" textLength="14.71" lengthAdjust="spacingAndGlyphs">C</text>
<text x="167.28" y="666.70" font-size="12.20" font-weight="normal" fill="#000" textLength="7.62" lengthAdjust="spacingAndGlyphs">3</text>
<text x="179.40" y="660.60" font-size="19.60" font-weight="normal" fill="#000" textLength="138.88" lengthAdjust="spacingAndGlyphs">EC, &lt; 20 ppm H</text>
<text x="316.73" y="667.50" font-size="12.20" font-weight="normal" fill="#000" textLength="6.35" lengthAdjust="spacingAndGlyphs">2</text>
<text x="322.33" y="660.60" font-size="19.60" font-weight="normal" fill="#000" textLength="79.06" lengthAdjust="spacingAndGlyphs">O, 40 °C</text>
<path d="M74.80,625.80 H614.90 M74.80,901.10 H614.90 M74.80,625.80 V813.50 M74.80,817.70 V901.10 M614.90,625.80 V813.50 M614.90,817.70 V901.10 M74.80,813.50 H79.60 M614.90,813.50 H610.10 M74.80,817.70 H79.60 M614.90,817.70 H610.10 M74.80,798.20 H83.80 M614.90,798.20 H605.90 M74.80,782.50 H79.60 M614.90,782.50 H610.10 M74.80,766.80 H83.80 M614.90,766.80 H605.90 M74.80,751.10 H79.60 M614.90,751.10 H610.10 M74.80,735.40 H83.80 M614.90,735.40 H605.90 M74.80,719.70 H79.60 M614.90,719.70 H610.10 M74.80,704.00 H83.80 M614.90,704.00 H605.90 M74.80,688.30 H79.60 M614.90,688.30 H610.10 M74.80,672.60 H83.80 M614.90,672.60 H605.90 M74.80,656.90 H79.60 M614.90,656.90 H610.10 M74.80,641.20 H83.80 M614.90,641.20 H605.90 M74.80,890.90 H83.80 M614.90,890.90 H605.90 M74.80,880.40 H79.60 M614.90,880.40 H610.10 M74.80,869.90 H83.80 M614.90,869.90 H605.90 M74.80,859.40 H79.60 M614.90,859.40 H610.10 M74.80,848.90 H83.80 M614.90,848.90 H605.90 M74.80,838.40 H79.60 M614.90,838.40 H610.10 M74.80,827.90 H83.80 M614.90,827.90 H605.90 M117.40,625.80 V635.30 M117.40,901.10 V892.60 M160.30,625.80 V630.80 M160.30,901.10 V896.60 M203.20,625.80 V635.30 M203.20,901.10 V892.60 M246.10,625.80 V630.80 M246.10,901.10 V896.60 M289.00,625.80 V635.30 M289.00,901.10 V892.60 M331.90,625.80 V630.80 M331.90,901.10 V896.60 M374.80,625.80 V635.30 M374.80,901.10 V892.60 M417.70,625.80 V630.80 M417.70,901.10 V896.60 M460.60,625.80 V635.30 M460.60,901.10 V892.60 M503.50,625.80 V630.80 M503.50,901.10 V896.60 M546.40,625.80 V635.30 M546.40,901.10 V892.60 M589.30,625.80 V630.80 M589.30,901.10 V896.60" stroke="#000" stroke-width="1.7" fill="none" stroke-linecap="square"/>
<text x="54.03" y="804.40" font-size="18.50" font-weight="normal" fill="#000" textLength="10.29" lengthAdjust="spacingAndGlyphs">0</text>
<text x="33.46" y="773.00" font-size="18.50" font-weight="normal" fill="#000" textLength="30.87" lengthAdjust="spacingAndGlyphs">100</text>
<text x="33.46" y="741.60" font-size="18.50" font-weight="normal" fill="#000" textLength="30.87" lengthAdjust="spacingAndGlyphs">200</text>
<text x="33.46" y="710.20" font-size="18.50" font-weight="normal" fill="#000" textLength="30.87" lengthAdjust="spacingAndGlyphs">300</text>
<text x="33.46" y="678.80" font-size="18.50" font-weight="normal" fill="#000" textLength="30.87" lengthAdjust="spacingAndGlyphs">400</text>
<text x="33.46" y="647.40" font-size="18.50" font-weight="normal" fill="#000" textLength="30.87" lengthAdjust="spacingAndGlyphs">500</text>
<text x="38.31" y="897.10" font-size="18.50" font-weight="normal" fill="#000" textLength="26.23" lengthAdjust="spacingAndGlyphs">0.0</text>
<text x="38.52" y="876.10" font-size="18.50" font-weight="normal" fill="#000" textLength="26.23" lengthAdjust="spacingAndGlyphs">0.2</text>
<text x="38.12" y="855.10" font-size="18.50" font-weight="normal" fill="#000" textLength="26.23" lengthAdjust="spacingAndGlyphs">0.4</text>
<text x="38.40" y="834.10" font-size="18.50" font-weight="normal" fill="#000" textLength="26.23" lengthAdjust="spacingAndGlyphs">0.6</text>
<text x="104.60" y="926.00" font-size="18.50" font-weight="normal" fill="#000" textLength="25.62" lengthAdjust="spacingAndGlyphs">3.0</text>
<text x="190.40" y="926.00" font-size="18.50" font-weight="normal" fill="#000" textLength="25.68" lengthAdjust="spacingAndGlyphs">3.5</text>
<text x="276.48" y="926.00" font-size="18.50" font-weight="normal" fill="#000" textLength="25.33" lengthAdjust="spacingAndGlyphs">4.0</text>
<text x="362.28" y="926.00" font-size="18.50" font-weight="normal" fill="#000" textLength="25.39" lengthAdjust="spacingAndGlyphs">4.5</text>
<text x="447.76" y="926.00" font-size="18.50" font-weight="normal" fill="#000" textLength="25.66" lengthAdjust="spacingAndGlyphs">5.0</text>
<text x="533.56" y="926.00" font-size="18.50" font-weight="normal" fill="#000" textLength="25.72" lengthAdjust="spacingAndGlyphs">5.5</text>
<text x="0" y="0" font-size="24.00" font-weight="normal" fill="#000" textLength="84.74" lengthAdjust="spacingAndGlyphs" transform="translate(22.80,746.60) rotate(-90)">c [ppm]</text>
<text x="0" y="0" font-size="24.00" font-weight="normal" fill="#000" textLength="105.50" lengthAdjust="spacingAndGlyphs" transform="translate(24.20,914.51) rotate(-90)">i [mA/cm</text>
<text x="0" y="0" font-size="14.50" font-weight="normal" fill="#000" textLength="10.01" lengthAdjust="spacingAndGlyphs" transform="translate(13.60,809.71) rotate(-90)">2</text>
<text x="0" y="0" font-size="24.00" font-weight="normal" fill="#000" textLength="6.99" lengthAdjust="spacingAndGlyphs" transform="translate(24.20,800.80) rotate(-90)">]</text>
<text x="549.51" y="680.73" font-size="13.18" font-weight="bold" fill="#4a22e0" textLength="14.44" lengthAdjust="spacingAndGlyphs" style="stroke:#4a22e0;stroke-width:0.25px">13</text>
<text x="564.84" y="691.64" font-size="21.89" font-weight="normal" fill="#4a22e0" textLength="35.75" lengthAdjust="spacingAndGlyphs" style="stroke:#4a22e0;stroke-width:1.1px">CO</text>
<text x="602.10" y="700.38" font-size="11.24" font-weight="bold" fill="#4a22e0" textLength="8.38" lengthAdjust="spacingAndGlyphs" style="stroke:#4a22e0;stroke-width:0.25px">2</text>
<text x="549.50" y="713.98" font-size="13.25" font-weight="bold" fill="#9b22e8" textLength="14.49" lengthAdjust="spacingAndGlyphs" style="stroke:#9b22e8;stroke-width:0.25px">12</text>
<text x="564.84" y="724.84" font-size="21.89" font-weight="normal" fill="#9b22e8" textLength="35.75" lengthAdjust="spacingAndGlyphs" style="stroke:#9b22e8;stroke-width:1.1px">CO</text>
<text x="602.10" y="733.77" font-size="11.53" font-weight="bold" fill="#9b22e8" textLength="8.37" lengthAdjust="spacingAndGlyphs" style="stroke:#9b22e8;stroke-width:0.25px">2</text>
<text x="549.50" y="758.98" font-size="12.39" font-weight="bold" fill="#cd6aec" textLength="14.49" lengthAdjust="spacingAndGlyphs" style="stroke:#cd6aec;stroke-width:0.25px">12</text>
<text x="564.82" y="769.84" font-size="21.89" font-weight="normal" fill="#cd6aec" textLength="36.39" lengthAdjust="spacingAndGlyphs" style="stroke:#cd6aec;stroke-width:1.1px">CO</text>
<text x="549.51" y="783.74" font-size="12.19" font-weight="bold" fill="#7f62e4" textLength="14.44" lengthAdjust="spacingAndGlyphs" style="stroke:#7f62e4;stroke-width:0.25px">13</text>
<text x="564.82" y="795.43" font-size="22.88" font-weight="normal" fill="#7f62e4" textLength="36.39" lengthAdjust="spacingAndGlyphs" style="stroke:#7f62e4;stroke-width:1.1px">CO</text>
<path d="M115.60,945.25 V1128.40 M115.60,1137.15 V1215.00 M158.65,945.25 V1128.40 M158.65,1137.15 V1215.00 M201.70,945.25 V1128.40 M201.70,1137.15 V1215.00 M244.75,945.25 V1128.40 M244.75,1137.15 V1215.00 M287.80,945.25 V1128.40 M287.80,1137.15 V1215.00 M330.85,945.25 V1128.40 M330.85,1137.15 V1215.00 M373.90,945.25 V1128.40 M373.90,1137.15 V1215.00 M416.95,945.25 V1128.40 M416.95,1137.15 V1215.00 M460.00,945.25 V1128.40 M460.00,1137.15 V1215.00 M503.05,945.25 V1128.40 M503.05,1137.15 V1215.00 M546.10,945.25 V1128.40 M546.10,1137.15 V1215.00 M589.15,945.25 V1128.40 M589.15,1137.15 V1215.00" stroke="#b4b4b4" stroke-width="1.7" stroke-dasharray="2.0 4.45" fill="none"/>
<path d="M72.40,1105.10 H614.10 M72.40,1205.80 H614.10" stroke="#c6c6c6" stroke-width="1.25" fill="none"/>
<path d="M137.1,1105.2 L138.1,1105.2 L139.1,1105.2 L140.1,1105.2 L141.1,1105.1 L142.1,1105.0 L143.1,1105.0 L144.1,1105.0 L145.1,1105.0 L146.1,1105.0 L147.1,1105.0 L148.1,1105.1 L149.1,1105.1 L150.1,1105.1 L151.1,1105.1 L152.1,1105.1 L153.1,1105.0 L154.1,1105.0 L155.1,1105.0 L156.1,1105.1 L157.1,1105.1 L158.1,1105.2 L159.1,1105.3 L160.1,1105.3 L161.1,1105.3 L162.1,1105.2 L163.1,1105.1 L164.1,1105.0 L165.1,1105.0 L166.1,1105.0 L167.1,1105.0 L168.1,1105.1 L169.1,1105.2 L170.1,1105.2 L171.1,1105.2 L172.1,1105.2 L173.1,1105.1 L174.1,1105.0 L175.1,1105.0 L176.1,1105.0 L177.1,1105.1 L178.1,1105.2 L179.1,1105.3 L180.1,1105.3 L181.1,1105.3 L182.1,1105.3 L183.1,1105.2 L184.1,1105.1 L185.1,1105.0 L186.1,1104.9 L187.1,1104.9 L188.1,1105.0 L189.1,1105.0 L190.1,1105.1 L191.1,1105.1 L192.1,1105.1 L193.1,1105.0 L194.1,1105.0 L195.1,1104.9 L196.1,1104.9 L197.1,1104.9 L198.1,1105.0 L199.1,1105.1 L200.1,1105.2 L201.1,1105.3 L202.1,1105.3 L203.1,1105.2 L204.1,1105.1 L205.1,1105.0 L206.1,1104.9 L207.1,1104.9 L208.1,1104.9 L209.1,1105.0 L210.1,1105.1 L211.1,1105.2 L212.1,1105.2 L213.1,1105.2 L214.1,1105.1 L215.1,1105.0 L216.1,1105.0 L217.1,1105.1 L218.1,1105.2 L219.1,1105.2 L220.1,1105.3 L221.1,1105.3 L222.1,1105.3 L223.1,1105.2 L224.1,1105.0 L225.1,1104.9 L226.1,1104.9 L227.1,1105.0 L228.1,1105.1 L229.1,1105.2 L230.1,1105.3 L231.1,1105.3 L232.1,1105.2 L233.1,1105.0 L234.1,1104.9 L235.1,1104.8 L236.1,1104.9 L237.1,1104.9 L238.1,1105.0 L239.1,1105.1 L240.1,1105.2 L241.1,1105.2 L242.1,1105.2 L243.1,1105.2 L244.1,1105.1 L245.1,1105.0 L246.1,1104.9 L247.1,1104.9 L248.1,1104.9 L249.1,1105.1 L250.1,1105.2 L251.1,1105.3 L252.1,1105.3 L253.1,1105.3 L254.1,1105.1 L255.1,1105.1 L256.1,1105.0 L257.1,1105.1 L258.1,1105.1 L259.1,1105.2 L260.1,1105.3 L261.1,1105.3 L262.1,1105.3 L263.1,1105.2 L264.1,1105.0 L265.1,1105.0 L266.1,1104.9 L267.1,1104.9 L268.1,1104.9 L269.1,1104.9 L270.1,1105.0 L271.1,1105.0 L272.1,1105.0 L273.1,1104.9 L274.1,1104.8 L275.1,1104.8 L276.1,1104.9 L277.1,1105.0 L278.1,1105.1 L279.1,1105.2 L280.1,1105.2 L281.1,1105.2 L282.1,1105.2 L283.1,1105.1 L284.1,1105.0 L285.1,1105.0 L286.1,1105.0 L287.1,1104.9 L288.1,1105.0 L289.1,1105.1 L290.1,1105.1 L291.1,1105.2 L292.1,1105.2 L293.1,1105.1 L294.1,1105.0 L295.1,1104.8 L296.1,1104.8 L297.1,1104.8 L298.1,1104.9 L299.1,1105.0 L300.1,1105.1 L301.1,1105.2 L302.1,1105.2 L303.1,1105.2 L304.1,1105.1 L305.1,1105.1 L306.1,1105.0 L307.1,1105.0 L308.1,1105.1 L309.1,1105.1 L310.1,1105.2 L311.1,1105.2 L312.1,1105.2 L313.1,1105.2 L314.1,1105.2 L315.1,1105.1 L316.1,1105.1 L317.1,1105.1 L318.1,1105.1 L319.1,1105.2 L320.1,1105.3 L321.1,1105.3 L322.1,1105.3 L323.1,1105.2 L324.1,1105.1 L325.1,1105.0 L326.1,1104.9 L327.1,1104.9 L328.1,1104.9 L329.1,1105.0 L330.1,1105.0 L331.1,1105.1 L332.1,1105.1 L333.1,1105.1 L334.1,1105.1 L335.1,1105.0 L336.1,1105.0 L337.1,1104.9 L338.1,1104.9 L339.1,1105.0 L340.1,1105.1 L341.1,1105.1 L342.1,1105.2 L343.1,1105.2 L344.1,1105.1 L345.1,1105.0 L346.1,1105.0 L347.1,1104.9 L348.1,1105.0 L349.1,1105.0 L350.1,1105.1 L351.1,1105.1 L352.1,1105.1 L353.1,1105.1 L354.1,1105.0 L355.1,1104.9 L356.1,1104.8 L357.1,1104.8 L358.1,1104.9 L359.1,1104.9 L360.1,1104.9 L361.1,1104.9 L362.1,1104.9 L363.1,1104.9 L364.1,1104.9 L365.1,1104.9 L366.1,1104.9 L367.1,1104.8 L368.1,1104.7 L369.1,1104.7 L370.1,1104.8 L371.1,1104.9 L372.1,1104.9 L373.1,1104.9 L374.1,1104.9 L375.1,1104.9 L376.1,1104.8 L377.1,1104.7 L378.1,1104.6 L379.1,1104.5 L380.1,1104.5 L381.1,1104.5 L382.1,1104.6 L383.1,1104.7 L384.1,1104.7 L385.1,1104.7 L386.1,1104.7 L387.1,1104.5 L388.1,1104.5 L389.1,1104.5 L390.1,1104.5 L391.1,1104.6 L392.1,1104.7 L393.1,1104.6 L394.1,1104.6 L395.1,1104.4 L396.1,1104.3 L397.1,1104.3 L398.1,1104.2 L399.1,1104.3 L400.1,1104.4 L401.1,1104.5 L402.1,1104.5 L403.1,1104.5 L404.1,1104.5 L405.1,1104.3 L406.1,1104.2 L407.1,1104.1 L408.1,1104.0 L409.1,1103.9 L410.1,1103.9 L411.1,1103.9 L412.1,1104.0 L413.1,1103.9 L414.1,1103.9 L415.1,1103.7 L416.1,1103.6 L417.1,1103.4 L418.1,1103.4 L419.1,1103.4 L420.1,1103.5 L421.1,1103.6 L422.1,1103.7 L423.1,1103.8 L424.1,1103.7 L425.1,1103.6 L426.1,1103.4 L427.1,1103.2 L428.1,1103.1 L429.1,1103.0 L430.1,1103.1 L431.1,1103.2 L432.1,1103.3 L433.1,1103.3 L434.1,1103.2 L435.1,1103.1 L436.1,1102.9 L437.1,1102.7 L438.1,1102.5 L439.1,1102.4 L440.1,1102.4 L441.1,1102.4 L442.1,1102.4 L443.1,1102.4 L444.1,1102.3 L445.1,1102.1 L446.1,1102.0 L447.1,1101.8 L448.1,1101.6 L449.1,1101.5 L450.1,1101.5 L451.1,1101.5 L452.1,1101.6 L453.1,1101.6 L454.1,1101.5 L455.1,1101.4 L456.1,1101.3 L457.1,1101.1 L458.1,1101.0 L459.1,1100.9 L460.1,1100.8 L461.1,1100.8 L462.1,1100.8 L463.1,1100.7 L464.1,1100.7 L465.1,1100.6 L466.1,1100.4 L467.1,1100.2 L468.1,1100.0 L469.1,1099.9 L470.1,1099.8 L471.1,1099.8 L472.1,1099.7 L473.1,1099.7 L474.1,1099.5 L475.1,1099.3 L476.1,1099.1 L477.1,1098.9 L478.1,1098.8 L479.1,1098.7 L480.1,1098.6 L481.1,1098.5 L482.1,1098.3 L483.1,1098.2 L484.1,1098.0 L485.1,1097.8 L486.1,1097.7 L487.1,1097.5 L488.1,1097.3 L489.1,1097.2 L490.1,1097.1 L491.1,1097.1 L492.1,1097.1 L493.1,1097.0 L494.1,1096.8 L495.1,1096.6 L496.1,1096.4 L497.1,1096.3 L498.1,1096.1 L499.1,1096.0 L500.1,1095.9 L501.1,1095.8 L502.1,1095.8 L503.1,1095.7 L504.1,1095.6 L505.1,1095.5 L506.1,1095.4 L507.1,1095.2 L508.1,1095.1 L509.1,1095.0 L510.1,1094.9 L511.1,1094.8 L512.1,1094.7 L513.1,1094.6 L514.1,1094.4 L515.1,1094.3 L516.1,1094.2 L517.1,1094.0 L518.1,1093.9 L519.1,1093.8 L520.1,1093.7 L521.1,1093.7 L522.1,1093.6 L523.1,1093.5 L524.1,1093.3 L525.1,1093.1 L526.1,1092.9 L527.1,1092.7 L528.1,1092.6 L529.1,1092.5 L530.1,1092.4 L531.1,1092.3 L532.1,1092.2 L533.1,1092.1 L534.1,1091.9 L535.1,1091.7 L536.1,1091.5 L537.1,1091.2 L538.1,1091.0 L539.1,1090.9 L540.1,1090.8 L541.1,1090.7 L542.1,1090.7 L543.1,1090.6 L544.1,1090.5 L545.1,1090.3 L546.1,1090.1" fill="none" stroke="#cd6aec" stroke-width="4.0" stroke-linecap="round" stroke-linejoin="round"/>
<path d="M137.1,1105.3 L138.1,1105.2 L139.1,1105.2 L140.1,1105.1 L141.1,1105.1 L142.1,1105.1 L143.1,1105.2 L144.1,1105.3 L145.1,1105.3 L146.1,1105.4 L147.1,1105.3 L148.1,1105.2 L149.1,1105.1 L150.1,1105.0 L151.1,1104.9 L152.1,1105.0 L153.1,1105.1 L154.1,1105.2 L155.1,1105.2 L156.1,1105.3 L157.1,1105.3 L158.1,1105.3 L159.1,1105.2 L160.1,1105.1 L161.1,1105.0 L162.1,1105.0 L163.1,1105.0 L164.1,1105.1 L165.1,1105.1 L166.1,1105.2 L167.1,1105.2 L168.1,1105.2 L169.1,1105.2 L170.1,1105.1 L171.1,1105.1 L172.1,1105.2 L173.1,1105.2 L174.1,1105.3 L175.1,1105.3 L176.1,1105.3 L177.1,1105.2 L178.1,1105.1 L179.1,1105.0 L180.1,1104.9 L181.1,1104.8 L182.1,1104.9 L183.1,1105.0 L184.1,1105.1 L185.1,1105.2 L186.1,1105.2 L187.1,1105.2 L188.1,1105.1 L189.1,1105.0 L190.1,1104.9 L191.1,1104.8 L192.1,1104.8 L193.1,1104.9 L194.1,1105.0 L195.1,1105.1 L196.1,1105.2 L197.1,1105.3 L198.1,1105.2 L199.1,1105.1 L200.1,1105.1 L201.1,1105.0 L202.1,1105.0 L203.1,1105.1 L204.1,1105.2 L205.1,1105.2 L206.1,1105.2 L207.1,1105.2 L208.1,1105.2 L209.1,1105.1 L210.1,1105.0 L211.1,1105.0 L212.1,1104.9 L213.1,1104.9 L214.1,1105.0 L215.1,1105.0 L216.1,1105.1 L217.1,1105.1 L218.1,1105.1 L219.1,1105.1 L220.1,1105.0 L221.1,1104.9 L222.1,1104.9 L223.1,1104.9 L224.1,1105.0 L225.1,1105.2 L226.1,1105.2 L227.1,1105.3 L228.1,1105.2 L229.1,1105.2 L230.1,1105.1 L231.1,1105.0 L232.1,1105.0 L233.1,1105.0 L234.1,1105.0 L235.1,1105.1 L236.1,1105.2 L237.1,1105.3 L238.1,1105.3 L239.1,1105.3 L240.1,1105.2 L241.1,1105.1 L242.1,1105.0 L243.1,1104.9 L244.1,1105.0 L245.1,1105.0 L246.1,1105.1 L247.1,1105.1 L248.1,1105.1 L249.1,1105.1 L250.1,1105.0 L251.1,1105.0 L252.1,1104.9 L253.1,1105.0 L254.1,1105.1 L255.1,1105.2 L256.1,1105.2 L257.1,1105.3 L258.1,1105.2 L259.1,1105.2 L260.1,1105.1 L261.1,1105.1 L262.1,1105.1 L263.1,1105.1 L264.1,1105.2 L265.1,1105.2 L266.1,1105.2 L267.1,1105.2 L268.1,1105.1 L269.1,1105.0 L270.1,1105.0 L271.1,1105.0 L272.1,1105.0 L273.1,1105.1 L274.1,1105.1 L275.1,1105.2 L276.1,1105.1 L277.1,1105.1 L278.1,1105.0 L279.1,1105.0 L280.1,1105.0 L281.1,1105.0 L282.1,1105.0 L283.1,1105.1 L284.1,1105.1 L285.1,1105.1 L286.1,1105.1 L287.1,1105.1 L288.1,1105.0 L289.1,1105.0 L290.1,1105.0 L291.1,1105.1 L292.1,1105.1 L293.1,1105.2 L294.1,1105.2 L295.1,1105.2 L296.1,1105.2 L297.1,1105.1 L298.1,1105.0 L299.1,1105.0 L300.1,1105.0 L301.1,1105.0 L302.1,1105.0 L303.1,1105.1 L304.1,1105.1 L305.1,1105.1 L306.1,1105.1 L307.1,1105.0 L308.1,1104.9 L309.1,1104.9 L310.1,1104.9 L311.1,1104.9 L312.1,1105.0 L313.1,1105.1 L314.1,1105.2 L315.1,1105.2 L316.1,1105.2 L317.1,1105.1 L318.1,1105.0 L319.1,1104.9 L320.1,1104.9 L321.1,1104.9 L322.1,1105.0 L323.1,1105.1 L324.1,1105.2 L325.1,1105.2 L326.1,1105.2 L327.1,1105.2 L328.1,1105.1 L329.1,1105.1 L330.1,1105.1 L331.1,1105.1 L332.1,1105.1 L333.1,1105.1 L334.1,1105.1 L335.1,1105.1 L336.1,1105.1 L337.1,1105.0 L338.1,1104.9 L339.1,1104.8 L340.1,1104.8 L341.1,1104.8 L342.1,1105.0 L343.1,1105.1 L344.1,1105.2 L345.1,1105.2 L346.1,1105.2 L347.1,1105.1 L348.1,1104.9 L349.1,1104.8 L350.1,1104.8 L351.1,1104.8 L352.1,1104.9 L353.1,1105.0 L354.1,1105.1 L355.1,1105.2 L356.1,1105.2 L357.1,1105.1 L358.1,1105.0 L359.1,1105.0 L360.1,1105.0 L361.1,1105.0 L362.1,1105.1 L363.1,1105.1 L364.1,1105.1 L365.1,1105.1 L366.1,1105.0 L367.1,1104.9 L368.1,1104.7 L369.1,1104.7 L370.1,1104.7 L371.1,1104.7 L372.1,1104.8 L373.1,1104.9 L374.1,1105.0 L375.1,1104.9 L376.1,1104.8 L377.1,1104.7 L378.1,1104.5 L379.1,1104.4 L380.1,1104.4 L381.1,1104.5 L382.1,1104.6 L383.1,1104.8 L384.1,1104.8 L385.1,1104.8 L386.1,1104.7 L387.1,1104.5 L388.1,1104.5 L389.1,1104.5 L390.1,1104.5 L391.1,1104.6 L392.1,1104.5 L393.1,1104.4 L394.1,1104.3 L395.1,1104.2 L396.1,1104.1 L397.1,1104.1 L398.1,1104.1 L399.1,1104.2 L400.1,1104.2 L401.1,1104.3 L402.1,1104.4 L403.1,1104.4 L404.1,1104.3 L405.1,1104.2 L406.1,1104.1 L407.1,1104.0 L408.1,1103.9 L409.1,1103.9 L410.1,1103.9 L411.1,1104.0 L412.1,1104.0 L413.1,1103.9 L414.1,1103.8 L415.1,1103.7 L416.1,1103.5 L417.1,1103.4 L418.1,1103.4 L419.1,1103.5 L420.1,1103.6 L421.1,1103.6 L422.1,1103.5 L423.1,1103.5 L424.1,1103.4 L425.1,1103.3 L426.1,1103.1 L427.1,1103.1 L428.1,1103.0 L429.1,1103.0 L430.1,1103.0 L431.1,1103.0 L432.1,1102.9 L433.1,1102.8 L434.1,1102.6 L435.1,1102.5 L436.1,1102.4 L437.1,1102.4 L438.1,1102.4 L439.1,1102.4 L440.1,1102.4 L441.1,1102.3 L442.1,1102.2 L443.1,1102.1 L444.1,1101.9 L445.1,1101.8 L446.1,1101.8 L447.1,1101.8 L448.1,1101.7 L449.1,1101.7 L450.1,1101.6 L451.1,1101.6 L452.1,1101.4 L453.1,1101.3 L454.1,1101.2 L455.1,1101.1 L456.1,1101.0 L457.1,1100.9 L458.1,1100.9 L459.1,1100.9 L460.1,1100.8 L461.1,1100.7 L462.1,1100.6 L463.1,1100.5 L464.1,1100.3 L465.1,1100.2 L466.1,1100.1 L467.1,1100.0 L468.1,1099.9 L469.1,1099.9 L470.1,1099.8 L471.1,1099.6 L472.1,1099.5 L473.1,1099.3 L474.1,1099.2 L475.1,1099.1 L476.1,1099.0 L477.1,1098.9 L478.1,1098.8 L479.1,1098.7 L480.1,1098.6 L481.1,1098.5 L482.1,1098.4 L483.1,1098.2 L484.1,1098.1 L485.1,1098.0 L486.1,1097.8 L487.1,1097.7 L488.1,1097.6 L489.1,1097.5 L490.1,1097.3 L491.1,1097.1 L492.1,1096.9 L493.1,1096.6 L494.1,1096.4 L495.1,1096.2 L496.1,1096.1 L497.1,1096.0 L498.1,1096.0 L499.1,1095.9 L500.1,1095.7 L501.1,1095.6 L502.1,1095.4 L503.1,1095.1 L504.1,1094.9 L505.1,1094.7 L506.1,1094.5 L507.1,1094.3 L508.1,1094.1 L509.1,1093.9 L510.1,1093.7 L511.1,1093.4 L512.1,1093.0 L513.1,1092.6 L514.1,1092.3 L515.1,1092.0 L516.1,1091.9 L517.1,1091.7 L518.1,1091.5 L519.1,1091.3 L520.1,1091.1 L521.1,1090.8 L522.1,1090.4 L523.1,1090.1 L524.1,1089.7 L525.1,1089.4 L526.1,1089.2 L527.1,1089.0 L528.1,1088.8 L529.1,1088.6 L530.1,1088.3 L531.1,1088.0 L532.1,1087.6 L533.1,1087.3 L534.1,1087.0 L535.1,1086.7 L536.1,1086.5 L537.1,1086.3 L538.1,1086.2 L539.1,1086.0 L540.1,1085.7 L541.1,1085.4 L542.1,1085.0 L543.1,1084.6 L544.1,1084.3 L545.1,1084.0 L546.1,1083.8" fill="none" stroke="#7f62e4" stroke-width="4.0" stroke-linecap="round" stroke-linejoin="round"/>
<path d="M137.1,1105.0 L138.1,1104.9 L139.1,1104.9 L140.1,1104.9 L141.1,1105.0 L142.1,1105.1 L143.1,1105.1 L144.1,1105.2 L145.1,1105.2 L146.1,1105.1 L147.1,1105.1 L148.1,1105.0 L149.1,1105.0 L150.1,1105.1 L151.1,1105.1 L152.1,1105.2 L153.1,1105.2 L154.1,1105.3 L155.1,1105.2 L156.1,1105.2 L157.1,1105.1 L158.1,1105.1 L159.1,1105.1 L160.1,1105.1 L161.1,1105.1 L162.1,1105.1 L163.1,1105.1 L164.1,1105.1 L165.1,1105.0 L166.1,1104.9 L167.1,1104.9 L168.1,1104.9 L169.1,1105.0 L170.1,1105.1 L171.1,1105.2 L172.1,1105.3 L173.1,1105.3 L174.1,1105.2 L175.1,1105.2 L176.1,1105.1 L177.1,1105.0 L178.1,1105.0 L179.1,1105.0 L180.1,1105.1 L181.1,1105.1 L182.1,1105.2 L183.1,1105.2 L184.1,1105.2 L185.1,1105.1 L186.1,1105.0 L187.1,1105.0 L188.1,1105.0 L189.1,1105.1 L190.1,1105.3 L191.1,1105.4 L192.1,1105.4 L193.1,1105.4 L194.1,1105.3 L195.1,1105.1 L196.1,1105.0 L197.1,1104.9 L198.1,1104.9 L199.1,1105.0 L200.1,1105.2 L201.1,1105.3 L202.1,1105.3 L203.1,1105.2 L204.1,1105.1 L205.1,1105.0 L206.1,1105.0 L207.1,1105.0 L208.1,1105.1 L209.1,1105.2 L210.1,1105.3 L211.1,1105.4 L212.1,1105.4 L213.1,1105.3 L214.1,1105.2 L215.1,1105.1 L216.1,1104.9 L217.1,1104.8 L218.1,1104.9 L219.1,1105.0 L220.1,1105.2 L221.1,1105.4 L222.1,1105.5 L223.1,1105.5 L224.1,1105.3 L225.1,1105.2 L226.1,1105.0 L227.1,1104.9 L228.1,1104.9 L229.1,1105.0 L230.1,1105.1 L231.1,1105.2 L232.1,1105.3 L233.1,1105.2 L234.1,1105.1 L235.1,1105.0 L236.1,1104.9 L237.1,1104.9 L238.1,1105.0 L239.1,1105.1 L240.1,1105.2 L241.1,1105.2 L242.1,1105.2 L243.1,1105.0 L244.1,1104.9 L245.1,1104.8 L246.1,1104.8 L247.1,1104.8 L248.1,1105.0 L249.1,1105.2 L250.1,1105.3 L251.1,1105.3 L252.1,1105.3 L253.1,1105.2 L254.1,1105.1 L255.1,1105.0 L256.1,1105.1 L257.1,1105.2 L258.1,1105.3 L259.1,1105.4 L260.1,1105.4 L261.1,1105.4 L262.1,1105.3 L263.1,1105.2 L264.1,1105.2 L265.1,1105.1 L266.1,1105.1 L267.1,1105.1 L268.1,1105.2 L269.1,1105.3 L270.1,1105.4 L271.1,1105.4 L272.1,1105.3 L273.1,1105.2 L274.1,1105.1 L275.1,1105.0 L276.1,1105.0 L277.1,1105.0 L278.1,1105.1 L279.1,1105.2 L280.1,1105.2 L281.1,1105.2 L282.1,1105.1 L283.1,1105.1 L284.1,1105.0 L285.1,1105.0 L286.1,1105.1 L287.1,1105.1 L288.1,1105.2 L289.1,1105.3 L290.1,1105.3 L291.1,1105.3 L292.1,1105.2 L293.1,1105.1 L294.1,1105.0 L295.1,1105.0 L296.1,1105.1 L297.1,1105.1 L298.1,1105.2 L299.1,1105.2 L300.1,1105.2 L301.1,1105.1 L302.1,1105.1 L303.1,1105.1 L304.1,1105.1 L305.1,1105.2 L306.1,1105.2 L307.1,1105.2 L308.1,1105.2 L309.1,1105.2 L310.1,1105.1 L311.1,1105.0 L312.1,1105.0 L313.1,1105.0 L314.1,1105.0 L315.1,1105.1 L316.1,1105.1 L317.1,1105.1 L318.1,1105.1 L319.1,1105.0 L320.1,1105.0 L321.1,1105.0 L322.1,1105.0 L323.1,1105.0 L324.1,1105.1 L325.1,1105.1 L326.1,1105.2 L327.1,1105.1 L328.1,1105.1 L329.1,1105.1 L330.1,1105.1 L331.1,1105.0 L332.1,1105.0 L333.1,1105.0 L334.1,1105.0 L335.1,1105.1 L336.1,1105.1 L337.1,1105.1 L338.1,1105.1 L339.1,1105.0 L340.1,1104.9 L341.1,1104.9 L342.1,1104.8 L343.1,1104.8 L344.1,1104.8 L345.1,1104.8 L346.1,1104.9 L347.1,1104.9 L348.1,1104.9 L349.1,1104.9 L350.1,1104.8 L351.1,1104.7 L352.1,1104.7 L353.1,1104.7 L354.1,1104.8 L355.1,1104.9 L356.1,1104.9 L357.1,1104.9 L358.1,1104.8 L359.1,1104.7 L360.1,1104.6 L361.1,1104.5 L362.1,1104.4 L363.1,1104.5 L364.1,1104.5 L365.1,1104.5 L366.1,1104.5 L367.1,1104.5 L368.1,1104.4 L369.1,1104.3 L370.1,1104.1 L371.1,1104.1 L372.1,1104.1 L373.1,1104.2 L374.1,1104.2 L375.1,1104.3 L376.1,1104.3 L377.1,1104.1 L378.1,1103.9 L379.1,1103.6 L380.1,1103.4 L381.1,1103.3 L382.1,1103.3 L383.1,1103.3 L384.1,1103.4 L385.1,1103.3 L386.1,1103.1 L387.1,1102.9 L388.1,1102.8 L389.1,1102.7 L390.1,1102.6 L391.1,1102.5 L392.1,1102.5 L393.1,1102.5 L394.1,1102.4 L395.1,1102.4 L396.1,1102.3 L397.1,1102.1 L398.1,1101.9 L399.1,1101.7 L400.1,1101.6 L401.1,1101.6 L402.1,1101.5 L403.1,1101.5 L404.1,1101.4 L405.1,1101.2 L406.1,1101.0 L407.1,1100.8 L408.1,1100.5 L409.1,1100.2 L410.1,1100.0 L411.1,1099.8 L412.1,1099.8 L413.1,1099.7 L414.1,1099.6 L415.1,1099.4 L416.1,1099.2 L417.1,1099.0 L418.1,1098.8 L419.1,1098.6 L420.1,1098.6 L421.1,1098.5 L422.1,1098.4 L423.1,1098.3 L424.1,1098.2 L425.1,1098.0 L426.1,1097.7 L427.1,1097.4 L428.1,1097.1 L429.1,1096.8 L430.1,1096.5 L431.1,1096.4 L432.1,1096.4 L433.1,1096.3 L434.1,1096.2 L435.1,1096.0 L436.1,1095.7 L437.1,1095.4 L438.1,1095.2 L439.1,1094.9 L440.1,1094.8 L441.1,1094.7 L442.1,1094.6 L443.1,1094.5 L444.1,1094.3 L445.1,1094.0 L446.1,1093.6 L447.1,1093.2 L448.1,1092.9 L449.1,1092.6 L450.1,1092.4 L451.1,1092.2 L452.1,1092.0 L453.1,1091.8 L454.1,1091.6 L455.1,1091.3 L456.1,1091.0 L457.1,1090.7 L458.1,1090.4 L459.1,1090.2 L460.1,1090.0 L461.1,1089.7 L462.1,1089.5 L463.1,1089.2 L464.1,1088.9 L465.1,1088.6 L466.1,1088.3 L467.1,1088.0 L468.1,1087.8 L469.1,1087.5 L470.1,1087.3 L471.1,1087.1 L472.1,1086.8 L473.1,1086.5 L474.1,1086.2 L475.1,1085.8 L476.1,1085.5 L477.1,1085.3 L478.1,1085.1 L479.1,1084.9 L480.1,1084.7 L481.1,1084.5 L482.1,1084.2 L483.1,1083.9 L484.1,1083.6 L485.1,1083.2 L486.1,1082.9 L487.1,1082.6 L488.1,1082.3 L489.1,1082.0 L490.1,1081.8 L491.1,1081.5 L492.1,1081.2 L493.1,1080.9 L494.1,1080.6 L495.1,1080.2 L496.1,1079.9 L497.1,1079.6 L498.1,1079.4 L499.1,1079.2 L500.1,1079.0 L501.1,1078.7 L502.1,1078.3 L503.1,1078.0 L504.1,1077.6 L505.1,1077.3 L506.1,1076.9 L507.1,1076.6 L508.1,1076.3 L509.1,1076.1 L510.1,1075.8 L511.1,1075.5 L512.1,1075.1 L513.1,1074.8 L514.1,1074.4 L515.1,1074.0 L516.1,1073.7 L517.1,1073.3 L518.1,1073.1 L519.1,1072.9 L520.1,1072.7 L521.1,1072.4 L522.1,1072.1 L523.1,1071.8 L524.1,1071.5 L525.1,1071.1 L526.1,1070.8 L527.1,1070.6 L528.1,1070.3 L529.1,1070.1 L530.1,1069.9 L531.1,1069.7 L532.1,1069.5 L533.1,1069.3 L534.1,1069.0 L535.1,1068.8 L536.1,1068.5 L537.1,1068.2 L538.1,1068.0 L539.1,1067.9 L540.1,1067.7 L541.1,1067.7 L542.1,1067.5 L543.1,1067.3 L544.1,1067.1 L545.1,1066.8 L546.1,1066.5" fill="none" stroke="#9b22e8" stroke-width="4.0" stroke-linecap="round" stroke-linejoin="round"/>
<path d="M137.1,1105.0 L138.1,1104.9 L139.1,1104.9 L140.1,1105.0 L141.1,1105.0 L142.1,1105.1 L143.1,1105.2 L144.1,1105.2 L145.1,1105.2 L146.1,1105.2 L147.1,1105.1 L148.1,1105.0 L149.1,1105.0 L150.1,1105.0 L151.1,1105.1 L152.1,1105.2 L153.1,1105.3 L154.1,1105.3 L155.1,1105.2 L156.1,1105.1 L157.1,1105.0 L158.1,1104.9 L159.1,1104.9 L160.1,1105.0 L161.1,1105.1 L162.1,1105.3 L163.1,1105.3 L164.1,1105.4 L165.1,1105.3 L166.1,1105.2 L167.1,1105.0 L168.1,1105.0 L169.1,1104.9 L170.1,1105.0 L171.1,1105.1 L172.1,1105.2 L173.1,1105.2 L174.1,1105.2 L175.1,1105.2 L176.1,1105.1 L177.1,1105.0 L178.1,1104.9 L179.1,1105.0 L180.1,1105.1 L181.1,1105.1 L182.1,1105.2 L183.1,1105.2 L184.1,1105.2 L185.1,1105.1 L186.1,1105.0 L187.1,1104.9 L188.1,1104.9 L189.1,1104.9 L190.1,1105.0 L191.1,1105.1 L192.1,1105.2 L193.1,1105.3 L194.1,1105.3 L195.1,1105.3 L196.1,1105.1 L197.1,1105.0 L198.1,1104.9 L199.1,1104.9 L200.1,1104.9 L201.1,1105.1 L202.1,1105.3 L203.1,1105.4 L204.1,1105.4 L205.1,1105.2 L206.1,1105.1 L207.1,1105.0 L208.1,1105.0 L209.1,1105.0 L210.1,1105.1 L211.1,1105.2 L212.1,1105.4 L213.1,1105.4 L214.1,1105.4 L215.1,1105.3 L216.1,1105.2 L217.1,1105.1 L218.1,1105.0 L219.1,1105.0 L220.1,1105.1 L221.1,1105.1 L222.1,1105.2 L223.1,1105.2 L224.1,1105.2 L225.1,1105.2 L226.1,1105.1 L227.1,1105.1 L228.1,1105.1 L229.1,1105.0 L230.1,1105.0 L231.1,1105.0 L232.1,1105.0 L233.1,1105.0 L234.1,1105.0 L235.1,1105.1 L236.1,1105.0 L237.1,1105.0 L238.1,1104.9 L239.1,1104.9 L240.1,1104.8 L241.1,1104.9 L242.1,1104.9 L243.1,1105.1 L244.1,1105.2 L245.1,1105.2 L246.1,1105.3 L247.1,1105.3 L248.1,1105.2 L249.1,1105.1 L250.1,1105.0 L251.1,1105.0 L252.1,1105.0 L253.1,1105.0 L254.1,1105.1 L255.1,1105.1 L256.1,1105.2 L257.1,1105.1 L258.1,1105.1 L259.1,1105.0 L260.1,1105.0 L261.1,1105.0 L262.1,1105.0 L263.1,1105.1 L264.1,1105.1 L265.1,1105.2 L266.1,1105.1 L267.1,1105.1 L268.1,1105.1 L269.1,1105.0 L270.1,1105.0 L271.1,1105.0 L272.1,1105.1 L273.1,1105.1 L274.1,1105.2 L275.1,1105.2 L276.1,1105.2 L277.1,1105.1 L278.1,1105.0 L279.1,1105.0 L280.1,1104.9 L281.1,1104.9 L282.1,1105.0 L283.1,1105.1 L284.1,1105.1 L285.1,1105.2 L286.1,1105.2 L287.1,1105.2 L288.1,1105.1 L289.1,1105.1 L290.1,1105.0 L291.1,1105.0 L292.1,1105.0 L293.1,1105.1 L294.1,1105.1 L295.1,1105.2 L296.1,1105.2 L297.1,1105.2 L298.1,1105.1 L299.1,1105.0 L300.1,1105.0 L301.1,1105.0 L302.1,1105.0 L303.1,1105.1 L304.1,1105.1 L305.1,1105.2 L306.1,1105.2 L307.1,1105.2 L308.1,1105.2 L309.1,1105.2 L310.1,1105.1 L311.1,1105.1 L312.1,1105.0 L313.1,1105.0 L314.1,1105.0 L315.1,1105.1 L316.1,1105.1 L317.1,1105.1 L318.1,1105.1 L319.1,1105.1 L320.1,1105.0 L321.1,1105.0 L322.1,1104.9 L323.1,1105.0 L324.1,1105.0 L325.1,1105.1 L326.1,1105.1 L327.1,1105.2 L328.1,1105.1 L329.1,1105.0 L330.1,1105.0 L331.1,1104.9 L332.1,1105.0 L333.1,1105.0 L334.1,1105.1 L335.1,1105.2 L336.1,1105.2 L337.1,1105.1 L338.1,1105.1 L339.1,1104.9 L340.1,1104.9 L341.1,1104.8 L342.1,1104.8 L343.1,1104.8 L344.1,1104.8 L345.1,1104.8 L346.1,1104.8 L347.1,1104.6 L348.1,1104.5 L349.1,1104.4 L350.1,1104.2 L351.1,1104.1 L352.1,1104.1 L353.1,1104.2 L354.1,1104.2 L355.1,1104.2 L356.1,1104.1 L357.1,1104.0 L358.1,1103.9 L359.1,1103.7 L360.1,1103.6 L361.1,1103.5 L362.1,1103.4 L363.1,1103.4 L364.1,1103.3 L365.1,1103.3 L366.1,1103.2 L367.1,1103.0 L368.1,1102.8 L369.1,1102.6 L370.1,1102.3 L371.1,1102.1 L372.1,1101.9 L373.1,1101.8 L374.1,1101.8 L375.1,1101.7 L376.1,1101.7 L377.1,1101.6 L378.1,1101.4 L379.1,1101.2 L380.1,1101.0 L381.1,1100.8 L382.1,1100.7 L383.1,1100.6 L384.1,1100.6 L385.1,1100.5 L386.1,1100.4 L387.1,1100.2 L388.1,1100.0 L389.1,1099.8 L390.1,1099.6 L391.1,1099.4 L392.1,1099.3 L393.1,1099.2 L394.1,1099.1 L395.1,1099.0 L396.1,1098.8 L397.1,1098.6 L398.1,1098.2 L399.1,1097.9 L400.1,1097.6 L401.1,1097.3 L402.1,1097.1 L403.1,1096.9 L404.1,1096.8 L405.1,1096.7 L406.1,1096.5 L407.1,1096.4 L408.1,1096.1 L409.1,1095.9 L410.1,1095.6 L411.1,1095.3 L412.1,1094.9 L413.1,1094.6 L414.1,1094.4 L415.1,1094.1 L416.1,1093.8 L417.1,1093.5 L418.1,1093.2 L419.1,1092.8 L420.1,1092.3 L421.1,1091.8 L422.1,1091.3 L423.1,1090.8 L424.1,1090.4 L425.1,1090.0 L426.1,1089.5 L427.1,1089.0 L428.1,1088.5 L429.1,1088.0 L430.1,1087.5 L431.1,1087.0 L432.1,1086.5 L433.1,1086.1 L434.1,1085.8 L435.1,1085.3 L436.1,1084.9 L437.1,1084.4 L438.1,1083.8 L439.1,1083.2 L440.1,1082.6 L441.1,1082.0 L442.1,1081.4 L443.1,1080.9 L444.1,1080.3 L445.1,1079.8 L446.1,1079.2 L447.1,1078.6 L448.1,1077.9 L449.1,1077.1 L450.1,1076.3 L451.1,1075.6 L452.1,1074.9 L453.1,1074.2 L454.1,1073.5 L455.1,1072.9 L456.1,1072.3 L457.1,1071.6 L458.1,1070.8 L459.1,1070.0 L460.1,1069.2 L461.1,1068.3 L462.1,1067.3 L463.1,1066.4 L464.1,1065.5 L465.1,1064.6 L466.1,1063.6 L467.1,1062.7 L468.1,1061.7 L469.1,1060.6 L470.1,1059.5 L471.1,1058.5 L472.1,1057.5 L473.1,1056.5 L474.1,1055.5 L475.1,1054.6 L476.1,1053.6 L477.1,1052.6 L478.1,1051.6 L479.1,1050.5 L480.1,1049.4 L481.1,1048.3 L482.1,1047.2 L483.1,1046.2 L484.1,1045.2 L485.1,1044.2 L486.1,1043.1 L487.1,1042.0 L488.1,1040.8 L489.1,1039.6 L490.1,1038.5 L491.1,1037.3 L492.1,1036.2 L493.1,1035.0 L494.1,1033.8 L495.1,1032.6 L496.1,1031.3 L497.1,1030.0 L498.1,1028.7 L499.1,1027.4 L500.1,1026.1 L501.1,1024.8 L502.1,1023.5 L503.1,1022.3 L504.1,1021.0 L505.1,1019.8 L506.1,1018.5 L507.1,1017.1 L508.1,1015.8 L509.1,1014.4 L510.1,1013.1 L511.1,1011.8 L512.1,1010.5 L513.1,1009.3 L514.1,1008.2 L515.1,1007.0 L516.1,1005.7 L517.1,1004.4 L518.1,1003.1 L519.1,1001.7 L520.1,1000.4 L521.1,999.2 L522.1,998.0 L523.1,996.8 L524.1,995.5 L525.1,994.3 L526.1,993.0 L527.1,991.7 L528.1,990.3 L529.1,989.0 L530.1,987.6 L531.1,986.4 L532.1,985.1 L533.1,983.9 L534.1,982.7 L535.1,981.4 L536.1,980.1 L537.1,978.7 L538.1,977.2 L539.1,975.8 L540.1,974.4 L541.1,973.1 L542.1,971.8 L543.1,970.6 L544.1,969.3 L545.1,968.0 L546.1,966.7" fill="none" stroke="#4a22e0" stroke-width="4.0" stroke-linecap="round" stroke-linejoin="round"/>
<path d="M137.6,1205.8 L138.6,1205.8 L139.6,1205.8 L140.6,1205.8 L141.6,1205.8 L142.6,1205.8 L143.6,1205.8 L144.6,1205.8 L145.6,1205.8 L146.6,1205.8 L147.6,1205.8 L148.6,1205.8 L149.6,1205.8 L150.6,1205.8 L151.6,1205.8 L152.6,1205.8 L153.6,1205.8 L154.6,1205.8 L155.6,1205.8 L156.6,1205.8 L157.6,1205.8 L158.6,1205.8 L159.6,1205.8 L160.6,1205.8 L161.6,1205.8 L162.6,1205.8 L163.6,1205.8 L164.6,1205.7 L165.6,1205.7 L166.6,1205.7 L167.6,1205.7 L168.6,1205.7 L169.6,1205.7 L170.6,1205.7 L171.6,1205.7 L172.6,1205.7 L173.6,1205.7 L174.6,1205.7 L175.6,1205.7 L176.6,1205.7 L177.6,1205.7 L178.6,1205.7 L179.6,1205.7 L180.6,1205.7 L181.6,1205.7 L182.6,1205.7 L183.6,1205.7 L184.6,1205.7 L185.6,1205.7 L186.6,1205.6 L187.6,1205.6 L188.6,1205.6 L189.6,1205.6 L190.6,1205.6 L191.6,1205.6 L192.6,1205.6 L193.6,1205.6 L194.6,1205.6 L195.6,1205.6 L196.6,1205.6 L197.6,1205.6 L198.6,1205.6 L199.6,1205.6 L200.6,1205.6 L201.6,1205.5 L202.6,1205.5 L203.6,1205.5 L204.6,1205.5 L205.6,1205.5 L206.6,1205.5 L207.6,1205.5 L208.6,1205.5 L209.6,1205.5 L210.6,1205.5 L211.6,1205.5 L212.6,1205.5 L213.6,1205.5 L214.6,1205.4 L215.6,1205.4 L216.6,1205.4 L217.6,1205.4 L218.6,1205.4 L219.6,1205.4 L220.6,1205.4 L221.6,1205.4 L222.6,1205.4 L223.6,1205.4 L224.6,1205.4 L225.6,1205.4 L226.6,1205.3 L227.6,1205.3 L228.6,1205.3 L229.6,1205.3 L230.6,1205.3 L231.6,1205.3 L232.6,1205.3 L233.6,1205.3 L234.6,1205.3 L235.6,1205.3 L236.6,1205.3 L237.6,1205.2 L238.6,1205.2 L239.6,1205.2 L240.6,1205.2 L241.6,1205.2 L242.6,1205.2 L243.6,1205.2 L244.6,1205.2 L245.6,1205.2 L246.6,1205.2 L247.6,1205.2 L248.6,1205.1 L249.6,1205.1 L250.6,1205.1 L251.6,1205.1 L252.6,1205.1 L253.6,1205.1 L254.6,1205.1 L255.6,1205.1 L256.6,1205.1 L257.6,1205.1 L258.6,1205.0 L259.6,1205.0 L260.6,1205.0 L261.6,1205.0 L262.6,1205.0 L263.6,1205.0 L264.6,1205.0 L265.6,1205.0 L266.6,1205.0 L267.6,1204.9 L268.6,1204.9 L269.6,1204.9 L270.6,1204.9 L271.6,1204.9 L272.6,1204.9 L273.6,1204.9 L274.6,1204.9 L275.6,1204.8 L276.6,1204.8 L277.6,1204.8 L278.6,1204.8 L279.6,1204.8 L280.6,1204.8 L281.6,1204.7 L282.6,1204.7 L283.6,1204.7 L284.6,1204.7 L285.6,1204.7 L286.6,1204.7 L287.6,1204.6 L288.6,1204.6 L289.6,1204.6 L290.6,1204.6 L291.6,1204.6 L292.6,1204.6 L293.6,1204.5 L294.6,1204.5 L295.6,1204.5 L296.6,1204.5 L297.6,1204.5 L298.6,1204.4 L299.6,1204.4 L300.6,1204.4 L301.6,1204.4 L302.6,1204.4 L303.6,1204.3 L304.6,1204.3 L305.6,1204.3 L306.6,1204.3 L307.6,1204.2 L308.6,1204.2 L309.6,1204.2 L310.6,1204.2 L311.6,1204.2 L312.6,1204.1 L313.6,1204.1 L314.6,1204.1 L315.6,1204.1 L316.6,1204.0 L317.6,1204.0 L318.6,1204.0 L319.6,1203.9 L320.6,1203.9 L321.6,1203.9 L322.6,1203.9 L323.6,1203.8 L324.6,1203.8 L325.6,1203.8 L326.6,1203.8 L327.6,1203.7 L328.6,1203.7 L329.6,1203.7 L330.6,1203.6 L331.6,1203.6 L332.6,1203.6 L333.6,1203.5 L334.6,1203.5 L335.6,1203.5 L336.6,1203.4 L337.6,1203.4 L338.6,1203.4 L339.6,1203.3 L340.6,1203.3 L341.6,1203.3 L342.6,1203.2 L343.6,1203.1 L344.6,1203.1 L345.6,1203.0 L346.6,1202.9 L347.6,1202.8 L348.6,1202.8 L349.6,1202.7 L350.6,1202.6 L351.6,1202.5 L352.6,1202.4 L353.6,1202.3 L354.6,1202.2 L355.6,1202.2 L356.6,1202.1 L357.6,1202.0 L358.6,1202.0 L359.6,1201.9 L360.6,1201.9 L361.6,1201.8 L362.6,1201.8 L363.6,1201.8 L364.6,1201.7 L365.6,1201.7 L366.6,1201.7 L367.6,1201.8 L368.6,1201.8 L369.6,1201.8 L370.6,1201.8 L371.6,1201.9 L372.6,1201.9 L373.6,1201.9 L374.6,1202.0 L375.6,1202.0 L376.6,1202.0 L377.6,1202.1 L378.6,1202.1 L379.6,1202.1 L380.6,1202.1 L381.6,1202.1 L382.6,1202.1 L383.6,1202.1 L384.6,1202.1 L385.6,1202.0 L386.6,1202.0 L387.6,1202.0 L388.6,1202.0 L389.6,1201.9 L390.6,1201.9 L391.6,1201.9 L392.6,1201.8 L393.6,1201.8 L394.6,1201.8 L395.6,1201.7 L396.6,1201.7 L397.6,1201.6 L398.6,1201.6 L399.6,1201.5 L400.6,1201.5 L401.6,1201.4 L402.6,1201.4 L403.6,1201.3 L404.6,1201.3 L405.6,1201.2 L406.6,1201.1 L407.6,1201.1 L408.6,1201.0 L409.6,1200.9 L410.6,1200.9 L411.6,1200.8 L412.6,1200.7 L413.6,1200.7 L414.6,1200.6 L415.6,1200.5 L416.6,1200.4 L417.6,1200.4 L418.6,1200.3 L419.6,1200.2 L420.6,1200.1 L421.6,1200.0 L422.6,1199.9 L423.6,1199.7 L424.6,1199.6 L425.6,1199.4 L426.6,1199.3 L427.6,1199.1 L428.6,1198.9 L429.6,1198.7 L430.6,1198.4 L431.6,1198.0 L432.6,1197.6 L433.6,1197.1 L434.6,1196.5 L435.6,1195.4 L436.6,1194.2 L437.6,1192.8 L438.6,1191.3 L439.6,1190.0 L440.6,1188.6 L441.6,1187.2 L442.6,1185.7 L443.6,1184.3 L444.6,1182.8 L445.6,1181.3 L446.6,1179.8 L447.6,1178.4 L448.6,1177.0 L449.6,1175.5 L450.6,1174.1 L451.6,1172.7 L452.6,1171.4 L453.6,1170.1 L454.6,1168.9 L455.6,1167.8 L456.6,1166.6 L457.6,1165.5 L458.6,1164.5 L459.6,1163.4 L460.6,1162.4 L461.6,1161.5 L462.6,1160.6 L463.6,1159.8 L464.6,1159.1 L465.6,1158.4 L466.6,1157.8 L467.6,1157.3 L468.6,1156.8 L469.6,1156.3 L470.6,1155.9 L471.6,1155.5 L472.6,1155.2 L473.6,1154.8 L474.6,1154.5 L475.6,1154.2 L476.6,1153.9 L477.6,1153.6 L478.6,1153.3 L479.6,1153.1 L480.6,1152.8 L481.6,1152.6 L482.6,1152.3 L483.6,1152.1 L484.6,1151.9 L485.6,1151.6 L486.6,1151.4 L487.6,1151.2 L488.6,1150.9 L489.6,1150.7 L490.6,1150.5 L491.6,1150.3 L492.6,1150.0 L493.6,1149.8 L494.6,1149.6 L495.6,1149.4 L496.6,1149.2 L497.6,1149.0 L498.6,1148.7 L499.6,1148.5 L500.6,1148.3 L501.6,1148.1 L502.6,1147.9 L503.6,1147.6 L504.6,1147.4 L505.6,1147.1 L506.6,1146.9 L507.6,1146.6 L508.6,1146.3 L509.6,1146.0 L510.6,1145.8 L511.6,1145.5 L512.6,1145.2 L513.6,1145.0 L514.6,1144.8 L515.6,1144.5 L516.6,1144.3 L517.6,1144.2 L518.6,1144.0 L519.6,1143.9 L520.6,1143.8 L521.6,1143.7 L522.6,1143.7 L523.6,1143.7 L524.6,1143.7 L525.6,1143.8 L526.6,1143.8 L527.6,1143.9 L528.6,1144.0 L529.6,1144.1 L530.6,1144.2 L531.6,1144.3 L532.6,1144.4 L533.6,1144.5 L534.6,1144.6 L535.6,1144.8 L536.6,1145.0 L537.6,1145.3 L538.6,1145.5 L539.6,1145.8 L540.6,1146.2 L541.6,1146.6 L542.6,1146.9 L543.6,1147.3 L544.6,1147.8 L545.6,1148.2 L545.9,1148.3" fill="none" stroke="#000" stroke-width="3.5" stroke-linecap="round" stroke-linejoin="round"/>
<rect x="84.70" y="952.60" width="334.20" height="33.40" fill="#fff" stroke="#000" stroke-width="1.7"/>
<text x="105.43" y="975.80" font-size="19.60" font-weight="normal" fill="#000" textLength="25.01" lengthAdjust="spacingAndGlyphs">(d)</text>
<text x="138.30" y="966.30" font-size="11.60" font-weight="normal" fill="#000" textLength="10.96" lengthAdjust="spacingAndGlyphs">13</text>
<text x="149.80" y="975.80" font-size="19.60" font-weight="normal" fill="#000" textLength="14.83" lengthAdjust="spacingAndGlyphs">C</text>
<text x="164.93" y="981.90" font-size="12.20" font-weight="normal" fill="#000" textLength="7.68" lengthAdjust="spacingAndGlyphs">3</text>
<text x="177.16" y="975.80" font-size="19.60" font-weight="normal" fill="#000" textLength="139.98" lengthAdjust="spacingAndGlyphs">EC, &lt; 20 ppm H</text>
<text x="315.56" y="982.70" font-size="12.20" font-weight="normal" fill="#000" textLength="6.40" lengthAdjust="spacingAndGlyphs">2</text>
<text x="321.21" y="975.80" font-size="19.60" font-weight="normal" fill="#000" textLength="79.68" lengthAdjust="spacingAndGlyphs">O, 60 °C</text>
<path d="M72.40,940.50 H614.10 M72.40,1216.00 H614.10 M72.40,940.50 V1128.40 M72.40,1132.50 V1216.00 M614.10,940.50 V1128.40 M614.10,1132.50 V1216.00 M72.40,1128.40 H77.20 M614.10,1128.40 H609.30 M72.40,1132.50 H77.20 M614.10,1132.50 H609.30 M72.40,1105.10 H81.40 M614.10,1105.10 H605.10 M72.40,1081.47 H77.20 M614.10,1081.47 H609.30 M72.40,1057.85 H81.40 M614.10,1057.85 H605.10 M72.40,1034.22 H77.20 M614.10,1034.22 H609.30 M72.40,1010.60 H81.40 M614.10,1010.60 H605.10 M72.40,986.97 H77.20 M614.10,986.97 H609.30 M72.40,963.35 H81.40 M614.10,963.35 H605.10 M72.40,1205.80 H81.40 M614.10,1205.80 H605.10 M72.40,1195.30 H77.20 M614.10,1195.30 H609.30 M72.40,1184.80 H81.40 M614.10,1184.80 H605.10 M72.40,1174.30 H77.20 M614.10,1174.30 H609.30 M72.40,1163.80 H81.40 M614.10,1163.80 H605.10 M72.40,1153.30 H77.20 M614.10,1153.30 H609.30 M72.40,1142.80 H81.40 M614.10,1142.80 H605.10 M115.60,940.50 V950.00 M115.60,1216.00 V1207.50 M158.65,940.50 V945.50 M158.65,1216.00 V1211.50 M201.70,940.50 V950.00 M201.70,1216.00 V1207.50 M244.75,940.50 V945.50 M244.75,1216.00 V1211.50 M287.80,940.50 V950.00 M287.80,1216.00 V1207.50 M330.85,940.50 V945.50 M330.85,1216.00 V1211.50 M373.90,940.50 V950.00 M373.90,1216.00 V1207.50 M416.95,940.50 V945.50 M416.95,1216.00 V1211.50 M460.00,940.50 V950.00 M460.00,1216.00 V1207.50 M503.05,940.50 V945.50 M503.05,1216.00 V1211.50 M546.10,940.50 V950.00 M546.10,1216.00 V1207.50 M589.15,940.50 V945.50 M589.15,1216.00 V1211.50" stroke="#000" stroke-width="1.7" fill="none" stroke-linecap="square"/>
<text x="41.58" y="1111.30" font-size="18.50" font-weight="normal" fill="#000" textLength="21.49" lengthAdjust="spacingAndGlyphs">0k</text>
<text x="41.58" y="1064.05" font-size="18.50" font-weight="normal" fill="#000" textLength="21.49" lengthAdjust="spacingAndGlyphs">1k</text>
<text x="41.58" y="1016.80" font-size="18.50" font-weight="normal" fill="#000" textLength="21.49" lengthAdjust="spacingAndGlyphs">2k</text>
<text x="41.58" y="969.55" font-size="18.50" font-weight="normal" fill="#000" textLength="21.49" lengthAdjust="spacingAndGlyphs">3k</text>
<text x="35.91" y="1212.00" font-size="18.50" font-weight="normal" fill="#000" textLength="26.23" lengthAdjust="spacingAndGlyphs">0.0</text>
<text x="36.00" y="1191.00" font-size="18.50" font-weight="normal" fill="#000" textLength="26.23" lengthAdjust="spacingAndGlyphs">0.3</text>
<text x="36.00" y="1170.00" font-size="18.50" font-weight="normal" fill="#000" textLength="26.23" lengthAdjust="spacingAndGlyphs">0.6</text>
<text x="36.06" y="1149.00" font-size="18.50" font-weight="normal" fill="#000" textLength="26.23" lengthAdjust="spacingAndGlyphs">0.9</text>
<text x="102.80" y="1240.90" font-size="18.50" font-weight="normal" fill="#000" textLength="25.62" lengthAdjust="spacingAndGlyphs">3.0</text>
<text x="188.90" y="1240.90" font-size="18.50" font-weight="normal" fill="#000" textLength="25.68" lengthAdjust="spacingAndGlyphs">3.5</text>
<text x="275.28" y="1240.90" font-size="18.50" font-weight="normal" fill="#000" textLength="25.33" lengthAdjust="spacingAndGlyphs">4.0</text>
<text x="361.38" y="1240.90" font-size="18.50" font-weight="normal" fill="#000" textLength="25.39" lengthAdjust="spacingAndGlyphs">4.5</text>
<text x="447.16" y="1240.90" font-size="18.50" font-weight="normal" fill="#000" textLength="25.66" lengthAdjust="spacingAndGlyphs">5.0</text>
<text x="533.26" y="1240.90" font-size="18.50" font-weight="normal" fill="#000" textLength="25.72" lengthAdjust="spacingAndGlyphs">5.5</text>
<text x="0" y="0" font-size="24.00" font-weight="normal" fill="#000" textLength="88.47" lengthAdjust="spacingAndGlyphs" transform="translate(22.60,1063.95) rotate(-90)">c [ppm]</text>
<text x="0" y="0" font-size="24.00" font-weight="normal" fill="#000" textLength="106.54" lengthAdjust="spacingAndGlyphs" transform="translate(23.40,1231.33) rotate(-90)">i [mA/cm</text>
<text x="0" y="0" font-size="14.50" font-weight="normal" fill="#000" textLength="10.01" lengthAdjust="spacingAndGlyphs" transform="translate(12.80,1125.51) rotate(-90)">2</text>
<text x="0" y="0" font-size="24.00" font-weight="normal" fill="#000" textLength="6.99" lengthAdjust="spacingAndGlyphs" transform="translate(23.40,1116.60) rotate(-90)">]</text>
<text x="548.21" y="962.64" font-size="12.33" font-weight="bold" fill="#4a22e0" textLength="14.44" lengthAdjust="spacingAndGlyphs" style="stroke:#4a22e0;stroke-width:0.25px">13</text>
<text x="563.49" y="974.23" font-size="22.74" font-weight="normal" fill="#4a22e0" textLength="37.14" lengthAdjust="spacingAndGlyphs" style="stroke:#4a22e0;stroke-width:1.1px">CO</text>
<text x="600.89" y="982.58" font-size="11.53" font-weight="bold" fill="#4a22e0" textLength="8.61" lengthAdjust="spacingAndGlyphs" style="stroke:#4a22e0;stroke-width:0.25px">2</text>
<text x="547.01" y="1041.97" font-size="12.39" font-weight="bold" fill="#9b22e8" textLength="14.38" lengthAdjust="spacingAndGlyphs" style="stroke:#9b22e8;stroke-width:0.25px">12</text>
<text x="561.99" y="1053.53" font-size="22.88" font-weight="normal" fill="#9b22e8" textLength="37.14" lengthAdjust="spacingAndGlyphs" style="stroke:#9b22e8;stroke-width:1.1px">CO</text>
<text x="599.64" y="1061.78" font-size="11.53" font-weight="bold" fill="#9b22e8" textLength="7.80" lengthAdjust="spacingAndGlyphs" style="stroke:#9b22e8;stroke-width:0.25px">2</text>
<text x="549.54" y="1066.73" font-size="13.18" font-weight="bold" fill="#7f62e4" textLength="13.78" lengthAdjust="spacingAndGlyphs" style="stroke:#7f62e4;stroke-width:0.25px">13</text>
<text x="564.20" y="1078.33" font-size="22.74" font-weight="normal" fill="#7f62e4" textLength="37.04" lengthAdjust="spacingAndGlyphs" style="stroke:#7f62e4;stroke-width:1.1px">CO</text>
<text x="549.54" y="1091.17" font-size="13.39" font-weight="bold" fill="#cd6aec" textLength="13.83" lengthAdjust="spacingAndGlyphs" style="stroke:#cd6aec;stroke-width:0.25px">12</text>
<text x="564.20" y="1102.63" font-size="22.74" font-weight="normal" fill="#cd6aec" textLength="37.04" lengthAdjust="spacingAndGlyphs" style="stroke:#cd6aec;stroke-width:1.1px">CO</text>
<text x="268.45" y="1275.50" font-size="24.00" font-weight="normal" fill="#000" textLength="125.47" lengthAdjust="spacingAndGlyphs">E [V vs. Li/Li</text>
<text x="393.28" y="1263.60" font-size="13.00" font-weight="normal" fill="#000" textLength="8.65" lengthAdjust="spacingAndGlyphs">+</text>
<text x="403.20" y="1275.50" font-size="24.00" font-weight="normal" fill="#000" textLength="7.13" lengthAdjust="spacingAndGlyphs">]</text>
</svg>
</body></html>
